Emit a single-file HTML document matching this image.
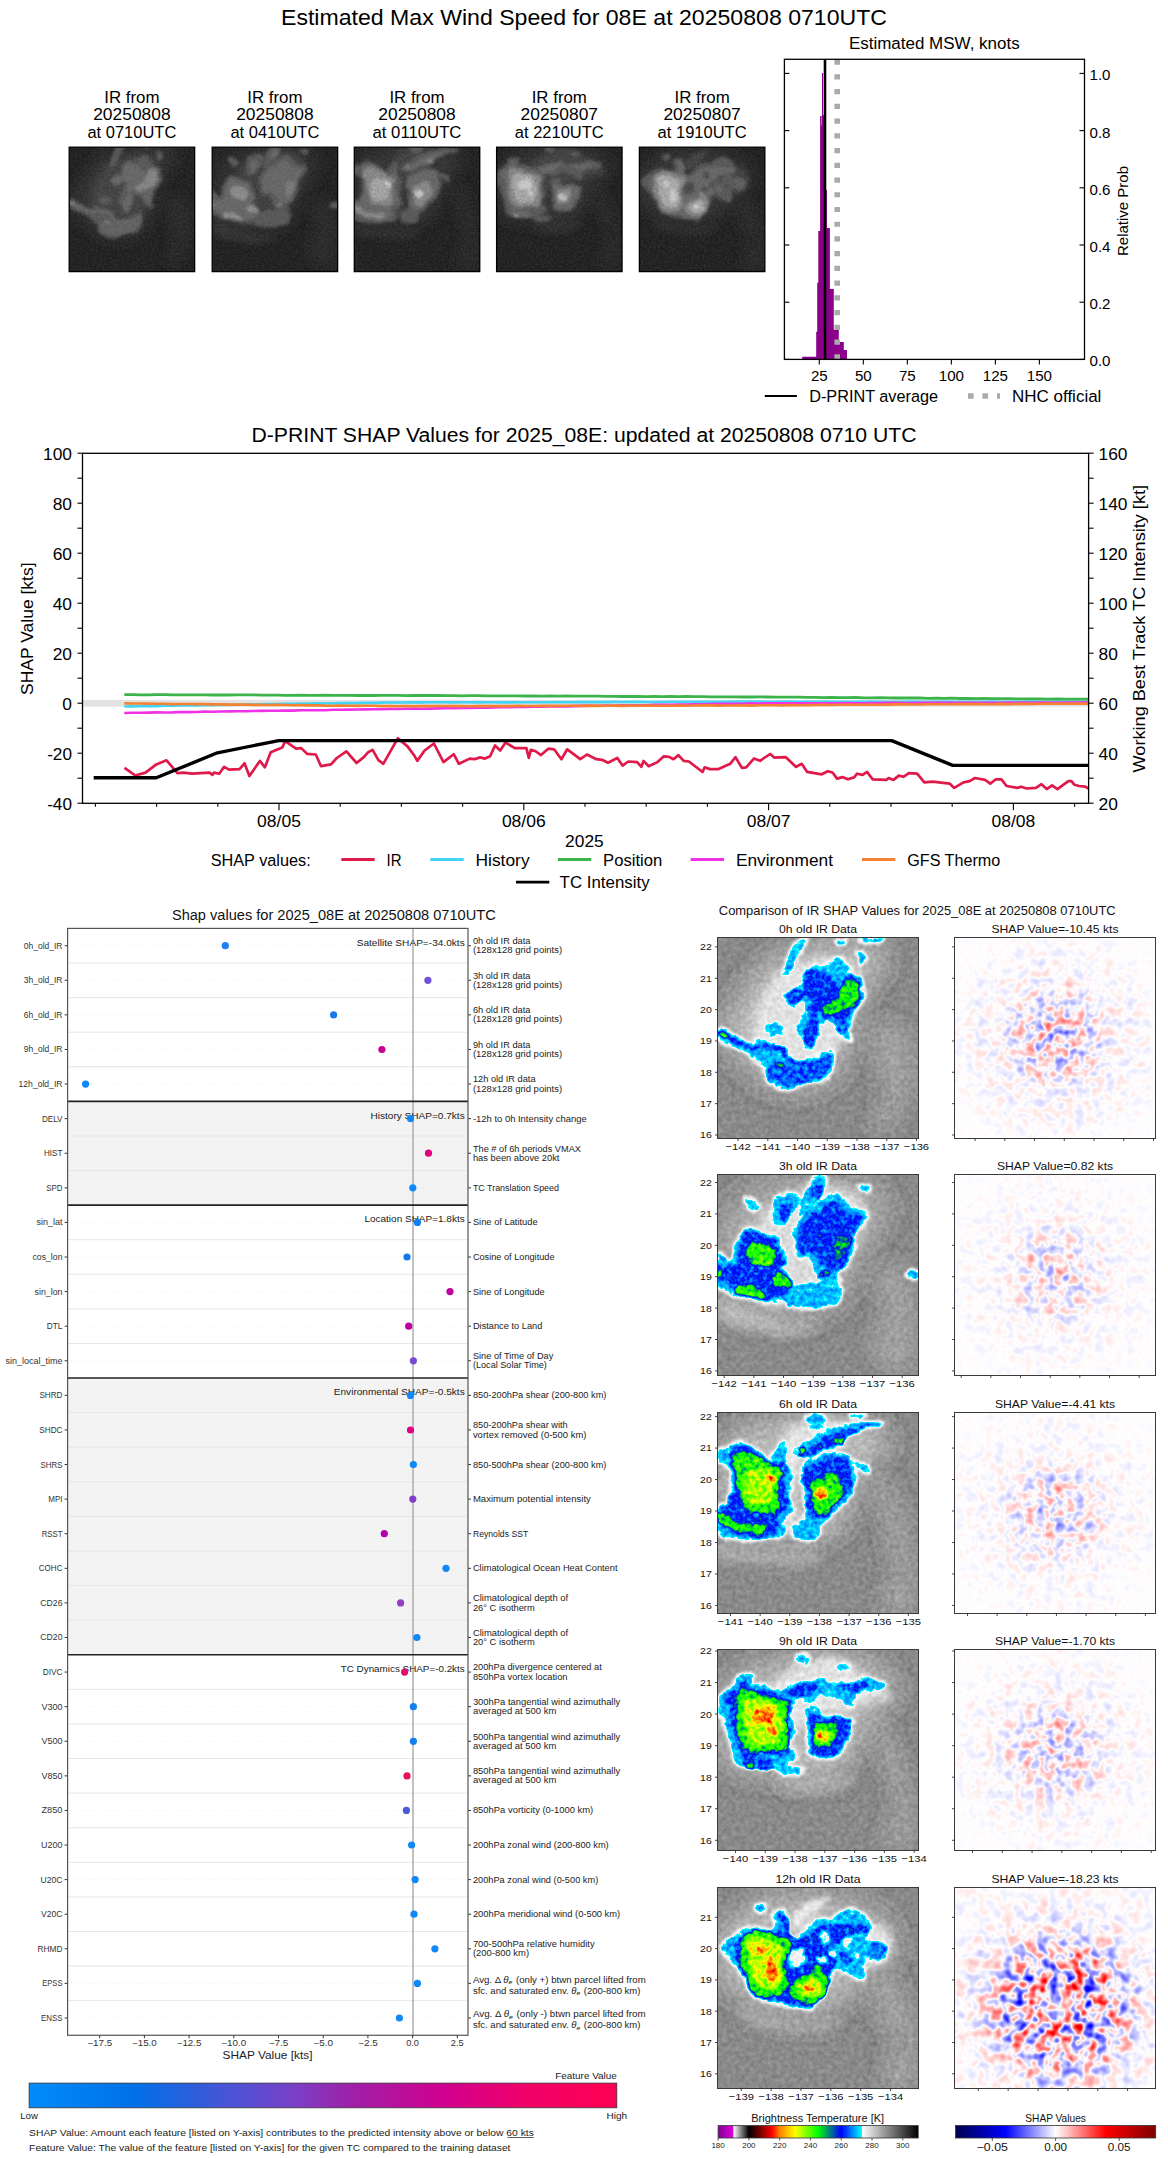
<!DOCTYPE html>
<html><head><meta charset="utf-8"><title>D-PRINT</title>
<style>html,body{margin:0;padding:0;background:#fff;}svg{display:block;}text{font-family:"Liberation Sans",sans-serif;}</style>
</head><body>
<svg width="1168" height="2158" viewBox="0 0 1168 2158">
<rect width="1168" height="2158" fill="#fff"/>
<defs><clipPath id="irclip"><rect width="200" height="200"/></clipPath><filter id="lb3" x="-30%" y="-30%" width="160%" height="160%"><feGaussianBlur stdDeviation="17.5"/></filter><filter id="lb4" x="-30%" y="-30%" width="160%" height="160%"><feGaussianBlur stdDeviation="23.4"/></filter><filter id="lb5" x="-30%" y="-30%" width="160%" height="160%"><feGaussianBlur stdDeviation="29.2"/></filter><filter id="lb6" x="-30%" y="-30%" width="160%" height="160%"><feGaussianBlur stdDeviation="35.0"/></filter><filter id="lb7" x="-30%" y="-30%" width="160%" height="160%"><feGaussianBlur stdDeviation="40.9"/></filter><filter id="lb9" x="-30%" y="-30%" width="160%" height="160%"><feGaussianBlur stdDeviation="52.6"/></filter><filter id="lb12" x="-30%" y="-30%" width="160%" height="160%"><feGaussianBlur stdDeviation="70.1"/></filter><clipPath id="topclip"><rect width="100" height="100"/></clipPath><filter id="tb1" x="-30%" y="-30%" width="160%" height="160%"><feGaussianBlur stdDeviation="0.5"/></filter><filter id="tb2" x="-30%" y="-30%" width="160%" height="160%"><feGaussianBlur stdDeviation="1.0"/></filter><filter id="tb3" x="-30%" y="-30%" width="160%" height="160%"><feGaussianBlur stdDeviation="1.5"/></filter><filter id="tb4" x="-30%" y="-30%" width="160%" height="160%"><feGaussianBlur stdDeviation="2.0"/></filter><filter id="tb5" x="-30%" y="-30%" width="160%" height="160%"><feGaussianBlur stdDeviation="2.5"/></filter><filter id="tb6" x="-30%" y="-30%" width="160%" height="160%"><feGaussianBlur stdDeviation="3.0"/></filter><filter id="tb8" x="-30%" y="-30%" width="160%" height="160%"><feGaussianBlur stdDeviation="4.0"/></filter><filter id="irf0" x="-12" y="-12" width="224" height="224" filterUnits="userSpaceOnUse" color-interpolation-filters="sRGB"><feTurbulence type="fractalNoise" baseFrequency="0.07" numOctaves="3" seed="5" result="dn"/><feDisplacementMap in="SourceGraphic" in2="dn" scale="7" xChannelSelector="R" yChannelSelector="G" result="d"/><feGaussianBlur in="d" stdDeviation="0.9" result="b"/><feTurbulence type="fractalNoise" baseFrequency="0.22" numOctaves="2" seed="8" result="n"/><feColorMatrix in="n" type="matrix" values="1 0 0 0 0 1 0 0 0 0 1 0 0 0 0 0 0 0 0 1" result="ng"/><feComponentTransfer in="b" result="m"><feFuncR type="table" tableValues="0 0 0 0 0 0 0.05 0.11 0.16 0.17 0.17 0.17 0.17 0.17 0.17 0.17 0.17 0.17 0.17 0.17 0.17"/><feFuncG type="table" tableValues="0 0 0 0 0 0 0.05 0.11 0.16 0.17 0.17 0.17 0.17 0.17 0.17 0.17 0.17 0.17 0.17 0.17 0.17"/><feFuncB type="table" tableValues="0 0 0 0 0 0 0.05 0.11 0.16 0.17 0.17 0.17 0.17 0.17 0.17 0.17 0.17 0.17 0.17 0.17 0.17"/></feComponentTransfer><feComposite in="m" in2="ng" operator="arithmetic" k1="1.0" k2="-0.5" k3="0" k4="0.5" result="t"/><feComposite in="b" in2="ng" operator="arithmetic" k1="0" k2="1" k3="0.055" k4="-0.0275" result="b2"/><feComposite in="b2" in2="t" operator="arithmetic" k1="0" k2="1" k3="1" k4="-0.5" result="f"/><feComponentTransfer in="f"><feFuncR type="table" tableValues="0.000 0.014 0.028 0.042 0.056 0.070 0.084 0.098 0.112 0.126 0.140 0.154 0.168 0.182 0.196 0.210 0.224 0.238 0.252 0.266 0.280 0.294 0.308 0.322 0.336 0.350 0.364 0.378 0.392 0.406 0.420 0.434 0.448 0.462 0.476 0.490 0.504 0.518 0.532 0.546 0.560 0.574 0.588 0.602 0.616 0.630 0.644 0.658 0.672 0.686 0.700 0.714 0.728 0.742 0.756 0.770 0.784 0.798 0.812 0.826 0.840 0.854 0.868 0.882 0.896 0.910 0.924 0.938 0.952 0.966 0.980 0.994 0.500 0.000 0.000 0.000 0.000 0.000 0.000 0.000 0.000 0.000 0.000 0.000 0.000 0.000 0.000 0.000 0.000 0.000 0.000 0.000 0.000 0.000 0.000 0.000 0.000 0.000 0.000 0.000 0.000 0.000 0.000 0.000 0.000 0.000 0.000 0.000 0.000 0.000 0.000 0.000 0.000 0.000 0.000 0.000 0.000 0.000 0.000 0.000 0.000 0.000 0.000 0.000 0.000 0.000 0.000 0.000 0.030 0.061 0.091 0.121 0.152 0.182 0.212 0.242 0.273 0.303 0.333 0.364 0.394 0.424 0.455 0.485 0.515 0.545 0.576 0.606 0.636 0.667 0.697 0.727 0.758 0.788 0.818 0.848 0.879 0.909 0.939 0.970 1.000 1.000 1.000 1.000 1.000 1.000 1.000 1.000 1.000 1.000 1.000 1.000 1.000 1.000 1.000 1.000 1.000 1.000 1.000 1.000 1.000 1.000 1.000 1.000 1.000 1.000 1.000 1.000 1.000 1.000 1.000 1.000 1.000 1.000 0.964 0.929 0.893 0.857 0.821 0.786 0.750 0.714 0.679 0.643 0.607 0.571 0.536 0.500 0.464 0.429 0.393 0.357 0.321 0.286 0.250 0.214 0.179 0.143 0.107 0.071 0.036 0.000 0.050 0.100 0.150 0.200 0.250 0.300 0.350 0.400 0.450 0.500 0.550 0.600 0.650 0.700 0.750 0.800 0.850 0.900 0.950 0.922 0.900 0.878 0.857 0.835 0.813 0.792 0.770 0.748 0.727 0.705 0.683 0.662 0.640 0.618 0.596 0.575 0.553 0.531 0.510"/><feFuncG type="table" tableValues="0.000 0.014 0.028 0.042 0.056 0.070 0.084 0.098 0.112 0.126 0.140 0.154 0.168 0.182 0.196 0.210 0.224 0.238 0.252 0.266 0.280 0.294 0.308 0.322 0.336 0.350 0.364 0.378 0.392 0.406 0.420 0.434 0.448 0.462 0.476 0.490 0.504 0.518 0.532 0.546 0.560 0.574 0.588 0.602 0.616 0.630 0.644 0.658 0.672 0.686 0.700 0.714 0.728 0.742 0.756 0.770 0.784 0.798 0.812 0.826 0.840 0.854 0.868 0.882 0.896 0.910 0.924 0.938 0.952 0.966 0.980 0.994 1.000 0.985 0.949 0.912 0.876 0.839 0.803 0.766 0.730 0.693 0.657 0.620 0.584 0.547 0.511 0.474 0.438 0.401 0.365 0.328 0.292 0.255 0.219 0.182 0.146 0.109 0.073 0.036 0.000 0.037 0.074 0.111 0.148 0.185 0.222 0.259 0.296 0.333 0.370 0.407 0.444 0.481 0.519 0.556 0.593 0.630 0.667 0.704 0.741 0.778 0.815 0.852 0.889 0.926 0.963 1.000 1.000 1.000 1.000 1.000 1.000 1.000 1.000 1.000 1.000 1.000 1.000 1.000 1.000 1.000 1.000 1.000 1.000 1.000 1.000 1.000 1.000 1.000 1.000 1.000 1.000 1.000 1.000 1.000 1.000 1.000 1.000 1.000 1.000 0.971 0.941 0.912 0.883 0.854 0.824 0.795 0.766 0.736 0.707 0.678 0.648 0.619 0.590 0.561 0.531 0.502 0.471 0.439 0.408 0.376 0.345 0.314 0.282 0.251 0.220 0.188 0.157 0.125 0.094 0.063 0.031 0.000 0.000 0.000 0.000 0.000 0.000 0.000 0.000 0.000 0.000 0.000 0.000 0.000 0.000 0.000 0.000 0.000 0.000 0.000 0.000 0.000 0.000 0.000 0.000 0.000 0.000 0.000 0.000 0.000 0.050 0.100 0.150 0.200 0.250 0.300 0.350 0.400 0.450 0.500 0.550 0.600 0.650 0.700 0.750 0.800 0.850 0.900 0.950 0.000 0.000 0.000 0.000 0.000 0.000 0.000 0.000 0.000 0.000 0.000 0.000 0.000 0.000 0.000 0.000 0.000 0.000 0.000 0.000"/><feFuncB type="table" tableValues="0.000 0.014 0.028 0.042 0.056 0.070 0.084 0.098 0.112 0.126 0.140 0.154 0.168 0.182 0.196 0.210 0.224 0.238 0.252 0.266 0.280 0.294 0.308 0.322 0.336 0.350 0.364 0.378 0.392 0.406 0.420 0.434 0.448 0.462 0.476 0.490 0.504 0.518 0.532 0.546 0.560 0.574 0.588 0.602 0.616 0.630 0.644 0.658 0.672 0.686 0.700 0.714 0.728 0.742 0.756 0.770 0.784 0.798 0.812 0.826 0.840 0.854 0.868 0.882 0.896 0.910 0.924 0.938 0.952 0.966 0.980 0.994 1.000 1.000 1.000 1.000 1.000 1.000 1.000 1.000 1.000 1.000 1.000 1.000 1.000 1.000 1.000 1.000 1.000 1.000 1.000 1.000 1.000 1.000 1.000 1.000 1.000 1.000 1.000 1.000 1.000 0.963 0.926 0.889 0.852 0.815 0.778 0.741 0.704 0.667 0.630 0.593 0.556 0.519 0.481 0.444 0.407 0.370 0.333 0.296 0.259 0.222 0.185 0.148 0.111 0.074 0.037 0.000 0.000 0.000 0.000 0.000 0.000 0.000 0.000 0.000 0.000 0.000 0.000 0.000 0.000 0.000 0.000 0.000 0.000 0.000 0.000 0.000 0.000 0.000 0.000 0.000 0.000 0.000 0.000 0.000 0.000 0.000 0.000 0.000 0.000 0.000 0.000 0.000 0.000 0.000 0.000 0.000 0.000 0.000 0.000 0.000 0.000 0.000 0.000 0.000 0.000 0.000 0.000 0.000 0.000 0.000 0.000 0.000 0.000 0.000 0.000 0.000 0.000 0.000 0.000 0.000 0.000 0.000 0.000 0.000 0.000 0.000 0.000 0.000 0.000 0.000 0.000 0.000 0.000 0.000 0.000 0.000 0.000 0.000 0.000 0.000 0.000 0.000 0.000 0.000 0.000 0.000 0.000 0.000 0.000 0.000 0.050 0.100 0.150 0.200 0.250 0.300 0.350 0.400 0.450 0.500 0.550 0.600 0.650 0.700 0.750 0.800 0.850 0.900 0.950 0.922 0.906 0.891 0.875 0.860 0.844 0.829 0.813 0.798 0.782 0.767 0.751 0.736 0.720 0.705 0.689 0.674 0.658 0.643 0.627"/></feComponentTransfer></filter><g id="irfield0"><rect x="-12" y="-12" width="224" height="224" fill="rgb(37,37,37)"/><g transform="scale(0.171233)"><path d="M10.0,540.0 C10.0,501.7 38.3,460.0 60.0,420.0 C81.7,380.0 110.0,341.7 140.0,300.0 C170.0,258.3 200.0,208.3 240.0,170.0 C280.0,131.7 333.3,95.0 380.0,70.0 C426.7,45.0 466.7,30.0 520.0,20.0 C573.3,10.0 640.0,10.0 700.0,10.0 C760.0,10.0 831.7,8.3 880.0,20.0 C928.3,31.7 976.7,50.0 990.0,80.0 C1003.3,110.0 978.3,163.3 960.0,200.0 C941.7,236.7 901.7,260.0 880.0,300.0 C858.3,340.0 845.0,390.0 830.0,440.0 C815.0,490.0 806.7,546.7 790.0,600.0 C773.3,653.3 758.3,716.7 730.0,760.0 C701.7,803.3 661.7,836.7 620.0,860.0 C578.3,883.3 526.7,896.7 480.0,900.0 C433.3,903.3 381.7,893.3 340.0,880.0 C298.3,866.7 261.7,843.3 230.0,820.0 C198.3,796.7 178.3,768.3 150.0,740.0 C121.7,711.7 83.3,683.3 60.0,650.0 C36.7,616.7 10.0,578.3 10.0,540.0Z" fill="rgb(50,50,50)" filter="url(#lb12)"/><path d="M200.0,560.0 C201.7,520.0 213.3,450.0 230.0,400.0 C246.7,350.0 268.3,300.0 300.0,260.0 C331.7,220.0 376.7,183.3 420.0,160.0 C463.3,136.7 513.3,126.7 560.0,120.0 C606.7,113.3 660.0,110.0 700.0,120.0 C740.0,130.0 780.0,150.0 800.0,180.0 C820.0,210.0 826.7,250.0 820.0,300.0 C813.3,350.0 780.0,426.7 760.0,480.0 C740.0,533.3 720.0,580.0 700.0,620.0 C680.0,660.0 666.7,696.7 640.0,720.0 C613.3,743.3 580.0,753.3 540.0,760.0 C500.0,766.7 440.0,770.0 400.0,760.0 C360.0,750.0 330.0,720.0 300.0,700.0 C270.0,680.0 236.7,663.3 220.0,640.0 C203.3,616.7 198.3,600.0 200.0,560.0Z" fill="rgb(62,62,62)" filter="url(#lb5)"/><path d="M880.0,520.0 C896.7,483.3 960.0,473.3 1000.0,480.0 C1040.0,486.7 1095.0,506.7 1120.0,560.0 C1145.0,613.3 1153.3,726.7 1150.0,800.0 C1146.7,873.3 1128.3,941.7 1100.0,1000.0 C1071.7,1058.3 1013.3,1133.3 980.0,1150.0 C946.7,1166.7 905.0,1141.7 900.0,1100.0 C895.0,1058.3 950.0,966.7 950.0,900.0 C950.0,833.3 911.7,763.3 900.0,700.0 C888.3,636.7 863.3,556.7 880.0,520.0Z" fill="rgb(42,42,42)" filter="url(#lb9)"/><g fill="rgb(68,68,68)" stroke="rgb(65,65,65)" stroke-width="34" stroke-linejoin="round"><path d="M395.0,330.0 C401.7,316.7 434.2,301.7 450.0,290.0 C465.8,278.3 478.3,276.7 490.0,260.0 C501.7,243.3 508.3,206.7 520.0,190.0 C531.7,173.3 545.0,162.5 560.0,160.0 C575.0,157.5 593.3,176.7 610.0,175.0 C626.7,173.3 645.0,159.2 660.0,150.0 C675.0,140.8 688.3,123.3 700.0,120.0 C711.7,116.7 720.0,120.0 730.0,130.0 C740.0,140.0 748.3,165.0 760.0,180.0 C771.7,195.0 787.5,211.7 800.0,220.0 C812.5,228.3 827.5,216.7 835.0,230.0 C842.5,243.3 844.2,276.7 845.0,300.0 C845.8,323.3 847.5,350.0 840.0,370.0 C832.5,390.0 810.8,403.3 800.0,420.0 C789.2,436.7 780.0,450.0 775.0,470.0 C770.0,490.0 770.0,520.0 770.0,540.0 C770.0,560.0 783.3,585.0 775.0,590.0 C766.7,595.0 734.2,583.3 720.0,570.0 C705.8,556.7 703.3,525.0 690.0,510.0 C676.7,495.0 655.0,478.3 640.0,480.0 C625.0,481.7 610.8,501.7 600.0,520.0 C589.2,538.3 581.7,569.2 575.0,590.0 C568.3,610.8 570.0,635.8 560.0,645.0 C550.0,654.2 525.8,654.2 515.0,645.0 C504.2,635.8 504.2,604.2 495.0,590.0 C485.8,575.8 466.7,571.7 460.0,560.0 C453.3,548.3 450.8,535.0 455.0,520.0 C459.2,505.0 475.8,485.0 485.0,470.0 C494.2,455.0 504.2,441.7 510.0,430.0 C515.8,418.3 523.3,410.0 520.0,400.0 C516.7,390.0 503.3,371.7 490.0,370.0 C476.7,368.3 453.3,390.0 440.0,390.0 C426.7,390.0 417.5,380.0 410.0,370.0 C402.5,360.0 388.3,343.3 395.0,330.0Z"/><path d="M0.0,530.0 C6.7,522.5 25.0,527.5 40.0,535.0 C55.0,542.5 71.7,563.3 90.0,575.0 C108.3,586.7 130.0,599.2 150.0,605.0 C170.0,610.8 195.0,612.5 210.0,610.0 C225.0,607.5 226.7,591.7 240.0,590.0 C253.3,588.3 271.7,593.3 290.0,600.0 C308.3,606.7 331.7,620.0 350.0,630.0 C368.3,640.0 385.0,648.3 400.0,660.0 C415.0,671.7 425.0,690.8 440.0,700.0 C455.0,709.2 470.0,716.7 490.0,715.0 C510.0,713.3 540.0,697.5 560.0,690.0 C580.0,682.5 593.3,675.8 610.0,670.0 C626.7,664.2 649.2,650.0 660.0,655.0 C670.8,660.0 675.0,679.2 675.0,700.0 C675.0,720.8 670.0,758.3 660.0,780.0 C650.0,801.7 635.0,820.8 615.0,830.0 C595.0,839.2 564.2,830.0 540.0,835.0 C515.8,840.0 488.3,853.3 470.0,860.0 C451.7,866.7 453.3,875.8 430.0,875.0 C406.7,874.2 354.2,862.5 330.0,855.0 C305.8,847.5 295.0,845.8 285.0,830.0 C275.0,814.2 282.5,781.7 270.0,760.0 C257.5,738.3 231.7,717.5 210.0,700.0 C188.3,682.5 163.3,669.2 140.0,655.0 C116.7,640.8 93.3,627.5 70.0,615.0 C46.7,602.5 11.7,594.2 0.0,580.0 C-11.7,565.8 -6.7,537.5 0.0,530.0Z"/><path d="M275.0,510.0 C280.0,499.2 311.7,492.5 330.0,495.0 C348.3,497.5 378.3,514.2 385.0,525.0 C391.7,535.8 384.2,554.2 370.0,560.0 C355.8,565.8 315.8,568.3 300.0,560.0 C284.2,551.7 270.0,520.8 275.0,510.0Z"/><path d="M378.0,215.0 C373.0,205.8 388.0,160.0 395.0,140.0 C402.0,120.0 411.7,109.2 420.0,95.0 C428.3,80.8 435.8,68.3 445.0,55.0 C454.2,41.7 463.3,22.8 475.0,15.0 C486.7,7.2 512.5,0.5 515.0,8.0 C517.5,15.5 500.0,39.7 490.0,60.0 C480.0,80.3 465.8,107.5 455.0,130.0 C444.2,152.5 437.8,180.8 425.0,195.0 C412.2,209.2 383.0,224.2 378.0,215.0Z"/><path d="M700.0,10.0 C706.7,6.7 738.3,6.7 745.0,10.0 C751.7,13.3 746.7,26.7 740.0,30.0 C733.3,33.3 711.7,33.3 705.0,30.0 C698.3,26.7 693.3,13.3 700.0,10.0Z"/><path d="M830.0,5.0 C846.7,2.5 933.3,1.7 950.0,5.0 C966.7,8.3 946.7,22.5 930.0,25.0 C913.3,27.5 866.7,23.3 850.0,20.0 C833.3,16.7 813.3,7.5 830.0,5.0Z"/><path d="M815.0,100.0 C819.2,89.2 842.5,78.3 850.0,85.0 C857.5,91.7 864.2,129.2 860.0,140.0 C855.8,150.8 832.5,156.7 825.0,150.0 C817.5,143.3 810.8,110.8 815.0,100.0Z"/></g><g fill="rgb(78,78,78)"><path d="M395.0,330.0 C401.7,316.7 434.2,301.7 450.0,290.0 C465.8,278.3 478.3,276.7 490.0,260.0 C501.7,243.3 508.3,206.7 520.0,190.0 C531.7,173.3 545.0,162.5 560.0,160.0 C575.0,157.5 593.3,176.7 610.0,175.0 C626.7,173.3 645.0,159.2 660.0,150.0 C675.0,140.8 688.3,123.3 700.0,120.0 C711.7,116.7 720.0,120.0 730.0,130.0 C740.0,140.0 748.3,165.0 760.0,180.0 C771.7,195.0 787.5,211.7 800.0,220.0 C812.5,228.3 827.5,216.7 835.0,230.0 C842.5,243.3 844.2,276.7 845.0,300.0 C845.8,323.3 847.5,350.0 840.0,370.0 C832.5,390.0 810.8,403.3 800.0,420.0 C789.2,436.7 780.0,450.0 775.0,470.0 C770.0,490.0 770.0,520.0 770.0,540.0 C770.0,560.0 783.3,585.0 775.0,590.0 C766.7,595.0 734.2,583.3 720.0,570.0 C705.8,556.7 703.3,525.0 690.0,510.0 C676.7,495.0 655.0,478.3 640.0,480.0 C625.0,481.7 610.8,501.7 600.0,520.0 C589.2,538.3 581.7,569.2 575.0,590.0 C568.3,610.8 570.0,635.8 560.0,645.0 C550.0,654.2 525.8,654.2 515.0,645.0 C504.2,635.8 504.2,604.2 495.0,590.0 C485.8,575.8 466.7,571.7 460.0,560.0 C453.3,548.3 450.8,535.0 455.0,520.0 C459.2,505.0 475.8,485.0 485.0,470.0 C494.2,455.0 504.2,441.7 510.0,430.0 C515.8,418.3 523.3,410.0 520.0,400.0 C516.7,390.0 503.3,371.7 490.0,370.0 C476.7,368.3 453.3,390.0 440.0,390.0 C426.7,390.0 417.5,380.0 410.0,370.0 C402.5,360.0 388.3,343.3 395.0,330.0Z"/><path d="M0.0,530.0 C6.7,522.5 25.0,527.5 40.0,535.0 C55.0,542.5 71.7,563.3 90.0,575.0 C108.3,586.7 130.0,599.2 150.0,605.0 C170.0,610.8 195.0,612.5 210.0,610.0 C225.0,607.5 226.7,591.7 240.0,590.0 C253.3,588.3 271.7,593.3 290.0,600.0 C308.3,606.7 331.7,620.0 350.0,630.0 C368.3,640.0 385.0,648.3 400.0,660.0 C415.0,671.7 425.0,690.8 440.0,700.0 C455.0,709.2 470.0,716.7 490.0,715.0 C510.0,713.3 540.0,697.5 560.0,690.0 C580.0,682.5 593.3,675.8 610.0,670.0 C626.7,664.2 649.2,650.0 660.0,655.0 C670.8,660.0 675.0,679.2 675.0,700.0 C675.0,720.8 670.0,758.3 660.0,780.0 C650.0,801.7 635.0,820.8 615.0,830.0 C595.0,839.2 564.2,830.0 540.0,835.0 C515.8,840.0 488.3,853.3 470.0,860.0 C451.7,866.7 453.3,875.8 430.0,875.0 C406.7,874.2 354.2,862.5 330.0,855.0 C305.8,847.5 295.0,845.8 285.0,830.0 C275.0,814.2 282.5,781.7 270.0,760.0 C257.5,738.3 231.7,717.5 210.0,700.0 C188.3,682.5 163.3,669.2 140.0,655.0 C116.7,640.8 93.3,627.5 70.0,615.0 C46.7,602.5 11.7,594.2 0.0,580.0 C-11.7,565.8 -6.7,537.5 0.0,530.0Z"/><path d="M275.0,510.0 C280.0,499.2 311.7,492.5 330.0,495.0 C348.3,497.5 378.3,514.2 385.0,525.0 C391.7,535.8 384.2,554.2 370.0,560.0 C355.8,565.8 315.8,568.3 300.0,560.0 C284.2,551.7 270.0,520.8 275.0,510.0Z"/><path d="M378.0,215.0 C373.0,205.8 388.0,160.0 395.0,140.0 C402.0,120.0 411.7,109.2 420.0,95.0 C428.3,80.8 435.8,68.3 445.0,55.0 C454.2,41.7 463.3,22.8 475.0,15.0 C486.7,7.2 512.5,0.5 515.0,8.0 C517.5,15.5 500.0,39.7 490.0,60.0 C480.0,80.3 465.8,107.5 455.0,130.0 C444.2,152.5 437.8,180.8 425.0,195.0 C412.2,209.2 383.0,224.2 378.0,215.0Z"/><path d="M700.0,10.0 C706.7,6.7 738.3,6.7 745.0,10.0 C751.7,13.3 746.7,26.7 740.0,30.0 C733.3,33.3 711.7,33.3 705.0,30.0 C698.3,26.7 693.3,13.3 700.0,10.0Z"/><path d="M830.0,5.0 C846.7,2.5 933.3,1.7 950.0,5.0 C966.7,8.3 946.7,22.5 930.0,25.0 C913.3,27.5 866.7,23.3 850.0,20.0 C833.3,16.7 813.3,7.5 830.0,5.0Z"/><path d="M815.0,100.0 C819.2,89.2 842.5,78.3 850.0,85.0 C857.5,91.7 864.2,129.2 860.0,140.0 C855.8,150.8 832.5,156.7 825.0,150.0 C817.5,143.3 810.8,110.8 815.0,100.0Z"/></g><g fill="rgb(88,88,88)"><path d="M290.0,760.0 C300.8,744.2 335.0,731.7 360.0,730.0 C385.0,728.3 413.3,748.3 440.0,750.0 C466.7,751.7 493.3,749.2 520.0,740.0 C546.7,730.8 577.5,704.2 600.0,695.0 C622.5,685.8 647.5,670.8 655.0,685.0 C662.5,699.2 654.2,756.7 645.0,780.0 C635.8,803.3 629.2,812.5 600.0,825.0 C570.8,837.5 514.2,851.7 470.0,855.0 C425.8,858.3 364.2,850.0 335.0,845.0 C305.8,840.0 302.5,839.2 295.0,825.0 C287.5,810.8 279.2,775.8 290.0,760.0Z"/><path d="M680.0,460.0 C688.3,450.0 726.7,436.7 740.0,450.0 C753.3,463.3 763.3,521.7 760.0,540.0 C756.7,558.3 731.7,565.0 720.0,560.0 C708.3,555.0 696.7,526.7 690.0,510.0 C683.3,493.3 671.7,470.0 680.0,460.0Z"/></g><g fill="rgb(93,93,93)"><path d="M490.0,290.0 C492.5,268.3 508.3,223.3 520.0,205.0 C531.7,186.7 545.8,179.2 560.0,180.0 C574.2,180.8 590.0,202.5 605.0,210.0 C620.0,217.5 635.8,215.8 650.0,225.0 C664.2,234.2 680.8,247.5 690.0,265.0 C699.2,282.5 709.2,310.8 705.0,330.0 C700.8,349.2 678.3,368.3 665.0,380.0 C651.7,391.7 637.5,390.0 625.0,400.0 C612.5,410.0 600.8,428.3 590.0,440.0 C579.2,451.7 570.0,471.7 560.0,470.0 C550.0,468.3 533.3,445.0 530.0,430.0 C526.7,415.0 544.2,395.8 540.0,380.0 C535.8,364.2 513.3,350.0 505.0,335.0 C496.7,320.0 487.5,311.7 490.0,290.0Z"/><path d="M535.0,490.0 C550.0,476.7 583.3,468.3 590.0,480.0 C596.7,491.7 580.0,535.0 575.0,560.0 C570.0,585.0 569.2,620.0 560.0,630.0 C550.8,640.0 530.0,631.7 520.0,620.0 C510.0,608.3 497.5,581.7 500.0,560.0 C502.5,538.3 520.0,503.3 535.0,490.0Z"/><path d="M0.0,548.0 C3.3,553.8 38.3,577.2 60.0,590.0 C81.7,602.8 106.7,615.0 130.0,625.0 C153.3,635.0 178.3,647.5 200.0,650.0 C221.7,652.5 240.0,640.0 260.0,640.0 C280.0,640.0 300.0,643.3 320.0,650.0 C340.0,656.7 363.3,668.3 380.0,680.0 C396.7,691.7 405.0,709.2 420.0,720.0 C435.0,730.8 453.3,738.3 470.0,745.0 C486.7,751.7 501.7,761.7 520.0,760.0 C538.3,758.3 560.0,746.7 580.0,735.0 C600.0,723.3 643.3,693.3 640.0,690.0 C636.7,686.7 583.3,709.2 560.0,715.0 C536.7,720.8 520.0,727.5 500.0,725.0 C480.0,722.5 458.3,710.8 440.0,700.0 C421.7,689.2 410.0,672.5 390.0,660.0 C370.0,647.5 343.3,632.5 320.0,625.0 C296.7,617.5 270.0,614.2 250.0,615.0 C230.0,615.8 221.7,632.5 200.0,630.0 C178.3,627.5 146.7,612.5 120.0,600.0 C93.3,587.5 60.0,563.7 40.0,555.0 C20.0,546.3 -3.3,542.2 0.0,548.0Z"/><path d="M400.0,330.0 C408.3,318.3 453.3,300.0 470.0,300.0 C486.7,300.0 500.0,318.3 500.0,330.0 C500.0,341.7 483.3,363.3 470.0,370.0 C456.7,376.7 431.7,376.7 420.0,370.0 C408.3,363.3 391.7,341.7 400.0,330.0Z"/><path d="M600.0,400.0 C616.7,376.7 676.7,328.3 700.0,300.0 C723.3,271.7 720.0,242.5 740.0,230.0 C760.0,217.5 803.3,213.3 820.0,225.0 C836.7,236.7 838.3,274.2 840.0,300.0 C841.7,325.8 840.0,360.0 830.0,380.0 C820.0,400.0 791.7,405.0 780.0,420.0 C768.3,435.0 773.3,463.3 760.0,470.0 C746.7,476.7 720.0,460.0 700.0,460.0 C680.0,460.0 656.7,473.3 640.0,470.0 C623.3,466.7 606.7,451.7 600.0,440.0 C593.3,428.3 583.3,423.3 600.0,400.0Z"/></g><g fill="rgb(124,124,124)"><path d="M715.0,300.0 C723.3,283.3 735.8,253.3 750.0,245.0 C764.2,236.7 787.0,240.8 800.0,250.0 C813.0,259.2 824.7,281.7 828.0,300.0 C831.3,318.3 826.3,343.3 820.0,360.0 C813.7,376.7 800.8,391.7 790.0,400.0 C779.2,408.3 767.5,405.8 755.0,410.0 C742.5,414.2 727.5,420.0 715.0,425.0 C702.5,430.0 695.0,439.2 680.0,440.0 C665.0,440.8 635.8,435.8 625.0,430.0 C614.2,424.2 609.2,412.5 615.0,405.0 C620.8,397.5 645.8,395.0 660.0,385.0 C674.2,375.0 690.8,359.2 700.0,345.0 C709.2,330.8 706.7,316.7 715.0,300.0Z"/><path d="M0.0,550.0 C1.7,546.7 20.0,555.0 30.0,560.0 C40.0,565.0 61.7,576.7 60.0,580.0 C58.3,583.3 30.0,585.0 20.0,580.0 C10.0,575.0 -1.7,553.3 0.0,550.0Z"/><path d="M340.0,720.0 C346.7,718.3 380.8,730.0 390.0,735.0 C399.2,740.0 401.7,748.3 395.0,750.0 C388.3,751.7 359.2,750.0 350.0,745.0 C340.8,740.0 333.3,721.7 340.0,720.0Z"/></g></g></g><g id="ir0"><g clip-path="url(#irclip)"><g filter="url(#irf0)"><use href="#irfield0"/></g></g></g><filter id="tgf0" x="-12" y="-12" width="224" height="224" filterUnits="userSpaceOnUse" color-interpolation-filters="sRGB"><feTurbulence type="fractalNoise" baseFrequency="0.07" numOctaves="3" seed="5" result="dn"/><feDisplacementMap in="SourceGraphic" in2="dn" scale="7" xChannelSelector="R" yChannelSelector="G" result="d"/><feGaussianBlur in="d" stdDeviation="1.5" result="b"/><feTurbulence type="fractalNoise" baseFrequency="0.3" numOctaves="2" seed="8" result="n"/><feColorMatrix in="n" type="matrix" values="1 0 0 0 0 1 0 0 0 0 1 0 0 0 0 0 0 0 0 1" result="ng"/><feComposite in="b" in2="ng" operator="arithmetic" k1="0" k2="1" k3="0.07" k4="-0.035" result="f"/><feComponentTransfer in="f" result="c"><feFuncR type="table" tableValues="0.110 0.114 0.117 0.121 0.124 0.128 0.131 0.135 0.138 0.142 0.145 0.149 0.152 0.156 0.159 0.163 0.166 0.170 0.181 0.192 0.203 0.213 0.224 0.235 0.244 0.254 0.263 0.272 0.281 0.291 0.300 0.310 0.320 0.330 0.340 0.350 0.360 0.367 0.375 0.383 0.390 0.397 0.405 0.412 0.420 0.426 0.432 0.439 0.445 0.451 0.457 0.464 0.470 0.477 0.483 0.490 0.497 0.503 0.510 0.517 0.523 0.530 0.537 0.543 0.550 0.561 0.572 0.583 0.593 0.604 0.615 0.626 0.637 0.648 0.658 0.669 0.680 0.688 0.697 0.705 0.714 0.722 0.731 0.739 0.748 0.756 0.765 0.773 0.782 0.790 0.793 0.796 0.799 0.801 0.804 0.807 0.810 0.813 0.816 0.819 0.821 0.824 0.827 0.830 0.833 0.836 0.839 0.841 0.844 0.847 0.850 0.853 0.855 0.857 0.860 0.863 0.865 0.867 0.870 0.873 0.875 0.877 0.880 0.883 0.885 0.887 0.890 0.893 0.895 0.897 0.900"/><feFuncG type="table" tableValues="0.110 0.114 0.117 0.121 0.124 0.128 0.131 0.135 0.138 0.142 0.145 0.149 0.152 0.156 0.159 0.163 0.166 0.170 0.181 0.192 0.203 0.213 0.224 0.235 0.244 0.254 0.263 0.272 0.281 0.291 0.300 0.310 0.320 0.330 0.340 0.350 0.360 0.367 0.375 0.383 0.390 0.397 0.405 0.412 0.420 0.426 0.432 0.439 0.445 0.451 0.457 0.464 0.470 0.477 0.483 0.490 0.497 0.503 0.510 0.517 0.523 0.530 0.537 0.543 0.550 0.561 0.572 0.583 0.593 0.604 0.615 0.626 0.637 0.648 0.658 0.669 0.680 0.688 0.697 0.705 0.714 0.722 0.731 0.739 0.748 0.756 0.765 0.773 0.782 0.790 0.793 0.796 0.799 0.801 0.804 0.807 0.810 0.813 0.816 0.819 0.821 0.824 0.827 0.830 0.833 0.836 0.839 0.841 0.844 0.847 0.850 0.853 0.855 0.857 0.860 0.863 0.865 0.867 0.870 0.873 0.875 0.877 0.880 0.883 0.885 0.887 0.890 0.893 0.895 0.897 0.900"/><feFuncB type="table" tableValues="0.110 0.114 0.117 0.121 0.124 0.128 0.131 0.135 0.138 0.142 0.145 0.149 0.152 0.156 0.159 0.163 0.166 0.170 0.181 0.192 0.203 0.213 0.224 0.235 0.244 0.254 0.263 0.272 0.281 0.291 0.300 0.310 0.320 0.330 0.340 0.350 0.360 0.367 0.375 0.383 0.390 0.397 0.405 0.412 0.420 0.426 0.432 0.439 0.445 0.451 0.457 0.464 0.470 0.477 0.483 0.490 0.497 0.503 0.510 0.517 0.523 0.530 0.537 0.543 0.550 0.561 0.572 0.583 0.593 0.604 0.615 0.626 0.637 0.648 0.658 0.669 0.680 0.688 0.697 0.705 0.714 0.722 0.731 0.739 0.748 0.756 0.765 0.773 0.782 0.790 0.793 0.796 0.799 0.801 0.804 0.807 0.810 0.813 0.816 0.819 0.821 0.824 0.827 0.830 0.833 0.836 0.839 0.841 0.844 0.847 0.850 0.853 0.855 0.857 0.860 0.863 0.865 0.867 0.870 0.873 0.875 0.877 0.880 0.883 0.885 0.887 0.890 0.893 0.895 0.897 0.900"/></feComponentTransfer><feComposite in="c" in2="ng" operator="arithmetic" k1="0.12" k2="1" k3="0" k4="-0.06"/></filter><g id="topir0"><g clip-path="url(#topclip)"><g transform="translate(0,-3) scale(0.5)"><g filter="url(#tgf0)"><use href="#irfield0"/></g></g></g></g><filter id="irf1" x="-12" y="-12" width="224" height="224" filterUnits="userSpaceOnUse" color-interpolation-filters="sRGB"><feTurbulence type="fractalNoise" baseFrequency="0.07" numOctaves="3" seed="18" result="dn"/><feDisplacementMap in="SourceGraphic" in2="dn" scale="7" xChannelSelector="R" yChannelSelector="G" result="d"/><feGaussianBlur in="d" stdDeviation="0.9" result="b"/><feTurbulence type="fractalNoise" baseFrequency="0.22" numOctaves="2" seed="21" result="n"/><feColorMatrix in="n" type="matrix" values="1 0 0 0 0 1 0 0 0 0 1 0 0 0 0 0 0 0 0 1" result="ng"/><feComponentTransfer in="b" result="m"><feFuncR type="table" tableValues="0 0 0 0 0 0 0.05 0.11 0.16 0.17 0.17 0.17 0.17 0.17 0.17 0.17 0.17 0.17 0.17 0.17 0.17"/><feFuncG type="table" tableValues="0 0 0 0 0 0 0.05 0.11 0.16 0.17 0.17 0.17 0.17 0.17 0.17 0.17 0.17 0.17 0.17 0.17 0.17"/><feFuncB type="table" tableValues="0 0 0 0 0 0 0.05 0.11 0.16 0.17 0.17 0.17 0.17 0.17 0.17 0.17 0.17 0.17 0.17 0.17 0.17"/></feComponentTransfer><feComposite in="m" in2="ng" operator="arithmetic" k1="1.0" k2="-0.5" k3="0" k4="0.5" result="t"/><feComposite in="b" in2="ng" operator="arithmetic" k1="0" k2="1" k3="0.055" k4="-0.0275" result="b2"/><feComposite in="b2" in2="t" operator="arithmetic" k1="0" k2="1" k3="1" k4="-0.5" result="f"/><feComponentTransfer in="f"><feFuncR type="table" tableValues="0.000 0.014 0.028 0.042 0.056 0.070 0.084 0.098 0.112 0.126 0.140 0.154 0.168 0.182 0.196 0.210 0.224 0.238 0.252 0.266 0.280 0.294 0.308 0.322 0.336 0.350 0.364 0.378 0.392 0.406 0.420 0.434 0.448 0.462 0.476 0.490 0.504 0.518 0.532 0.546 0.560 0.574 0.588 0.602 0.616 0.630 0.644 0.658 0.672 0.686 0.700 0.714 0.728 0.742 0.756 0.770 0.784 0.798 0.812 0.826 0.840 0.854 0.868 0.882 0.896 0.910 0.924 0.938 0.952 0.966 0.980 0.994 0.500 0.000 0.000 0.000 0.000 0.000 0.000 0.000 0.000 0.000 0.000 0.000 0.000 0.000 0.000 0.000 0.000 0.000 0.000 0.000 0.000 0.000 0.000 0.000 0.000 0.000 0.000 0.000 0.000 0.000 0.000 0.000 0.000 0.000 0.000 0.000 0.000 0.000 0.000 0.000 0.000 0.000 0.000 0.000 0.000 0.000 0.000 0.000 0.000 0.000 0.000 0.000 0.000 0.000 0.000 0.000 0.030 0.061 0.091 0.121 0.152 0.182 0.212 0.242 0.273 0.303 0.333 0.364 0.394 0.424 0.455 0.485 0.515 0.545 0.576 0.606 0.636 0.667 0.697 0.727 0.758 0.788 0.818 0.848 0.879 0.909 0.939 0.970 1.000 1.000 1.000 1.000 1.000 1.000 1.000 1.000 1.000 1.000 1.000 1.000 1.000 1.000 1.000 1.000 1.000 1.000 1.000 1.000 1.000 1.000 1.000 1.000 1.000 1.000 1.000 1.000 1.000 1.000 1.000 1.000 1.000 1.000 0.964 0.929 0.893 0.857 0.821 0.786 0.750 0.714 0.679 0.643 0.607 0.571 0.536 0.500 0.464 0.429 0.393 0.357 0.321 0.286 0.250 0.214 0.179 0.143 0.107 0.071 0.036 0.000 0.050 0.100 0.150 0.200 0.250 0.300 0.350 0.400 0.450 0.500 0.550 0.600 0.650 0.700 0.750 0.800 0.850 0.900 0.950 0.922 0.900 0.878 0.857 0.835 0.813 0.792 0.770 0.748 0.727 0.705 0.683 0.662 0.640 0.618 0.596 0.575 0.553 0.531 0.510"/><feFuncG type="table" tableValues="0.000 0.014 0.028 0.042 0.056 0.070 0.084 0.098 0.112 0.126 0.140 0.154 0.168 0.182 0.196 0.210 0.224 0.238 0.252 0.266 0.280 0.294 0.308 0.322 0.336 0.350 0.364 0.378 0.392 0.406 0.420 0.434 0.448 0.462 0.476 0.490 0.504 0.518 0.532 0.546 0.560 0.574 0.588 0.602 0.616 0.630 0.644 0.658 0.672 0.686 0.700 0.714 0.728 0.742 0.756 0.770 0.784 0.798 0.812 0.826 0.840 0.854 0.868 0.882 0.896 0.910 0.924 0.938 0.952 0.966 0.980 0.994 1.000 0.985 0.949 0.912 0.876 0.839 0.803 0.766 0.730 0.693 0.657 0.620 0.584 0.547 0.511 0.474 0.438 0.401 0.365 0.328 0.292 0.255 0.219 0.182 0.146 0.109 0.073 0.036 0.000 0.037 0.074 0.111 0.148 0.185 0.222 0.259 0.296 0.333 0.370 0.407 0.444 0.481 0.519 0.556 0.593 0.630 0.667 0.704 0.741 0.778 0.815 0.852 0.889 0.926 0.963 1.000 1.000 1.000 1.000 1.000 1.000 1.000 1.000 1.000 1.000 1.000 1.000 1.000 1.000 1.000 1.000 1.000 1.000 1.000 1.000 1.000 1.000 1.000 1.000 1.000 1.000 1.000 1.000 1.000 1.000 1.000 1.000 1.000 1.000 0.971 0.941 0.912 0.883 0.854 0.824 0.795 0.766 0.736 0.707 0.678 0.648 0.619 0.590 0.561 0.531 0.502 0.471 0.439 0.408 0.376 0.345 0.314 0.282 0.251 0.220 0.188 0.157 0.125 0.094 0.063 0.031 0.000 0.000 0.000 0.000 0.000 0.000 0.000 0.000 0.000 0.000 0.000 0.000 0.000 0.000 0.000 0.000 0.000 0.000 0.000 0.000 0.000 0.000 0.000 0.000 0.000 0.000 0.000 0.000 0.000 0.050 0.100 0.150 0.200 0.250 0.300 0.350 0.400 0.450 0.500 0.550 0.600 0.650 0.700 0.750 0.800 0.850 0.900 0.950 0.000 0.000 0.000 0.000 0.000 0.000 0.000 0.000 0.000 0.000 0.000 0.000 0.000 0.000 0.000 0.000 0.000 0.000 0.000 0.000"/><feFuncB type="table" tableValues="0.000 0.014 0.028 0.042 0.056 0.070 0.084 0.098 0.112 0.126 0.140 0.154 0.168 0.182 0.196 0.210 0.224 0.238 0.252 0.266 0.280 0.294 0.308 0.322 0.336 0.350 0.364 0.378 0.392 0.406 0.420 0.434 0.448 0.462 0.476 0.490 0.504 0.518 0.532 0.546 0.560 0.574 0.588 0.602 0.616 0.630 0.644 0.658 0.672 0.686 0.700 0.714 0.728 0.742 0.756 0.770 0.784 0.798 0.812 0.826 0.840 0.854 0.868 0.882 0.896 0.910 0.924 0.938 0.952 0.966 0.980 0.994 1.000 1.000 1.000 1.000 1.000 1.000 1.000 1.000 1.000 1.000 1.000 1.000 1.000 1.000 1.000 1.000 1.000 1.000 1.000 1.000 1.000 1.000 1.000 1.000 1.000 1.000 1.000 1.000 1.000 0.963 0.926 0.889 0.852 0.815 0.778 0.741 0.704 0.667 0.630 0.593 0.556 0.519 0.481 0.444 0.407 0.370 0.333 0.296 0.259 0.222 0.185 0.148 0.111 0.074 0.037 0.000 0.000 0.000 0.000 0.000 0.000 0.000 0.000 0.000 0.000 0.000 0.000 0.000 0.000 0.000 0.000 0.000 0.000 0.000 0.000 0.000 0.000 0.000 0.000 0.000 0.000 0.000 0.000 0.000 0.000 0.000 0.000 0.000 0.000 0.000 0.000 0.000 0.000 0.000 0.000 0.000 0.000 0.000 0.000 0.000 0.000 0.000 0.000 0.000 0.000 0.000 0.000 0.000 0.000 0.000 0.000 0.000 0.000 0.000 0.000 0.000 0.000 0.000 0.000 0.000 0.000 0.000 0.000 0.000 0.000 0.000 0.000 0.000 0.000 0.000 0.000 0.000 0.000 0.000 0.000 0.000 0.000 0.000 0.000 0.000 0.000 0.000 0.000 0.000 0.000 0.000 0.000 0.000 0.000 0.000 0.050 0.100 0.150 0.200 0.250 0.300 0.350 0.400 0.450 0.500 0.550 0.600 0.650 0.700 0.750 0.800 0.850 0.900 0.950 0.922 0.906 0.891 0.875 0.860 0.844 0.829 0.813 0.798 0.782 0.767 0.751 0.736 0.720 0.705 0.689 0.674 0.658 0.643 0.627"/></feComponentTransfer></filter><g id="irfield1"><rect x="-12" y="-12" width="224" height="224" fill="rgb(37,37,37)"/><g transform="scale(0.171233)"><path d="M0.0,380.0 C10.0,296.7 26.7,250.0 60.0,200.0 C93.3,150.0 143.3,110.0 200.0,80.0 C256.7,50.0 330.0,32.5 400.0,20.0 C470.0,7.5 545.0,3.3 620.0,5.0 C695.0,6.7 786.7,5.8 850.0,30.0 C913.3,54.2 981.7,105.0 1000.0,150.0 C1018.3,195.0 980.0,250.0 960.0,300.0 C940.0,350.0 906.7,400.0 880.0,450.0 C853.3,500.0 830.0,548.3 800.0,600.0 C770.0,651.7 740.0,720.0 700.0,760.0 C660.0,800.0 610.0,825.0 560.0,840.0 C510.0,855.0 455.0,853.3 400.0,850.0 C345.0,846.7 283.3,835.0 230.0,820.0 C176.7,805.0 118.3,780.0 80.0,760.0 C41.7,740.0 13.3,763.3 0.0,700.0 C-13.3,636.7 -10.0,463.3 0.0,380.0Z" fill="rgb(47,47,47)" filter="url(#lb12)"/><path d="M120.0,520.0 C123.3,453.3 165.0,360.0 200.0,300.0 C235.0,240.0 283.3,196.7 330.0,160.0 C376.7,123.3 426.7,96.7 480.0,80.0 C533.3,63.3 593.3,53.3 650.0,60.0 C706.7,66.7 785.0,88.3 820.0,120.0 C855.0,151.7 863.3,200.0 860.0,250.0 C856.7,300.0 823.3,368.3 800.0,420.0 C776.7,471.7 746.7,513.3 720.0,560.0 C693.3,606.7 676.7,666.7 640.0,700.0 C603.3,733.3 551.7,750.0 500.0,760.0 C448.3,770.0 383.3,770.0 330.0,760.0 C276.7,750.0 215.0,740.0 180.0,700.0 C145.0,660.0 116.7,586.7 120.0,520.0Z" fill="rgb(59,59,59)" filter="url(#lb5)"/><path d="M900.0,600.0 C916.7,550.0 1008.3,483.3 1050.0,500.0 C1091.7,516.7 1133.3,600.0 1150.0,700.0 C1166.7,800.0 1175.0,1023.3 1150.0,1100.0 C1125.0,1176.7 1045.0,1176.7 1000.0,1160.0 C955.0,1143.3 888.3,1060.0 880.0,1000.0 C871.7,940.0 946.7,866.7 950.0,800.0 C953.3,733.3 883.3,650.0 900.0,600.0Z" fill="rgb(42,42,42)" filter="url(#lb9)"/><path d="M0.0,720.0 C33.3,708.3 133.3,756.7 200.0,780.0 C266.7,803.3 333.3,843.3 400.0,860.0 C466.7,876.7 600.0,866.7 600.0,880.0 C600.0,893.3 475.0,936.7 400.0,940.0 C325.0,943.3 216.7,915.0 150.0,900.0 C83.3,885.0 25.0,880.0 0.0,850.0 C-25.0,820.0 -33.3,731.7 0.0,720.0Z" fill="rgb(48,48,48)" filter="url(#lb6)"/><g fill="rgb(68,68,68)" stroke="rgb(65,65,65)" stroke-width="34" stroke-linejoin="round"><path d="M0.0,470.0 C10.0,446.7 43.3,500.0 60.0,500.0 C76.7,500.0 93.3,485.0 100.0,470.0 C106.7,455.0 93.3,433.3 100.0,410.0 C106.7,386.7 126.7,346.7 140.0,330.0 C153.3,313.3 165.0,311.7 180.0,310.0 C195.0,308.3 213.3,313.3 230.0,320.0 C246.7,326.7 261.7,343.3 280.0,350.0 C298.3,356.7 325.0,348.3 340.0,360.0 C355.0,371.7 360.0,400.0 370.0,420.0 C380.0,440.0 398.3,460.0 400.0,480.0 C401.7,500.0 376.7,520.0 380.0,540.0 C383.3,560.0 410.0,583.3 420.0,600.0 C430.0,616.7 416.7,635.0 440.0,640.0 C463.3,645.0 526.7,633.3 560.0,630.0 C593.3,626.7 616.7,618.3 640.0,620.0 C663.3,621.7 686.7,626.7 700.0,640.0 C713.3,653.3 723.3,681.7 720.0,700.0 C716.7,718.3 700.0,738.3 680.0,750.0 C660.0,761.7 620.0,765.0 600.0,770.0 C580.0,775.0 580.0,781.7 560.0,780.0 C540.0,778.3 503.3,761.7 480.0,760.0 C456.7,758.3 436.7,773.3 420.0,770.0 C403.3,766.7 400.0,745.0 380.0,740.0 C360.0,735.0 330.0,743.3 300.0,740.0 C270.0,736.7 233.3,726.7 200.0,720.0 C166.7,713.3 130.0,710.0 100.0,700.0 C70.0,690.0 36.7,670.0 20.0,660.0 C3.3,650.0 3.3,671.7 0.0,640.0 C-3.3,608.3 -10.0,493.3 0.0,470.0Z"/><path d="M440.0,340.0 C443.3,318.3 460.0,308.3 470.0,290.0 C480.0,271.7 485.0,248.3 500.0,230.0 C515.0,211.7 538.3,195.0 560.0,180.0 C581.7,165.0 606.7,151.7 630.0,140.0 C653.3,128.3 678.3,105.0 700.0,110.0 C721.7,115.0 743.3,155.0 760.0,170.0 C776.7,185.0 783.3,193.3 800.0,200.0 C816.7,206.7 848.3,200.0 860.0,210.0 C871.7,220.0 876.7,245.0 870.0,260.0 C863.3,275.0 833.3,286.7 820.0,300.0 C806.7,313.3 793.3,320.0 790.0,340.0 C786.7,360.0 803.3,396.7 800.0,420.0 C796.7,443.3 780.0,460.0 770.0,480.0 C760.0,500.0 751.7,523.3 740.0,540.0 C728.3,556.7 705.0,566.7 700.0,580.0 C695.0,593.3 718.3,613.3 710.0,620.0 C701.7,626.7 668.3,621.7 650.0,620.0 C631.7,618.3 615.0,620.0 600.0,610.0 C585.0,600.0 570.0,581.7 560.0,560.0 C550.0,538.3 553.3,493.3 540.0,480.0 C526.7,466.7 495.0,490.0 480.0,480.0 C465.0,470.0 456.7,443.3 450.0,420.0 C443.3,396.7 436.7,361.7 440.0,340.0Z"/><path d="M330.0,150.0 C340.0,133.3 361.7,138.3 380.0,130.0 C398.3,121.7 425.0,96.7 440.0,100.0 C455.0,103.3 473.3,128.3 470.0,150.0 C466.7,171.7 431.7,208.3 420.0,230.0 C408.3,251.7 413.3,270.0 400.0,280.0 C386.7,290.0 353.3,298.3 340.0,290.0 C326.7,281.7 321.7,253.3 320.0,230.0 C318.3,206.7 320.0,166.7 330.0,150.0Z"/><path d="M500.0,120.0 C511.7,91.7 530.0,78.3 540.0,60.0 C550.0,41.7 546.7,18.3 560.0,10.0 C573.3,1.7 611.7,-5.0 620.0,10.0 C628.3,25.0 620.0,73.3 610.0,100.0 C600.0,126.7 578.3,150.0 560.0,170.0 C541.7,190.0 515.0,210.0 500.0,220.0 C485.0,230.0 470.0,246.7 470.0,230.0 C470.0,213.3 488.3,148.3 500.0,120.0Z"/><path d="M160.0,140.0 C163.3,131.7 196.7,141.7 210.0,150.0 C223.3,158.3 243.3,181.7 240.0,190.0 C236.7,198.3 203.3,208.3 190.0,200.0 C176.7,191.7 156.7,148.3 160.0,140.0Z"/><path d="M830.0,55.0 C836.7,52.5 872.5,63.3 880.0,70.0 C887.5,76.7 881.7,92.5 875.0,95.0 C868.3,97.5 847.5,91.7 840.0,85.0 C832.5,78.3 823.3,57.5 830.0,55.0Z"/><path d="M1110.0,560.0 C1118.8,555.8 1158.3,563.3 1168.0,570.0 C1177.7,576.7 1176.8,595.8 1168.0,600.0 C1159.2,604.2 1124.7,601.7 1115.0,595.0 C1105.3,588.3 1101.2,564.2 1110.0,560.0Z"/></g><g fill="rgb(78,78,78)"><path d="M0.0,470.0 C10.0,446.7 43.3,500.0 60.0,500.0 C76.7,500.0 93.3,485.0 100.0,470.0 C106.7,455.0 93.3,433.3 100.0,410.0 C106.7,386.7 126.7,346.7 140.0,330.0 C153.3,313.3 165.0,311.7 180.0,310.0 C195.0,308.3 213.3,313.3 230.0,320.0 C246.7,326.7 261.7,343.3 280.0,350.0 C298.3,356.7 325.0,348.3 340.0,360.0 C355.0,371.7 360.0,400.0 370.0,420.0 C380.0,440.0 398.3,460.0 400.0,480.0 C401.7,500.0 376.7,520.0 380.0,540.0 C383.3,560.0 410.0,583.3 420.0,600.0 C430.0,616.7 416.7,635.0 440.0,640.0 C463.3,645.0 526.7,633.3 560.0,630.0 C593.3,626.7 616.7,618.3 640.0,620.0 C663.3,621.7 686.7,626.7 700.0,640.0 C713.3,653.3 723.3,681.7 720.0,700.0 C716.7,718.3 700.0,738.3 680.0,750.0 C660.0,761.7 620.0,765.0 600.0,770.0 C580.0,775.0 580.0,781.7 560.0,780.0 C540.0,778.3 503.3,761.7 480.0,760.0 C456.7,758.3 436.7,773.3 420.0,770.0 C403.3,766.7 400.0,745.0 380.0,740.0 C360.0,735.0 330.0,743.3 300.0,740.0 C270.0,736.7 233.3,726.7 200.0,720.0 C166.7,713.3 130.0,710.0 100.0,700.0 C70.0,690.0 36.7,670.0 20.0,660.0 C3.3,650.0 3.3,671.7 0.0,640.0 C-3.3,608.3 -10.0,493.3 0.0,470.0Z"/><path d="M440.0,340.0 C443.3,318.3 460.0,308.3 470.0,290.0 C480.0,271.7 485.0,248.3 500.0,230.0 C515.0,211.7 538.3,195.0 560.0,180.0 C581.7,165.0 606.7,151.7 630.0,140.0 C653.3,128.3 678.3,105.0 700.0,110.0 C721.7,115.0 743.3,155.0 760.0,170.0 C776.7,185.0 783.3,193.3 800.0,200.0 C816.7,206.7 848.3,200.0 860.0,210.0 C871.7,220.0 876.7,245.0 870.0,260.0 C863.3,275.0 833.3,286.7 820.0,300.0 C806.7,313.3 793.3,320.0 790.0,340.0 C786.7,360.0 803.3,396.7 800.0,420.0 C796.7,443.3 780.0,460.0 770.0,480.0 C760.0,500.0 751.7,523.3 740.0,540.0 C728.3,556.7 705.0,566.7 700.0,580.0 C695.0,593.3 718.3,613.3 710.0,620.0 C701.7,626.7 668.3,621.7 650.0,620.0 C631.7,618.3 615.0,620.0 600.0,610.0 C585.0,600.0 570.0,581.7 560.0,560.0 C550.0,538.3 553.3,493.3 540.0,480.0 C526.7,466.7 495.0,490.0 480.0,480.0 C465.0,470.0 456.7,443.3 450.0,420.0 C443.3,396.7 436.7,361.7 440.0,340.0Z"/><path d="M330.0,150.0 C340.0,133.3 361.7,138.3 380.0,130.0 C398.3,121.7 425.0,96.7 440.0,100.0 C455.0,103.3 473.3,128.3 470.0,150.0 C466.7,171.7 431.7,208.3 420.0,230.0 C408.3,251.7 413.3,270.0 400.0,280.0 C386.7,290.0 353.3,298.3 340.0,290.0 C326.7,281.7 321.7,253.3 320.0,230.0 C318.3,206.7 320.0,166.7 330.0,150.0Z"/><path d="M500.0,120.0 C511.7,91.7 530.0,78.3 540.0,60.0 C550.0,41.7 546.7,18.3 560.0,10.0 C573.3,1.7 611.7,-5.0 620.0,10.0 C628.3,25.0 620.0,73.3 610.0,100.0 C600.0,126.7 578.3,150.0 560.0,170.0 C541.7,190.0 515.0,210.0 500.0,220.0 C485.0,230.0 470.0,246.7 470.0,230.0 C470.0,213.3 488.3,148.3 500.0,120.0Z"/><path d="M160.0,140.0 C163.3,131.7 196.7,141.7 210.0,150.0 C223.3,158.3 243.3,181.7 240.0,190.0 C236.7,198.3 203.3,208.3 190.0,200.0 C176.7,191.7 156.7,148.3 160.0,140.0Z"/><path d="M830.0,55.0 C836.7,52.5 872.5,63.3 880.0,70.0 C887.5,76.7 881.7,92.5 875.0,95.0 C868.3,97.5 847.5,91.7 840.0,85.0 C832.5,78.3 823.3,57.5 830.0,55.0Z"/><path d="M1110.0,560.0 C1118.8,555.8 1158.3,563.3 1168.0,570.0 C1177.7,576.7 1176.8,595.8 1168.0,600.0 C1159.2,604.2 1124.7,601.7 1115.0,595.0 C1105.3,588.3 1101.2,564.2 1110.0,560.0Z"/></g><g fill="rgb(93,93,93)"><path d="M140.0,340.0 C151.7,323.3 180.0,318.3 200.0,320.0 C220.0,321.7 238.3,340.0 260.0,350.0 C281.7,360.0 313.3,365.0 330.0,380.0 C346.7,395.0 350.0,420.0 360.0,440.0 C370.0,460.0 388.3,480.0 390.0,500.0 C391.7,520.0 365.0,540.0 370.0,560.0 C375.0,580.0 415.0,596.7 420.0,620.0 C425.0,643.3 415.0,683.3 400.0,700.0 C385.0,716.7 360.0,716.7 330.0,720.0 C300.0,723.3 255.0,725.0 220.0,720.0 C185.0,715.0 148.3,703.3 120.0,690.0 C91.7,676.7 70.0,655.0 50.0,640.0 C30.0,625.0 8.3,620.0 0.0,600.0 C-8.3,580.0 -10.0,530.0 0.0,520.0 C10.0,510.0 41.7,540.0 60.0,540.0 C78.3,540.0 98.3,540.0 110.0,520.0 C121.7,500.0 125.0,450.0 130.0,420.0 C135.0,390.0 128.3,356.7 140.0,340.0Z"/><path d="M470.0,330.0 C480.0,305.0 498.3,271.7 520.0,250.0 C541.7,228.3 573.3,216.7 600.0,200.0 C626.7,183.3 658.3,150.0 680.0,150.0 C701.7,150.0 711.7,186.7 730.0,200.0 C748.3,213.3 771.7,223.3 790.0,230.0 C808.3,236.7 838.3,223.3 840.0,240.0 C841.7,256.7 810.0,300.0 800.0,330.0 C790.0,360.0 790.0,388.3 780.0,420.0 C770.0,451.7 753.3,496.7 740.0,520.0 C726.7,543.3 716.7,556.7 700.0,560.0 C683.3,563.3 656.7,546.7 640.0,540.0 C623.3,533.3 613.3,533.3 600.0,520.0 C586.7,506.7 576.7,470.0 560.0,460.0 C543.3,450.0 516.7,470.0 500.0,460.0 C483.3,450.0 465.0,421.7 460.0,400.0 C455.0,378.3 460.0,355.0 470.0,330.0Z"/><path d="M540.0,80.0 C546.7,65.0 590.0,51.7 600.0,60.0 C610.0,68.3 606.7,115.0 600.0,130.0 C593.3,145.0 570.0,158.3 560.0,150.0 C550.0,141.7 533.3,95.0 540.0,80.0Z"/><path d="M350.0,190.0 C360.0,175.0 411.7,158.3 420.0,170.0 C428.3,181.7 410.0,245.0 400.0,260.0 C390.0,275.0 368.3,271.7 360.0,260.0 C351.7,248.3 340.0,205.0 350.0,190.0Z"/></g><g fill="rgb(112,112,112)"><path d="M690.0,380.0 C703.3,365.0 745.0,356.7 760.0,360.0 C775.0,363.3 783.3,381.7 780.0,400.0 C776.7,418.3 753.3,453.3 740.0,470.0 C726.7,486.7 710.0,503.3 700.0,500.0 C690.0,496.7 681.7,470.0 680.0,450.0 C678.3,430.0 676.7,395.0 690.0,380.0Z"/><path d="M600.0,560.0 C608.3,552.5 643.3,540.0 650.0,545.0 C656.7,550.0 648.3,582.5 640.0,590.0 C631.7,597.5 606.7,595.0 600.0,590.0 C593.3,585.0 591.7,567.5 600.0,560.0Z"/></g><g fill="rgb(129,129,129)"><path d="M175.0,420.0 C186.7,408.3 219.2,401.7 240.0,400.0 C260.8,398.3 284.2,400.0 300.0,410.0 C315.8,420.0 331.7,441.7 335.0,460.0 C338.3,478.3 330.8,506.7 320.0,520.0 C309.2,533.3 290.0,540.0 270.0,540.0 C250.0,540.0 216.7,531.7 200.0,520.0 C183.3,508.3 174.2,486.7 170.0,470.0 C165.8,453.3 163.3,431.7 175.0,420.0Z"/><path d="M320.0,600.0 C326.7,590.0 345.0,578.3 360.0,580.0 C375.0,581.7 400.0,598.3 410.0,610.0 C420.0,621.7 426.7,641.7 420.0,650.0 C413.3,658.3 386.7,661.7 370.0,660.0 C353.3,658.3 328.3,650.0 320.0,640.0 C311.7,630.0 313.3,610.0 320.0,600.0Z"/><path d="M120.0,650.0 C130.0,643.3 160.0,646.7 180.0,650.0 C200.0,653.3 223.3,661.7 240.0,670.0 C256.7,678.3 278.3,691.7 280.0,700.0 C281.7,708.3 270.0,720.0 250.0,720.0 C230.0,720.0 181.7,705.0 160.0,700.0 C138.3,695.0 126.7,698.3 120.0,690.0 C113.3,681.7 110.0,656.7 120.0,650.0Z"/><path d="M0.0,560.0 C3.3,556.7 16.7,565.0 20.0,570.0 C23.3,575.0 23.3,586.7 20.0,590.0 C16.7,593.3 3.3,595.0 0.0,590.0 C-3.3,585.0 -3.3,563.3 0.0,560.0Z"/></g></g></g><g id="ir1"><g clip-path="url(#irclip)"><g filter="url(#irf1)"><use href="#irfield1"/></g></g></g><filter id="tgf1" x="-12" y="-12" width="224" height="224" filterUnits="userSpaceOnUse" color-interpolation-filters="sRGB"><feTurbulence type="fractalNoise" baseFrequency="0.07" numOctaves="3" seed="18" result="dn"/><feDisplacementMap in="SourceGraphic" in2="dn" scale="7" xChannelSelector="R" yChannelSelector="G" result="d"/><feGaussianBlur in="d" stdDeviation="1.5" result="b"/><feTurbulence type="fractalNoise" baseFrequency="0.3" numOctaves="2" seed="21" result="n"/><feColorMatrix in="n" type="matrix" values="1 0 0 0 0 1 0 0 0 0 1 0 0 0 0 0 0 0 0 1" result="ng"/><feComposite in="b" in2="ng" operator="arithmetic" k1="0" k2="1" k3="0.07" k4="-0.035" result="f"/><feComponentTransfer in="f" result="c"><feFuncR type="table" tableValues="0.110 0.114 0.117 0.121 0.124 0.128 0.131 0.135 0.138 0.142 0.145 0.149 0.152 0.156 0.159 0.163 0.166 0.170 0.181 0.192 0.203 0.213 0.224 0.235 0.244 0.254 0.263 0.272 0.281 0.291 0.300 0.310 0.320 0.330 0.340 0.350 0.360 0.367 0.375 0.383 0.390 0.397 0.405 0.412 0.420 0.426 0.432 0.439 0.445 0.451 0.457 0.464 0.470 0.477 0.483 0.490 0.497 0.503 0.510 0.517 0.523 0.530 0.537 0.543 0.550 0.561 0.572 0.583 0.593 0.604 0.615 0.626 0.637 0.648 0.658 0.669 0.680 0.688 0.697 0.705 0.714 0.722 0.731 0.739 0.748 0.756 0.765 0.773 0.782 0.790 0.793 0.796 0.799 0.801 0.804 0.807 0.810 0.813 0.816 0.819 0.821 0.824 0.827 0.830 0.833 0.836 0.839 0.841 0.844 0.847 0.850 0.853 0.855 0.857 0.860 0.863 0.865 0.867 0.870 0.873 0.875 0.877 0.880 0.883 0.885 0.887 0.890 0.893 0.895 0.897 0.900"/><feFuncG type="table" tableValues="0.110 0.114 0.117 0.121 0.124 0.128 0.131 0.135 0.138 0.142 0.145 0.149 0.152 0.156 0.159 0.163 0.166 0.170 0.181 0.192 0.203 0.213 0.224 0.235 0.244 0.254 0.263 0.272 0.281 0.291 0.300 0.310 0.320 0.330 0.340 0.350 0.360 0.367 0.375 0.383 0.390 0.397 0.405 0.412 0.420 0.426 0.432 0.439 0.445 0.451 0.457 0.464 0.470 0.477 0.483 0.490 0.497 0.503 0.510 0.517 0.523 0.530 0.537 0.543 0.550 0.561 0.572 0.583 0.593 0.604 0.615 0.626 0.637 0.648 0.658 0.669 0.680 0.688 0.697 0.705 0.714 0.722 0.731 0.739 0.748 0.756 0.765 0.773 0.782 0.790 0.793 0.796 0.799 0.801 0.804 0.807 0.810 0.813 0.816 0.819 0.821 0.824 0.827 0.830 0.833 0.836 0.839 0.841 0.844 0.847 0.850 0.853 0.855 0.857 0.860 0.863 0.865 0.867 0.870 0.873 0.875 0.877 0.880 0.883 0.885 0.887 0.890 0.893 0.895 0.897 0.900"/><feFuncB type="table" tableValues="0.110 0.114 0.117 0.121 0.124 0.128 0.131 0.135 0.138 0.142 0.145 0.149 0.152 0.156 0.159 0.163 0.166 0.170 0.181 0.192 0.203 0.213 0.224 0.235 0.244 0.254 0.263 0.272 0.281 0.291 0.300 0.310 0.320 0.330 0.340 0.350 0.360 0.367 0.375 0.383 0.390 0.397 0.405 0.412 0.420 0.426 0.432 0.439 0.445 0.451 0.457 0.464 0.470 0.477 0.483 0.490 0.497 0.503 0.510 0.517 0.523 0.530 0.537 0.543 0.550 0.561 0.572 0.583 0.593 0.604 0.615 0.626 0.637 0.648 0.658 0.669 0.680 0.688 0.697 0.705 0.714 0.722 0.731 0.739 0.748 0.756 0.765 0.773 0.782 0.790 0.793 0.796 0.799 0.801 0.804 0.807 0.810 0.813 0.816 0.819 0.821 0.824 0.827 0.830 0.833 0.836 0.839 0.841 0.844 0.847 0.850 0.853 0.855 0.857 0.860 0.863 0.865 0.867 0.870 0.873 0.875 0.877 0.880 0.883 0.885 0.887 0.890 0.893 0.895 0.897 0.900"/></feComponentTransfer><feComposite in="c" in2="ng" operator="arithmetic" k1="0.12" k2="1" k3="0" k4="-0.06"/></filter><g id="topir1"><g clip-path="url(#topclip)"><g transform="translate(0,-3) scale(0.5)"><g filter="url(#tgf1)"><use href="#irfield1"/></g></g></g></g><filter id="irf2" x="-12" y="-12" width="224" height="224" filterUnits="userSpaceOnUse" color-interpolation-filters="sRGB"><feTurbulence type="fractalNoise" baseFrequency="0.07" numOctaves="3" seed="31" result="dn"/><feDisplacementMap in="SourceGraphic" in2="dn" scale="7" xChannelSelector="R" yChannelSelector="G" result="d"/><feGaussianBlur in="d" stdDeviation="0.9" result="b"/><feTurbulence type="fractalNoise" baseFrequency="0.22" numOctaves="2" seed="34" result="n"/><feColorMatrix in="n" type="matrix" values="1 0 0 0 0 1 0 0 0 0 1 0 0 0 0 0 0 0 0 1" result="ng"/><feComponentTransfer in="b" result="m"><feFuncR type="table" tableValues="0 0 0 0 0 0 0.05 0.11 0.16 0.17 0.17 0.17 0.17 0.17 0.17 0.17 0.17 0.17 0.17 0.17 0.17"/><feFuncG type="table" tableValues="0 0 0 0 0 0 0.05 0.11 0.16 0.17 0.17 0.17 0.17 0.17 0.17 0.17 0.17 0.17 0.17 0.17 0.17"/><feFuncB type="table" tableValues="0 0 0 0 0 0 0.05 0.11 0.16 0.17 0.17 0.17 0.17 0.17 0.17 0.17 0.17 0.17 0.17 0.17 0.17"/></feComponentTransfer><feComposite in="m" in2="ng" operator="arithmetic" k1="1.0" k2="-0.5" k3="0" k4="0.5" result="t"/><feComposite in="b" in2="ng" operator="arithmetic" k1="0" k2="1" k3="0.055" k4="-0.0275" result="b2"/><feComposite in="b2" in2="t" operator="arithmetic" k1="0" k2="1" k3="1" k4="-0.5" result="f"/><feComponentTransfer in="f"><feFuncR type="table" tableValues="0.000 0.014 0.028 0.042 0.056 0.070 0.084 0.098 0.112 0.126 0.140 0.154 0.168 0.182 0.196 0.210 0.224 0.238 0.252 0.266 0.280 0.294 0.308 0.322 0.336 0.350 0.364 0.378 0.392 0.406 0.420 0.434 0.448 0.462 0.476 0.490 0.504 0.518 0.532 0.546 0.560 0.574 0.588 0.602 0.616 0.630 0.644 0.658 0.672 0.686 0.700 0.714 0.728 0.742 0.756 0.770 0.784 0.798 0.812 0.826 0.840 0.854 0.868 0.882 0.896 0.910 0.924 0.938 0.952 0.966 0.980 0.994 0.500 0.000 0.000 0.000 0.000 0.000 0.000 0.000 0.000 0.000 0.000 0.000 0.000 0.000 0.000 0.000 0.000 0.000 0.000 0.000 0.000 0.000 0.000 0.000 0.000 0.000 0.000 0.000 0.000 0.000 0.000 0.000 0.000 0.000 0.000 0.000 0.000 0.000 0.000 0.000 0.000 0.000 0.000 0.000 0.000 0.000 0.000 0.000 0.000 0.000 0.000 0.000 0.000 0.000 0.000 0.000 0.030 0.061 0.091 0.121 0.152 0.182 0.212 0.242 0.273 0.303 0.333 0.364 0.394 0.424 0.455 0.485 0.515 0.545 0.576 0.606 0.636 0.667 0.697 0.727 0.758 0.788 0.818 0.848 0.879 0.909 0.939 0.970 1.000 1.000 1.000 1.000 1.000 1.000 1.000 1.000 1.000 1.000 1.000 1.000 1.000 1.000 1.000 1.000 1.000 1.000 1.000 1.000 1.000 1.000 1.000 1.000 1.000 1.000 1.000 1.000 1.000 1.000 1.000 1.000 1.000 1.000 0.964 0.929 0.893 0.857 0.821 0.786 0.750 0.714 0.679 0.643 0.607 0.571 0.536 0.500 0.464 0.429 0.393 0.357 0.321 0.286 0.250 0.214 0.179 0.143 0.107 0.071 0.036 0.000 0.050 0.100 0.150 0.200 0.250 0.300 0.350 0.400 0.450 0.500 0.550 0.600 0.650 0.700 0.750 0.800 0.850 0.900 0.950 0.922 0.900 0.878 0.857 0.835 0.813 0.792 0.770 0.748 0.727 0.705 0.683 0.662 0.640 0.618 0.596 0.575 0.553 0.531 0.510"/><feFuncG type="table" tableValues="0.000 0.014 0.028 0.042 0.056 0.070 0.084 0.098 0.112 0.126 0.140 0.154 0.168 0.182 0.196 0.210 0.224 0.238 0.252 0.266 0.280 0.294 0.308 0.322 0.336 0.350 0.364 0.378 0.392 0.406 0.420 0.434 0.448 0.462 0.476 0.490 0.504 0.518 0.532 0.546 0.560 0.574 0.588 0.602 0.616 0.630 0.644 0.658 0.672 0.686 0.700 0.714 0.728 0.742 0.756 0.770 0.784 0.798 0.812 0.826 0.840 0.854 0.868 0.882 0.896 0.910 0.924 0.938 0.952 0.966 0.980 0.994 1.000 0.985 0.949 0.912 0.876 0.839 0.803 0.766 0.730 0.693 0.657 0.620 0.584 0.547 0.511 0.474 0.438 0.401 0.365 0.328 0.292 0.255 0.219 0.182 0.146 0.109 0.073 0.036 0.000 0.037 0.074 0.111 0.148 0.185 0.222 0.259 0.296 0.333 0.370 0.407 0.444 0.481 0.519 0.556 0.593 0.630 0.667 0.704 0.741 0.778 0.815 0.852 0.889 0.926 0.963 1.000 1.000 1.000 1.000 1.000 1.000 1.000 1.000 1.000 1.000 1.000 1.000 1.000 1.000 1.000 1.000 1.000 1.000 1.000 1.000 1.000 1.000 1.000 1.000 1.000 1.000 1.000 1.000 1.000 1.000 1.000 1.000 1.000 1.000 0.971 0.941 0.912 0.883 0.854 0.824 0.795 0.766 0.736 0.707 0.678 0.648 0.619 0.590 0.561 0.531 0.502 0.471 0.439 0.408 0.376 0.345 0.314 0.282 0.251 0.220 0.188 0.157 0.125 0.094 0.063 0.031 0.000 0.000 0.000 0.000 0.000 0.000 0.000 0.000 0.000 0.000 0.000 0.000 0.000 0.000 0.000 0.000 0.000 0.000 0.000 0.000 0.000 0.000 0.000 0.000 0.000 0.000 0.000 0.000 0.000 0.050 0.100 0.150 0.200 0.250 0.300 0.350 0.400 0.450 0.500 0.550 0.600 0.650 0.700 0.750 0.800 0.850 0.900 0.950 0.000 0.000 0.000 0.000 0.000 0.000 0.000 0.000 0.000 0.000 0.000 0.000 0.000 0.000 0.000 0.000 0.000 0.000 0.000 0.000"/><feFuncB type="table" tableValues="0.000 0.014 0.028 0.042 0.056 0.070 0.084 0.098 0.112 0.126 0.140 0.154 0.168 0.182 0.196 0.210 0.224 0.238 0.252 0.266 0.280 0.294 0.308 0.322 0.336 0.350 0.364 0.378 0.392 0.406 0.420 0.434 0.448 0.462 0.476 0.490 0.504 0.518 0.532 0.546 0.560 0.574 0.588 0.602 0.616 0.630 0.644 0.658 0.672 0.686 0.700 0.714 0.728 0.742 0.756 0.770 0.784 0.798 0.812 0.826 0.840 0.854 0.868 0.882 0.896 0.910 0.924 0.938 0.952 0.966 0.980 0.994 1.000 1.000 1.000 1.000 1.000 1.000 1.000 1.000 1.000 1.000 1.000 1.000 1.000 1.000 1.000 1.000 1.000 1.000 1.000 1.000 1.000 1.000 1.000 1.000 1.000 1.000 1.000 1.000 1.000 0.963 0.926 0.889 0.852 0.815 0.778 0.741 0.704 0.667 0.630 0.593 0.556 0.519 0.481 0.444 0.407 0.370 0.333 0.296 0.259 0.222 0.185 0.148 0.111 0.074 0.037 0.000 0.000 0.000 0.000 0.000 0.000 0.000 0.000 0.000 0.000 0.000 0.000 0.000 0.000 0.000 0.000 0.000 0.000 0.000 0.000 0.000 0.000 0.000 0.000 0.000 0.000 0.000 0.000 0.000 0.000 0.000 0.000 0.000 0.000 0.000 0.000 0.000 0.000 0.000 0.000 0.000 0.000 0.000 0.000 0.000 0.000 0.000 0.000 0.000 0.000 0.000 0.000 0.000 0.000 0.000 0.000 0.000 0.000 0.000 0.000 0.000 0.000 0.000 0.000 0.000 0.000 0.000 0.000 0.000 0.000 0.000 0.000 0.000 0.000 0.000 0.000 0.000 0.000 0.000 0.000 0.000 0.000 0.000 0.000 0.000 0.000 0.000 0.000 0.000 0.000 0.000 0.000 0.000 0.000 0.000 0.050 0.100 0.150 0.200 0.250 0.300 0.350 0.400 0.450 0.500 0.550 0.600 0.650 0.700 0.750 0.800 0.850 0.900 0.950 0.922 0.906 0.891 0.875 0.860 0.844 0.829 0.813 0.798 0.782 0.767 0.751 0.736 0.720 0.705 0.689 0.674 0.658 0.643 0.627"/></feComponentTransfer></filter><g id="irfield2"><rect x="-12" y="-12" width="224" height="224" fill="rgb(37,37,37)"/><g transform="scale(0.171233)"><path d="M0.0,250.0 C13.3,153.3 38.3,155.0 80.0,120.0 C121.7,85.0 188.3,58.3 250.0,40.0 C311.7,21.7 375.0,15.8 450.0,10.0 C525.0,4.2 616.7,-3.3 700.0,5.0 C783.3,13.3 900.0,27.5 950.0,60.0 C1000.0,92.5 1008.3,156.7 1000.0,200.0 C991.7,243.3 930.0,270.0 900.0,320.0 C870.0,370.0 850.0,440.0 820.0,500.0 C790.0,560.0 760.0,636.7 720.0,680.0 C680.0,723.3 633.3,743.3 580.0,760.0 C526.7,776.7 463.3,780.0 400.0,780.0 C336.7,780.0 256.7,768.3 200.0,760.0 C143.3,751.7 93.3,740.0 60.0,730.0 C26.7,720.0 10.0,780.0 0.0,700.0 C-10.0,620.0 -13.3,346.7 0.0,250.0Z" fill="rgb(48,48,48)" filter="url(#lb12)"/><path d="M380.0,120.0 C400.0,66.7 456.7,73.3 500.0,60.0 C543.3,46.7 596.7,40.0 640.0,40.0 C683.3,40.0 750.0,33.3 760.0,60.0 C770.0,86.7 740.0,166.7 700.0,200.0 C660.0,233.3 560.0,233.3 520.0,260.0 C480.0,286.7 475.0,316.7 460.0,360.0 C445.0,403.3 430.0,473.3 430.0,520.0 C430.0,566.7 465.0,610.0 460.0,640.0 C455.0,670.0 413.3,713.3 400.0,700.0 C386.7,686.7 383.3,613.3 380.0,560.0 C376.7,506.7 380.0,453.3 380.0,380.0 C380.0,306.7 360.0,173.3 380.0,120.0Z" fill="rgb(61,61,61)" filter="url(#lb4)"/><path d="M0.0,760.0 C50.0,750.0 200.0,790.0 300.0,800.0 C400.0,810.0 566.7,803.3 600.0,820.0 C633.3,836.7 566.7,890.0 500.0,900.0 C433.3,910.0 283.3,886.7 200.0,880.0 C116.7,873.3 33.3,880.0 0.0,860.0 C-33.3,840.0 -50.0,770.0 0.0,760.0Z" fill="rgb(46,46,46)" filter="url(#lb6)"/><path d="M900.0,400.0 C908.3,355.0 966.7,346.7 1000.0,380.0 C1033.3,413.3 1075.0,513.3 1100.0,600.0 C1125.0,686.7 1141.7,808.3 1150.0,900.0 C1158.3,991.7 1183.3,1108.3 1150.0,1150.0 C1116.7,1191.7 975.0,1191.7 950.0,1150.0 C925.0,1108.3 1000.0,983.3 1000.0,900.0 C1000.0,816.7 966.7,733.3 950.0,650.0 C933.3,566.7 891.7,445.0 900.0,400.0Z" fill="rgb(42,42,42)" filter="url(#lb9)"/><g fill="rgb(68,68,68)" stroke="rgb(65,65,65)" stroke-width="34" stroke-linejoin="round"><path d="M0.0,240.0 C10.0,225.0 36.7,200.0 60.0,190.0 C83.3,180.0 116.7,178.3 140.0,180.0 C163.3,181.7 180.0,190.0 200.0,200.0 C220.0,210.0 243.3,226.7 260.0,240.0 C276.7,253.3 288.3,281.7 300.0,280.0 C311.7,278.3 316.7,248.3 330.0,230.0 C343.3,211.7 368.3,171.7 380.0,170.0 C391.7,168.3 396.7,198.3 400.0,220.0 C403.3,241.7 395.0,276.7 400.0,300.0 C405.0,323.3 426.7,340.0 430.0,360.0 C433.3,380.0 421.7,396.7 420.0,420.0 C418.3,443.3 418.3,473.3 420.0,500.0 C421.7,526.7 436.7,560.0 430.0,580.0 C423.3,600.0 388.3,600.0 380.0,620.0 C371.7,640.0 393.3,681.7 380.0,700.0 C366.7,718.3 336.7,723.3 300.0,730.0 C263.3,736.7 200.0,741.7 160.0,740.0 C120.0,738.3 86.7,728.3 60.0,720.0 C33.3,711.7 10.0,716.7 0.0,690.0 C-10.0,663.3 -8.3,586.7 0.0,560.0 C8.3,533.3 36.7,550.0 50.0,530.0 C63.3,510.0 76.7,475.0 80.0,440.0 C83.3,405.0 78.3,345.0 70.0,320.0 C61.7,295.0 41.7,296.7 30.0,290.0 C18.3,283.3 5.0,288.3 0.0,280.0 C-5.0,271.7 -10.0,255.0 0.0,240.0Z"/><path d="M490.0,320.0 C498.3,298.3 521.7,281.7 540.0,270.0 C558.3,258.3 576.7,256.7 600.0,250.0 C623.3,243.3 656.7,231.7 680.0,230.0 C703.3,228.3 721.7,231.7 740.0,240.0 C758.3,248.3 780.0,265.0 790.0,280.0 C800.0,295.0 800.0,306.7 800.0,330.0 C800.0,353.3 796.7,391.7 790.0,420.0 C783.3,448.3 775.0,476.7 760.0,500.0 C745.0,523.3 716.7,543.3 700.0,560.0 C683.3,576.7 676.7,583.3 660.0,600.0 C643.3,616.7 613.3,640.0 600.0,660.0 C586.7,680.0 593.3,706.7 580.0,720.0 C566.7,733.3 543.3,740.0 520.0,740.0 C496.7,740.0 453.3,733.3 440.0,720.0 C426.7,706.7 430.0,676.7 440.0,660.0 C450.0,643.3 486.7,636.7 500.0,620.0 C513.3,603.3 520.0,583.3 520.0,560.0 C520.0,536.7 505.0,506.7 500.0,480.0 C495.0,453.3 491.7,426.7 490.0,400.0 C488.3,373.3 481.7,341.7 490.0,320.0Z"/><path d="M440.0,220.0 C446.7,206.7 476.7,196.7 500.0,180.0 C523.3,163.3 550.0,135.0 580.0,120.0 C610.0,105.0 646.7,100.0 680.0,90.0 C713.3,80.0 746.7,66.7 780.0,60.0 C813.3,53.3 851.7,49.2 880.0,50.0 C908.3,50.8 953.3,56.7 950.0,65.0 C946.7,73.3 891.7,87.5 860.0,100.0 C828.3,112.5 786.7,125.0 760.0,140.0 C733.3,155.0 726.7,175.0 700.0,190.0 C673.3,205.0 633.3,220.0 600.0,230.0 C566.7,240.0 523.3,245.0 500.0,250.0 C476.7,255.0 470.0,265.0 460.0,260.0 C450.0,255.0 433.3,233.3 440.0,220.0Z"/><path d="M520.0,20.0 C535.0,11.7 605.0,0.0 620.0,10.0 C635.0,20.0 620.0,66.7 610.0,80.0 C600.0,93.3 573.3,93.3 560.0,90.0 C546.7,86.7 536.7,71.7 530.0,60.0 C523.3,48.3 505.0,28.3 520.0,20.0Z"/><path d="M780.0,10.0 C790.0,7.5 840.0,7.5 850.0,10.0 C860.0,12.5 850.0,22.5 840.0,25.0 C830.0,27.5 800.0,27.5 790.0,25.0 C780.0,22.5 770.0,12.5 780.0,10.0Z"/><path d="M800.0,290.0 C801.7,284.2 837.5,292.5 850.0,300.0 C862.5,307.5 876.7,329.2 875.0,335.0 C873.3,340.8 852.5,342.5 840.0,335.0 C827.5,327.5 798.3,295.8 800.0,290.0Z"/></g><g fill="rgb(78,78,78)"><path d="M0.0,240.0 C10.0,225.0 36.7,200.0 60.0,190.0 C83.3,180.0 116.7,178.3 140.0,180.0 C163.3,181.7 180.0,190.0 200.0,200.0 C220.0,210.0 243.3,226.7 260.0,240.0 C276.7,253.3 288.3,281.7 300.0,280.0 C311.7,278.3 316.7,248.3 330.0,230.0 C343.3,211.7 368.3,171.7 380.0,170.0 C391.7,168.3 396.7,198.3 400.0,220.0 C403.3,241.7 395.0,276.7 400.0,300.0 C405.0,323.3 426.7,340.0 430.0,360.0 C433.3,380.0 421.7,396.7 420.0,420.0 C418.3,443.3 418.3,473.3 420.0,500.0 C421.7,526.7 436.7,560.0 430.0,580.0 C423.3,600.0 388.3,600.0 380.0,620.0 C371.7,640.0 393.3,681.7 380.0,700.0 C366.7,718.3 336.7,723.3 300.0,730.0 C263.3,736.7 200.0,741.7 160.0,740.0 C120.0,738.3 86.7,728.3 60.0,720.0 C33.3,711.7 10.0,716.7 0.0,690.0 C-10.0,663.3 -8.3,586.7 0.0,560.0 C8.3,533.3 36.7,550.0 50.0,530.0 C63.3,510.0 76.7,475.0 80.0,440.0 C83.3,405.0 78.3,345.0 70.0,320.0 C61.7,295.0 41.7,296.7 30.0,290.0 C18.3,283.3 5.0,288.3 0.0,280.0 C-5.0,271.7 -10.0,255.0 0.0,240.0Z"/><path d="M490.0,320.0 C498.3,298.3 521.7,281.7 540.0,270.0 C558.3,258.3 576.7,256.7 600.0,250.0 C623.3,243.3 656.7,231.7 680.0,230.0 C703.3,228.3 721.7,231.7 740.0,240.0 C758.3,248.3 780.0,265.0 790.0,280.0 C800.0,295.0 800.0,306.7 800.0,330.0 C800.0,353.3 796.7,391.7 790.0,420.0 C783.3,448.3 775.0,476.7 760.0,500.0 C745.0,523.3 716.7,543.3 700.0,560.0 C683.3,576.7 676.7,583.3 660.0,600.0 C643.3,616.7 613.3,640.0 600.0,660.0 C586.7,680.0 593.3,706.7 580.0,720.0 C566.7,733.3 543.3,740.0 520.0,740.0 C496.7,740.0 453.3,733.3 440.0,720.0 C426.7,706.7 430.0,676.7 440.0,660.0 C450.0,643.3 486.7,636.7 500.0,620.0 C513.3,603.3 520.0,583.3 520.0,560.0 C520.0,536.7 505.0,506.7 500.0,480.0 C495.0,453.3 491.7,426.7 490.0,400.0 C488.3,373.3 481.7,341.7 490.0,320.0Z"/><path d="M440.0,220.0 C446.7,206.7 476.7,196.7 500.0,180.0 C523.3,163.3 550.0,135.0 580.0,120.0 C610.0,105.0 646.7,100.0 680.0,90.0 C713.3,80.0 746.7,66.7 780.0,60.0 C813.3,53.3 851.7,49.2 880.0,50.0 C908.3,50.8 953.3,56.7 950.0,65.0 C946.7,73.3 891.7,87.5 860.0,100.0 C828.3,112.5 786.7,125.0 760.0,140.0 C733.3,155.0 726.7,175.0 700.0,190.0 C673.3,205.0 633.3,220.0 600.0,230.0 C566.7,240.0 523.3,245.0 500.0,250.0 C476.7,255.0 470.0,265.0 460.0,260.0 C450.0,255.0 433.3,233.3 440.0,220.0Z"/><path d="M520.0,20.0 C535.0,11.7 605.0,0.0 620.0,10.0 C635.0,20.0 620.0,66.7 610.0,80.0 C600.0,93.3 573.3,93.3 560.0,90.0 C546.7,86.7 536.7,71.7 530.0,60.0 C523.3,48.3 505.0,28.3 520.0,20.0Z"/><path d="M780.0,10.0 C790.0,7.5 840.0,7.5 850.0,10.0 C860.0,12.5 850.0,22.5 840.0,25.0 C830.0,27.5 800.0,27.5 790.0,25.0 C780.0,22.5 770.0,12.5 780.0,10.0Z"/><path d="M800.0,290.0 C801.7,284.2 837.5,292.5 850.0,300.0 C862.5,307.5 876.7,329.2 875.0,335.0 C873.3,340.8 852.5,342.5 840.0,335.0 C827.5,327.5 798.3,295.8 800.0,290.0Z"/></g><g fill="rgb(93,93,93)"><path d="M60.0,220.0 C70.0,203.3 115.0,200.0 140.0,200.0 C165.0,200.0 188.3,210.0 210.0,220.0 C231.7,230.0 253.3,246.7 270.0,260.0 C286.7,273.3 291.7,296.7 310.0,300.0 C328.3,303.3 363.3,276.7 380.0,280.0 C396.7,283.3 410.0,303.3 410.0,320.0 C410.0,336.7 381.7,356.7 380.0,380.0 C378.3,403.3 396.7,430.0 400.0,460.0 C403.3,490.0 408.3,536.7 400.0,560.0 C391.7,583.3 361.7,576.7 350.0,600.0 C338.3,623.3 355.0,678.3 330.0,700.0 C305.0,721.7 241.7,730.0 200.0,730.0 C158.3,730.0 110.0,713.3 80.0,700.0 C50.0,686.7 31.7,673.3 20.0,650.0 C8.3,626.7 3.3,581.7 10.0,560.0 C16.7,538.3 46.7,546.7 60.0,520.0 C73.3,493.3 86.7,436.7 90.0,400.0 C93.3,363.3 85.0,330.0 80.0,300.0 C75.0,270.0 50.0,236.7 60.0,220.0Z"/><path d="M510.0,330.0 C520.0,311.7 538.3,301.7 560.0,290.0 C581.7,278.3 613.3,266.7 640.0,260.0 C666.7,253.3 698.3,245.0 720.0,250.0 C741.7,255.0 760.0,273.3 770.0,290.0 C780.0,306.7 780.0,326.7 780.0,350.0 C780.0,373.3 776.7,405.0 770.0,430.0 C763.3,455.0 755.0,478.3 740.0,500.0 C725.0,521.7 700.0,541.7 680.0,560.0 C660.0,578.3 640.0,600.0 620.0,610.0 C600.0,620.0 576.7,628.3 560.0,620.0 C543.3,611.7 526.7,585.0 520.0,560.0 C513.3,535.0 523.3,496.7 520.0,470.0 C516.7,443.3 501.7,423.3 500.0,400.0 C498.3,376.7 500.0,348.3 510.0,330.0Z"/><path d="M460.0,240.0 C466.7,230.0 513.3,215.0 540.0,200.0 C566.7,185.0 590.0,165.0 620.0,150.0 C650.0,135.0 686.7,121.7 720.0,110.0 C753.3,98.3 790.0,88.3 820.0,80.0 C850.0,71.7 896.7,57.5 900.0,60.0 C903.3,62.5 865.0,80.0 840.0,95.0 C815.0,110.0 776.7,132.5 750.0,150.0 C723.3,167.5 708.3,185.0 680.0,200.0 C651.7,215.0 610.0,230.0 580.0,240.0 C550.0,250.0 520.0,260.0 500.0,260.0 C480.0,260.0 453.3,250.0 460.0,240.0Z"/></g><g fill="rgb(126,126,126)"><path d="M90.0,260.0 C98.3,228.3 136.7,231.7 160.0,230.0 C183.3,228.3 206.7,238.3 230.0,250.0 C253.3,261.7 278.3,286.7 300.0,300.0 C321.7,313.3 348.3,316.7 360.0,330.0 C371.7,343.3 370.0,358.3 370.0,380.0 C370.0,401.7 363.3,433.3 360.0,460.0 C356.7,486.7 355.0,520.0 350.0,540.0 C345.0,560.0 346.7,573.3 330.0,580.0 C313.3,586.7 278.3,583.3 250.0,580.0 C221.7,576.7 180.0,573.3 160.0,560.0 C140.0,546.7 138.3,523.3 130.0,500.0 C121.7,476.7 116.7,460.0 110.0,420.0 C103.3,380.0 81.7,291.7 90.0,260.0Z"/><path d="M550.0,400.0 C560.0,386.7 583.3,388.3 600.0,380.0 C616.7,371.7 633.3,351.7 650.0,350.0 C666.7,348.3 686.7,358.3 700.0,370.0 C713.3,381.7 726.7,401.7 730.0,420.0 C733.3,438.3 728.3,461.7 720.0,480.0 C711.7,498.3 695.0,513.3 680.0,530.0 C665.0,546.7 646.7,570.0 630.0,580.0 C613.3,590.0 591.7,598.3 580.0,590.0 C568.3,581.7 566.7,551.7 560.0,530.0 C553.3,508.3 541.7,481.7 540.0,460.0 C538.3,438.3 540.0,413.3 550.0,400.0Z"/><path d="M0.0,580.0 C10.0,575.0 40.0,600.0 60.0,610.0 C80.0,620.0 93.3,633.3 120.0,640.0 C146.7,646.7 190.0,646.7 220.0,650.0 C250.0,653.3 293.3,651.7 300.0,660.0 C306.7,668.3 280.0,693.3 260.0,700.0 C240.0,706.7 206.7,701.7 180.0,700.0 C153.3,698.3 123.3,696.7 100.0,690.0 C76.7,683.3 56.7,668.3 40.0,660.0 C23.3,651.7 6.7,653.3 0.0,640.0 C-6.7,626.7 -10.0,585.0 0.0,580.0Z"/><path d="M480.0,205.0 C485.0,200.0 505.8,191.7 510.0,195.0 C514.2,198.3 510.0,220.0 505.0,225.0 C500.0,230.0 484.2,228.3 480.0,225.0 C475.8,221.7 475.0,210.0 480.0,205.0Z"/><path d="M680.0,150.0 C688.3,145.0 723.3,145.0 730.0,150.0 C736.7,155.0 728.3,175.0 720.0,180.0 C711.7,185.0 686.7,185.0 680.0,180.0 C673.3,175.0 671.7,155.0 680.0,150.0Z"/></g><g fill="rgb(145,145,145)"><path d="M180.0,330.0 C198.3,315.0 236.7,326.7 260.0,330.0 C283.3,333.3 305.0,338.3 320.0,350.0 C335.0,361.7 350.0,381.7 350.0,400.0 C350.0,418.3 328.3,440.0 320.0,460.0 C311.7,480.0 316.7,506.7 300.0,520.0 C283.3,533.3 243.3,543.3 220.0,540.0 C196.7,536.7 171.7,520.0 160.0,500.0 C148.3,480.0 146.7,448.3 150.0,420.0 C153.3,391.7 161.7,345.0 180.0,330.0Z"/><path d="M570.0,440.0 C576.7,426.7 606.7,425.0 620.0,430.0 C633.3,435.0 648.3,456.7 650.0,470.0 C651.7,483.3 641.7,503.3 630.0,510.0 C618.3,516.7 590.0,521.7 580.0,510.0 C570.0,498.3 563.3,453.3 570.0,440.0Z"/></g><g fill="rgb(175,175,175)"><path d="M290.0,350.0 C296.7,343.3 331.7,351.7 340.0,360.0 C348.3,368.3 346.7,393.3 340.0,400.0 C333.3,406.7 308.3,408.3 300.0,400.0 C291.7,391.7 283.3,356.7 290.0,350.0Z"/><path d="M570.0,460.0 C575.0,451.7 608.3,445.0 620.0,450.0 C631.7,455.0 645.0,481.7 640.0,490.0 C635.0,498.3 601.7,505.0 590.0,500.0 C578.3,495.0 565.0,468.3 570.0,460.0Z"/></g></g></g><g id="ir2"><g clip-path="url(#irclip)"><g filter="url(#irf2)"><use href="#irfield2"/></g></g></g><filter id="tgf2" x="-12" y="-12" width="224" height="224" filterUnits="userSpaceOnUse" color-interpolation-filters="sRGB"><feTurbulence type="fractalNoise" baseFrequency="0.07" numOctaves="3" seed="31" result="dn"/><feDisplacementMap in="SourceGraphic" in2="dn" scale="7" xChannelSelector="R" yChannelSelector="G" result="d"/><feGaussianBlur in="d" stdDeviation="1.5" result="b"/><feTurbulence type="fractalNoise" baseFrequency="0.3" numOctaves="2" seed="34" result="n"/><feColorMatrix in="n" type="matrix" values="1 0 0 0 0 1 0 0 0 0 1 0 0 0 0 0 0 0 0 1" result="ng"/><feComposite in="b" in2="ng" operator="arithmetic" k1="0" k2="1" k3="0.07" k4="-0.035" result="f"/><feComponentTransfer in="f" result="c"><feFuncR type="table" tableValues="0.110 0.114 0.117 0.121 0.124 0.128 0.131 0.135 0.138 0.142 0.145 0.149 0.152 0.156 0.159 0.163 0.166 0.170 0.181 0.192 0.203 0.213 0.224 0.235 0.244 0.254 0.263 0.272 0.281 0.291 0.300 0.310 0.320 0.330 0.340 0.350 0.360 0.367 0.375 0.383 0.390 0.397 0.405 0.412 0.420 0.426 0.432 0.439 0.445 0.451 0.457 0.464 0.470 0.477 0.483 0.490 0.497 0.503 0.510 0.517 0.523 0.530 0.537 0.543 0.550 0.561 0.572 0.583 0.593 0.604 0.615 0.626 0.637 0.648 0.658 0.669 0.680 0.688 0.697 0.705 0.714 0.722 0.731 0.739 0.748 0.756 0.765 0.773 0.782 0.790 0.793 0.796 0.799 0.801 0.804 0.807 0.810 0.813 0.816 0.819 0.821 0.824 0.827 0.830 0.833 0.836 0.839 0.841 0.844 0.847 0.850 0.853 0.855 0.857 0.860 0.863 0.865 0.867 0.870 0.873 0.875 0.877 0.880 0.883 0.885 0.887 0.890 0.893 0.895 0.897 0.900"/><feFuncG type="table" tableValues="0.110 0.114 0.117 0.121 0.124 0.128 0.131 0.135 0.138 0.142 0.145 0.149 0.152 0.156 0.159 0.163 0.166 0.170 0.181 0.192 0.203 0.213 0.224 0.235 0.244 0.254 0.263 0.272 0.281 0.291 0.300 0.310 0.320 0.330 0.340 0.350 0.360 0.367 0.375 0.383 0.390 0.397 0.405 0.412 0.420 0.426 0.432 0.439 0.445 0.451 0.457 0.464 0.470 0.477 0.483 0.490 0.497 0.503 0.510 0.517 0.523 0.530 0.537 0.543 0.550 0.561 0.572 0.583 0.593 0.604 0.615 0.626 0.637 0.648 0.658 0.669 0.680 0.688 0.697 0.705 0.714 0.722 0.731 0.739 0.748 0.756 0.765 0.773 0.782 0.790 0.793 0.796 0.799 0.801 0.804 0.807 0.810 0.813 0.816 0.819 0.821 0.824 0.827 0.830 0.833 0.836 0.839 0.841 0.844 0.847 0.850 0.853 0.855 0.857 0.860 0.863 0.865 0.867 0.870 0.873 0.875 0.877 0.880 0.883 0.885 0.887 0.890 0.893 0.895 0.897 0.900"/><feFuncB type="table" tableValues="0.110 0.114 0.117 0.121 0.124 0.128 0.131 0.135 0.138 0.142 0.145 0.149 0.152 0.156 0.159 0.163 0.166 0.170 0.181 0.192 0.203 0.213 0.224 0.235 0.244 0.254 0.263 0.272 0.281 0.291 0.300 0.310 0.320 0.330 0.340 0.350 0.360 0.367 0.375 0.383 0.390 0.397 0.405 0.412 0.420 0.426 0.432 0.439 0.445 0.451 0.457 0.464 0.470 0.477 0.483 0.490 0.497 0.503 0.510 0.517 0.523 0.530 0.537 0.543 0.550 0.561 0.572 0.583 0.593 0.604 0.615 0.626 0.637 0.648 0.658 0.669 0.680 0.688 0.697 0.705 0.714 0.722 0.731 0.739 0.748 0.756 0.765 0.773 0.782 0.790 0.793 0.796 0.799 0.801 0.804 0.807 0.810 0.813 0.816 0.819 0.821 0.824 0.827 0.830 0.833 0.836 0.839 0.841 0.844 0.847 0.850 0.853 0.855 0.857 0.860 0.863 0.865 0.867 0.870 0.873 0.875 0.877 0.880 0.883 0.885 0.887 0.890 0.893 0.895 0.897 0.900"/></feComponentTransfer><feComposite in="c" in2="ng" operator="arithmetic" k1="0.12" k2="1" k3="0" k4="-0.06"/></filter><g id="topir2"><g clip-path="url(#topclip)"><g transform="translate(0,-3) scale(0.5)"><g filter="url(#tgf2)"><use href="#irfield2"/></g></g></g></g><filter id="irf3" x="-12" y="-12" width="224" height="224" filterUnits="userSpaceOnUse" color-interpolation-filters="sRGB"><feTurbulence type="fractalNoise" baseFrequency="0.07" numOctaves="3" seed="44" result="dn"/><feDisplacementMap in="SourceGraphic" in2="dn" scale="7" xChannelSelector="R" yChannelSelector="G" result="d"/><feGaussianBlur in="d" stdDeviation="0.9" result="b"/><feTurbulence type="fractalNoise" baseFrequency="0.22" numOctaves="2" seed="47" result="n"/><feColorMatrix in="n" type="matrix" values="1 0 0 0 0 1 0 0 0 0 1 0 0 0 0 0 0 0 0 1" result="ng"/><feComponentTransfer in="b" result="m"><feFuncR type="table" tableValues="0 0 0 0 0 0 0.05 0.11 0.16 0.17 0.17 0.17 0.17 0.17 0.17 0.17 0.17 0.17 0.17 0.17 0.17"/><feFuncG type="table" tableValues="0 0 0 0 0 0 0.05 0.11 0.16 0.17 0.17 0.17 0.17 0.17 0.17 0.17 0.17 0.17 0.17 0.17 0.17"/><feFuncB type="table" tableValues="0 0 0 0 0 0 0.05 0.11 0.16 0.17 0.17 0.17 0.17 0.17 0.17 0.17 0.17 0.17 0.17 0.17 0.17"/></feComponentTransfer><feComposite in="m" in2="ng" operator="arithmetic" k1="1.0" k2="-0.5" k3="0" k4="0.5" result="t"/><feComposite in="b" in2="ng" operator="arithmetic" k1="0" k2="1" k3="0.055" k4="-0.0275" result="b2"/><feComposite in="b2" in2="t" operator="arithmetic" k1="0" k2="1" k3="1" k4="-0.5" result="f"/><feComponentTransfer in="f"><feFuncR type="table" tableValues="0.000 0.014 0.028 0.042 0.056 0.070 0.084 0.098 0.112 0.126 0.140 0.154 0.168 0.182 0.196 0.210 0.224 0.238 0.252 0.266 0.280 0.294 0.308 0.322 0.336 0.350 0.364 0.378 0.392 0.406 0.420 0.434 0.448 0.462 0.476 0.490 0.504 0.518 0.532 0.546 0.560 0.574 0.588 0.602 0.616 0.630 0.644 0.658 0.672 0.686 0.700 0.714 0.728 0.742 0.756 0.770 0.784 0.798 0.812 0.826 0.840 0.854 0.868 0.882 0.896 0.910 0.924 0.938 0.952 0.966 0.980 0.994 0.500 0.000 0.000 0.000 0.000 0.000 0.000 0.000 0.000 0.000 0.000 0.000 0.000 0.000 0.000 0.000 0.000 0.000 0.000 0.000 0.000 0.000 0.000 0.000 0.000 0.000 0.000 0.000 0.000 0.000 0.000 0.000 0.000 0.000 0.000 0.000 0.000 0.000 0.000 0.000 0.000 0.000 0.000 0.000 0.000 0.000 0.000 0.000 0.000 0.000 0.000 0.000 0.000 0.000 0.000 0.000 0.030 0.061 0.091 0.121 0.152 0.182 0.212 0.242 0.273 0.303 0.333 0.364 0.394 0.424 0.455 0.485 0.515 0.545 0.576 0.606 0.636 0.667 0.697 0.727 0.758 0.788 0.818 0.848 0.879 0.909 0.939 0.970 1.000 1.000 1.000 1.000 1.000 1.000 1.000 1.000 1.000 1.000 1.000 1.000 1.000 1.000 1.000 1.000 1.000 1.000 1.000 1.000 1.000 1.000 1.000 1.000 1.000 1.000 1.000 1.000 1.000 1.000 1.000 1.000 1.000 1.000 0.964 0.929 0.893 0.857 0.821 0.786 0.750 0.714 0.679 0.643 0.607 0.571 0.536 0.500 0.464 0.429 0.393 0.357 0.321 0.286 0.250 0.214 0.179 0.143 0.107 0.071 0.036 0.000 0.050 0.100 0.150 0.200 0.250 0.300 0.350 0.400 0.450 0.500 0.550 0.600 0.650 0.700 0.750 0.800 0.850 0.900 0.950 0.922 0.900 0.878 0.857 0.835 0.813 0.792 0.770 0.748 0.727 0.705 0.683 0.662 0.640 0.618 0.596 0.575 0.553 0.531 0.510"/><feFuncG type="table" tableValues="0.000 0.014 0.028 0.042 0.056 0.070 0.084 0.098 0.112 0.126 0.140 0.154 0.168 0.182 0.196 0.210 0.224 0.238 0.252 0.266 0.280 0.294 0.308 0.322 0.336 0.350 0.364 0.378 0.392 0.406 0.420 0.434 0.448 0.462 0.476 0.490 0.504 0.518 0.532 0.546 0.560 0.574 0.588 0.602 0.616 0.630 0.644 0.658 0.672 0.686 0.700 0.714 0.728 0.742 0.756 0.770 0.784 0.798 0.812 0.826 0.840 0.854 0.868 0.882 0.896 0.910 0.924 0.938 0.952 0.966 0.980 0.994 1.000 0.985 0.949 0.912 0.876 0.839 0.803 0.766 0.730 0.693 0.657 0.620 0.584 0.547 0.511 0.474 0.438 0.401 0.365 0.328 0.292 0.255 0.219 0.182 0.146 0.109 0.073 0.036 0.000 0.037 0.074 0.111 0.148 0.185 0.222 0.259 0.296 0.333 0.370 0.407 0.444 0.481 0.519 0.556 0.593 0.630 0.667 0.704 0.741 0.778 0.815 0.852 0.889 0.926 0.963 1.000 1.000 1.000 1.000 1.000 1.000 1.000 1.000 1.000 1.000 1.000 1.000 1.000 1.000 1.000 1.000 1.000 1.000 1.000 1.000 1.000 1.000 1.000 1.000 1.000 1.000 1.000 1.000 1.000 1.000 1.000 1.000 1.000 1.000 0.971 0.941 0.912 0.883 0.854 0.824 0.795 0.766 0.736 0.707 0.678 0.648 0.619 0.590 0.561 0.531 0.502 0.471 0.439 0.408 0.376 0.345 0.314 0.282 0.251 0.220 0.188 0.157 0.125 0.094 0.063 0.031 0.000 0.000 0.000 0.000 0.000 0.000 0.000 0.000 0.000 0.000 0.000 0.000 0.000 0.000 0.000 0.000 0.000 0.000 0.000 0.000 0.000 0.000 0.000 0.000 0.000 0.000 0.000 0.000 0.000 0.050 0.100 0.150 0.200 0.250 0.300 0.350 0.400 0.450 0.500 0.550 0.600 0.650 0.700 0.750 0.800 0.850 0.900 0.950 0.000 0.000 0.000 0.000 0.000 0.000 0.000 0.000 0.000 0.000 0.000 0.000 0.000 0.000 0.000 0.000 0.000 0.000 0.000 0.000"/><feFuncB type="table" tableValues="0.000 0.014 0.028 0.042 0.056 0.070 0.084 0.098 0.112 0.126 0.140 0.154 0.168 0.182 0.196 0.210 0.224 0.238 0.252 0.266 0.280 0.294 0.308 0.322 0.336 0.350 0.364 0.378 0.392 0.406 0.420 0.434 0.448 0.462 0.476 0.490 0.504 0.518 0.532 0.546 0.560 0.574 0.588 0.602 0.616 0.630 0.644 0.658 0.672 0.686 0.700 0.714 0.728 0.742 0.756 0.770 0.784 0.798 0.812 0.826 0.840 0.854 0.868 0.882 0.896 0.910 0.924 0.938 0.952 0.966 0.980 0.994 1.000 1.000 1.000 1.000 1.000 1.000 1.000 1.000 1.000 1.000 1.000 1.000 1.000 1.000 1.000 1.000 1.000 1.000 1.000 1.000 1.000 1.000 1.000 1.000 1.000 1.000 1.000 1.000 1.000 0.963 0.926 0.889 0.852 0.815 0.778 0.741 0.704 0.667 0.630 0.593 0.556 0.519 0.481 0.444 0.407 0.370 0.333 0.296 0.259 0.222 0.185 0.148 0.111 0.074 0.037 0.000 0.000 0.000 0.000 0.000 0.000 0.000 0.000 0.000 0.000 0.000 0.000 0.000 0.000 0.000 0.000 0.000 0.000 0.000 0.000 0.000 0.000 0.000 0.000 0.000 0.000 0.000 0.000 0.000 0.000 0.000 0.000 0.000 0.000 0.000 0.000 0.000 0.000 0.000 0.000 0.000 0.000 0.000 0.000 0.000 0.000 0.000 0.000 0.000 0.000 0.000 0.000 0.000 0.000 0.000 0.000 0.000 0.000 0.000 0.000 0.000 0.000 0.000 0.000 0.000 0.000 0.000 0.000 0.000 0.000 0.000 0.000 0.000 0.000 0.000 0.000 0.000 0.000 0.000 0.000 0.000 0.000 0.000 0.000 0.000 0.000 0.000 0.000 0.000 0.000 0.000 0.000 0.000 0.000 0.000 0.050 0.100 0.150 0.200 0.250 0.300 0.350 0.400 0.450 0.500 0.550 0.600 0.650 0.700 0.750 0.800 0.850 0.900 0.950 0.922 0.906 0.891 0.875 0.860 0.844 0.829 0.813 0.798 0.782 0.767 0.751 0.736 0.720 0.705 0.689 0.674 0.658 0.643 0.627"/></feComponentTransfer></filter><g id="irfield3"><rect x="-12" y="-12" width="224" height="224" fill="rgb(37,37,37)"/><g transform="scale(0.171233)"><path d="M0.0,300.0 C16.7,225.0 50.0,190.0 100.0,150.0 C150.0,110.0 236.7,81.7 300.0,60.0 C363.3,38.3 413.3,29.2 480.0,20.0 C546.7,10.8 638.3,1.7 700.0,5.0 C761.7,8.3 796.7,15.8 850.0,40.0 C903.3,64.2 988.3,110.0 1020.0,150.0 C1051.7,190.0 1051.7,241.7 1040.0,280.0 C1028.3,318.3 981.7,333.3 950.0,380.0 C918.3,426.7 888.3,503.3 850.0,560.0 C811.7,616.7 768.3,686.7 720.0,720.0 C671.7,753.3 613.3,753.3 560.0,760.0 C506.7,766.7 460.0,766.7 400.0,760.0 C340.0,753.3 260.0,733.3 200.0,720.0 C140.0,706.7 73.3,700.0 40.0,680.0 C6.7,660.0 6.7,663.3 0.0,600.0 C-6.7,536.7 -16.7,375.0 0.0,300.0Z" fill="rgb(50,50,50)" filter="url(#lb12)"/><path d="M320.0,200.0 C335.0,156.7 380.0,143.3 420.0,120.0 C460.0,96.7 513.3,73.3 560.0,60.0 C606.7,46.7 660.0,30.0 700.0,40.0 C740.0,50.0 758.3,93.3 800.0,120.0 C841.7,146.7 916.7,173.3 950.0,200.0 C983.3,226.7 1008.3,263.3 1000.0,280.0 C991.7,296.7 936.7,291.7 900.0,300.0 C863.3,308.3 813.3,316.7 780.0,330.0 C746.7,343.3 726.7,375.0 700.0,380.0 C673.3,385.0 650.0,356.7 620.0,360.0 C590.0,363.3 550.0,373.3 520.0,400.0 C490.0,426.7 450.0,480.0 440.0,520.0 C430.0,560.0 466.7,610.0 460.0,640.0 C453.3,670.0 416.7,713.3 400.0,700.0 C383.3,686.7 371.7,613.3 360.0,560.0 C348.3,506.7 336.7,440.0 330.0,380.0 C323.3,320.0 305.0,243.3 320.0,200.0Z" fill="rgb(62,62,62)" filter="url(#lb4)"/><path d="M350.0,740.0 C383.3,723.3 491.7,703.3 550.0,700.0 C608.3,696.7 658.3,710.0 700.0,720.0 C741.7,730.0 800.0,743.3 800.0,760.0 C800.0,776.7 750.0,806.7 700.0,820.0 C650.0,833.3 558.3,843.3 500.0,840.0 C441.7,836.7 375.0,816.7 350.0,800.0 C325.0,783.3 316.7,756.7 350.0,740.0Z" fill="rgb(46,46,46)" filter="url(#lb6)"/><path d="M880.0,500.0 C888.3,466.7 963.3,416.7 1000.0,450.0 C1036.7,483.3 1075.0,608.3 1100.0,700.0 C1125.0,791.7 1150.0,925.0 1150.0,1000.0 C1150.0,1075.0 1133.3,1125.0 1100.0,1150.0 C1066.7,1175.0 963.3,1191.7 950.0,1150.0 C936.7,1108.3 1020.0,983.3 1020.0,900.0 C1020.0,816.7 973.3,716.7 950.0,650.0 C926.7,583.3 871.7,533.3 880.0,500.0Z" fill="rgb(42,42,42)" filter="url(#lb9)"/><g fill="rgb(68,68,68)" stroke="rgb(65,65,65)" stroke-width="34" stroke-linejoin="round"><path d="M20.0,270.0 C31.7,245.0 70.0,221.7 90.0,200.0 C110.0,178.3 123.3,150.0 140.0,140.0 C156.7,130.0 180.0,130.0 190.0,140.0 C200.0,150.0 188.3,188.3 200.0,200.0 C211.7,211.7 240.0,205.0 260.0,210.0 C280.0,215.0 293.3,221.7 320.0,230.0 C346.7,238.3 400.0,245.0 420.0,260.0 C440.0,275.0 438.3,296.7 440.0,320.0 C441.7,343.3 430.0,373.3 430.0,400.0 C430.0,426.7 441.7,453.3 440.0,480.0 C438.3,506.7 416.7,536.7 420.0,560.0 C423.3,583.3 460.0,605.0 460.0,620.0 C460.0,635.0 433.3,640.0 420.0,650.0 C406.7,660.0 395.0,673.3 380.0,680.0 C365.0,686.7 343.3,693.3 330.0,690.0 C316.7,686.7 318.3,660.0 300.0,660.0 C281.7,660.0 250.0,688.3 220.0,690.0 C190.0,691.7 141.7,685.0 120.0,670.0 C98.3,655.0 100.0,625.0 90.0,600.0 C80.0,575.0 68.3,550.0 60.0,520.0 C51.7,490.0 46.7,448.3 40.0,420.0 C33.3,391.7 23.3,375.0 20.0,350.0 C16.7,325.0 8.3,295.0 20.0,270.0Z"/><path d="M380.0,230.0 C386.7,218.3 433.3,208.3 460.0,200.0 C486.7,191.7 516.7,185.0 540.0,180.0 C563.3,175.0 580.0,168.3 600.0,170.0 C620.0,171.7 633.3,188.3 660.0,190.0 C686.7,191.7 730.0,183.3 760.0,180.0 C790.0,176.7 811.7,170.0 840.0,170.0 C868.3,170.0 908.3,173.3 930.0,180.0 C951.7,186.7 971.7,201.7 970.0,210.0 C968.3,218.3 945.0,223.3 920.0,230.0 C895.0,236.7 840.0,235.0 820.0,250.0 C800.0,265.0 810.0,306.7 800.0,320.0 C790.0,333.3 773.3,333.3 760.0,330.0 C746.7,326.7 738.3,311.7 720.0,300.0 C701.7,288.3 670.0,266.7 650.0,260.0 C630.0,253.3 615.0,255.0 600.0,260.0 C585.0,265.0 573.3,283.3 560.0,290.0 C546.7,296.7 533.3,303.3 520.0,300.0 C506.7,296.7 496.7,275.0 480.0,270.0 C463.3,265.0 436.7,276.7 420.0,270.0 C403.3,263.3 373.3,241.7 380.0,230.0Z"/><path d="M520.0,340.0 C530.0,328.3 566.7,323.3 580.0,330.0 C593.3,336.7 586.7,370.0 600.0,380.0 C613.3,390.0 636.7,386.7 660.0,390.0 C683.3,393.3 720.0,396.7 740.0,400.0 C760.0,403.3 776.7,400.0 780.0,410.0 C783.3,420.0 763.3,441.7 760.0,460.0 C756.7,478.3 770.0,496.7 760.0,520.0 C750.0,543.3 720.0,581.7 700.0,600.0 C680.0,618.3 663.3,625.0 640.0,630.0 C616.7,635.0 578.3,638.3 560.0,630.0 C541.7,621.7 536.7,605.0 530.0,580.0 C523.3,555.0 521.7,510.0 520.0,480.0 C518.3,450.0 520.0,423.3 520.0,400.0 C520.0,376.7 510.0,351.7 520.0,340.0Z"/><path d="M470.0,30.0 C478.3,23.3 512.5,23.3 520.0,30.0 C527.5,36.7 523.3,63.3 515.0,70.0 C506.7,76.7 477.5,76.7 470.0,70.0 C462.5,63.3 461.7,36.7 470.0,30.0Z"/><path d="M700.0,90.0 C707.5,84.2 742.5,80.0 750.0,85.0 C757.5,90.0 752.5,114.2 745.0,120.0 C737.5,125.8 712.5,125.0 705.0,120.0 C697.5,115.0 692.5,95.8 700.0,90.0Z"/><path d="M350.0,680.0 C360.0,677.5 396.7,683.3 420.0,685.0 C443.3,686.7 480.0,684.2 490.0,690.0 C500.0,695.8 495.0,715.0 480.0,720.0 C465.0,725.0 420.0,723.3 400.0,720.0 C380.0,716.7 368.3,706.7 360.0,700.0 C351.7,693.3 340.0,682.5 350.0,680.0Z"/><path d="M0.0,330.0 C5.0,323.3 25.0,331.7 30.0,340.0 C35.0,348.3 35.0,373.3 30.0,380.0 C25.0,386.7 5.0,388.3 0.0,380.0 C-5.0,371.7 -5.0,336.7 0.0,330.0Z"/></g><g fill="rgb(78,78,78)"><path d="M20.0,270.0 C31.7,245.0 70.0,221.7 90.0,200.0 C110.0,178.3 123.3,150.0 140.0,140.0 C156.7,130.0 180.0,130.0 190.0,140.0 C200.0,150.0 188.3,188.3 200.0,200.0 C211.7,211.7 240.0,205.0 260.0,210.0 C280.0,215.0 293.3,221.7 320.0,230.0 C346.7,238.3 400.0,245.0 420.0,260.0 C440.0,275.0 438.3,296.7 440.0,320.0 C441.7,343.3 430.0,373.3 430.0,400.0 C430.0,426.7 441.7,453.3 440.0,480.0 C438.3,506.7 416.7,536.7 420.0,560.0 C423.3,583.3 460.0,605.0 460.0,620.0 C460.0,635.0 433.3,640.0 420.0,650.0 C406.7,660.0 395.0,673.3 380.0,680.0 C365.0,686.7 343.3,693.3 330.0,690.0 C316.7,686.7 318.3,660.0 300.0,660.0 C281.7,660.0 250.0,688.3 220.0,690.0 C190.0,691.7 141.7,685.0 120.0,670.0 C98.3,655.0 100.0,625.0 90.0,600.0 C80.0,575.0 68.3,550.0 60.0,520.0 C51.7,490.0 46.7,448.3 40.0,420.0 C33.3,391.7 23.3,375.0 20.0,350.0 C16.7,325.0 8.3,295.0 20.0,270.0Z"/><path d="M380.0,230.0 C386.7,218.3 433.3,208.3 460.0,200.0 C486.7,191.7 516.7,185.0 540.0,180.0 C563.3,175.0 580.0,168.3 600.0,170.0 C620.0,171.7 633.3,188.3 660.0,190.0 C686.7,191.7 730.0,183.3 760.0,180.0 C790.0,176.7 811.7,170.0 840.0,170.0 C868.3,170.0 908.3,173.3 930.0,180.0 C951.7,186.7 971.7,201.7 970.0,210.0 C968.3,218.3 945.0,223.3 920.0,230.0 C895.0,236.7 840.0,235.0 820.0,250.0 C800.0,265.0 810.0,306.7 800.0,320.0 C790.0,333.3 773.3,333.3 760.0,330.0 C746.7,326.7 738.3,311.7 720.0,300.0 C701.7,288.3 670.0,266.7 650.0,260.0 C630.0,253.3 615.0,255.0 600.0,260.0 C585.0,265.0 573.3,283.3 560.0,290.0 C546.7,296.7 533.3,303.3 520.0,300.0 C506.7,296.7 496.7,275.0 480.0,270.0 C463.3,265.0 436.7,276.7 420.0,270.0 C403.3,263.3 373.3,241.7 380.0,230.0Z"/><path d="M520.0,340.0 C530.0,328.3 566.7,323.3 580.0,330.0 C593.3,336.7 586.7,370.0 600.0,380.0 C613.3,390.0 636.7,386.7 660.0,390.0 C683.3,393.3 720.0,396.7 740.0,400.0 C760.0,403.3 776.7,400.0 780.0,410.0 C783.3,420.0 763.3,441.7 760.0,460.0 C756.7,478.3 770.0,496.7 760.0,520.0 C750.0,543.3 720.0,581.7 700.0,600.0 C680.0,618.3 663.3,625.0 640.0,630.0 C616.7,635.0 578.3,638.3 560.0,630.0 C541.7,621.7 536.7,605.0 530.0,580.0 C523.3,555.0 521.7,510.0 520.0,480.0 C518.3,450.0 520.0,423.3 520.0,400.0 C520.0,376.7 510.0,351.7 520.0,340.0Z"/><path d="M470.0,30.0 C478.3,23.3 512.5,23.3 520.0,30.0 C527.5,36.7 523.3,63.3 515.0,70.0 C506.7,76.7 477.5,76.7 470.0,70.0 C462.5,63.3 461.7,36.7 470.0,30.0Z"/><path d="M700.0,90.0 C707.5,84.2 742.5,80.0 750.0,85.0 C757.5,90.0 752.5,114.2 745.0,120.0 C737.5,125.8 712.5,125.0 705.0,120.0 C697.5,115.0 692.5,95.8 700.0,90.0Z"/><path d="M350.0,680.0 C360.0,677.5 396.7,683.3 420.0,685.0 C443.3,686.7 480.0,684.2 490.0,690.0 C500.0,695.8 495.0,715.0 480.0,720.0 C465.0,725.0 420.0,723.3 400.0,720.0 C380.0,716.7 368.3,706.7 360.0,700.0 C351.7,693.3 340.0,682.5 350.0,680.0Z"/><path d="M0.0,330.0 C5.0,323.3 25.0,331.7 30.0,340.0 C35.0,348.3 35.0,373.3 30.0,380.0 C25.0,386.7 5.0,388.3 0.0,380.0 C-5.0,371.7 -5.0,336.7 0.0,330.0Z"/></g><g fill="rgb(93,93,93)"><path d="M60.0,260.0 C66.7,233.3 93.3,235.0 110.0,220.0 C126.7,205.0 146.7,168.3 160.0,170.0 C173.3,171.7 170.0,218.3 190.0,230.0 C210.0,241.7 248.3,233.3 280.0,240.0 C311.7,246.7 355.0,255.0 380.0,270.0 C405.0,285.0 425.0,305.0 430.0,330.0 C435.0,355.0 411.7,388.3 410.0,420.0 C408.3,451.7 421.7,490.0 420.0,520.0 C418.3,550.0 413.3,583.3 400.0,600.0 C386.7,616.7 363.3,620.0 340.0,620.0 C316.7,620.0 290.0,600.0 260.0,600.0 C230.0,600.0 183.3,626.7 160.0,620.0 C136.7,613.3 131.7,583.3 120.0,560.0 C108.3,536.7 98.3,510.0 90.0,480.0 C81.7,450.0 75.0,416.7 70.0,380.0 C65.0,343.3 53.3,286.7 60.0,260.0Z"/><path d="M390.0,240.0 C395.0,229.2 441.7,223.3 470.0,215.0 C498.3,206.7 538.3,195.8 560.0,190.0 C581.7,184.2 600.0,171.7 600.0,180.0 C600.0,188.3 576.7,225.0 560.0,240.0 C543.3,255.0 520.0,263.3 500.0,270.0 C480.0,276.7 458.3,285.0 440.0,280.0 C421.7,275.0 385.0,250.8 390.0,240.0Z"/><path d="M720.0,200.0 C733.3,191.7 793.3,180.0 820.0,180.0 C846.7,180.0 873.3,191.7 880.0,200.0 C886.7,208.3 876.7,223.3 860.0,230.0 C843.3,236.7 800.0,240.0 780.0,240.0 C760.0,240.0 750.0,236.7 740.0,230.0 C730.0,223.3 706.7,208.3 720.0,200.0Z"/><path d="M540.0,390.0 C550.0,368.3 576.7,388.3 600.0,390.0 C623.3,391.7 653.3,398.3 680.0,400.0 C706.7,401.7 745.0,390.0 760.0,400.0 C775.0,410.0 775.0,436.7 770.0,460.0 C765.0,483.3 743.3,516.7 730.0,540.0 C716.7,563.3 708.3,585.0 690.0,600.0 C671.7,615.0 643.3,626.7 620.0,630.0 C596.7,633.3 563.3,638.3 550.0,620.0 C536.7,601.7 541.7,558.3 540.0,520.0 C538.3,481.7 530.0,411.7 540.0,390.0Z"/><path d="M140.0,620.0 C150.0,610.0 193.3,626.7 220.0,630.0 C246.7,633.3 283.3,630.0 300.0,640.0 C316.7,650.0 328.3,680.0 320.0,690.0 C311.7,700.0 276.7,700.0 250.0,700.0 C223.3,700.0 178.3,703.3 160.0,690.0 C141.7,676.7 130.0,630.0 140.0,620.0Z"/></g><g fill="rgb(126,126,126)"><path d="M110.0,240.0 C118.3,218.3 135.0,226.7 160.0,230.0 C185.0,233.3 226.7,250.0 260.0,260.0 C293.3,270.0 335.0,278.3 360.0,290.0 C385.0,301.7 403.3,308.3 410.0,330.0 C416.7,351.7 400.0,388.3 400.0,420.0 C400.0,451.7 411.7,493.3 410.0,520.0 C408.3,546.7 405.0,568.3 390.0,580.0 C375.0,591.7 351.7,588.3 320.0,590.0 C288.3,591.7 228.3,595.0 200.0,590.0 C171.7,585.0 163.3,578.3 150.0,560.0 C136.7,541.7 126.7,513.3 120.0,480.0 C113.3,446.7 111.7,400.0 110.0,360.0 C108.3,320.0 101.7,261.7 110.0,240.0Z"/><path d="M560.0,440.0 C573.3,426.7 616.7,420.0 640.0,420.0 C663.3,420.0 691.7,423.3 700.0,440.0 C708.3,456.7 700.0,500.0 690.0,520.0 C680.0,540.0 658.3,553.3 640.0,560.0 C621.7,566.7 593.3,570.0 580.0,560.0 C566.7,550.0 563.3,520.0 560.0,500.0 C556.7,480.0 546.7,453.3 560.0,440.0Z"/><path d="M160.0,660.0 C167.5,657.5 203.3,665.0 210.0,670.0 C216.7,675.0 207.5,687.5 200.0,690.0 C192.5,692.5 171.7,690.0 165.0,685.0 C158.3,680.0 152.5,662.5 160.0,660.0Z"/></g><g fill="rgb(147,147,147)"><path d="M160.0,300.0 C176.7,275.0 221.7,288.3 250.0,290.0 C278.3,291.7 310.0,295.0 330.0,310.0 C350.0,325.0 365.0,351.7 370.0,380.0 C375.0,408.3 366.7,453.3 360.0,480.0 C353.3,506.7 348.3,526.7 330.0,540.0 C311.7,553.3 273.3,561.7 250.0,560.0 C226.7,558.3 206.7,550.0 190.0,530.0 C173.3,510.0 155.0,478.3 150.0,440.0 C145.0,401.7 143.3,325.0 160.0,300.0Z"/><path d="M590.0,460.0 C598.3,451.7 628.3,451.7 640.0,460.0 C651.7,468.3 663.3,498.3 660.0,510.0 C656.7,521.7 631.7,530.0 620.0,530.0 C608.3,530.0 595.0,521.7 590.0,510.0 C585.0,498.3 581.7,468.3 590.0,460.0Z"/></g><g fill="rgb(175,175,175)"><path d="M220.0,350.0 C235.0,340.0 281.7,333.3 300.0,340.0 C318.3,346.7 328.3,375.0 330.0,390.0 C331.7,405.0 323.3,423.3 310.0,430.0 C296.7,436.7 266.7,435.0 250.0,430.0 C233.3,425.0 215.0,413.3 210.0,400.0 C205.0,386.7 205.0,360.0 220.0,350.0Z"/><path d="M290.0,450.0 C295.0,443.3 321.7,443.3 330.0,450.0 C338.3,456.7 345.0,483.3 340.0,490.0 C335.0,496.7 308.3,496.7 300.0,490.0 C291.7,483.3 285.0,456.7 290.0,450.0Z"/><path d="M575.0,478.0 C580.0,472.3 600.0,472.3 605.0,478.0 C610.0,483.7 610.0,506.3 605.0,512.0 C600.0,517.7 580.0,517.7 575.0,512.0 C570.0,506.3 570.0,483.7 575.0,478.0Z"/><path d="M620.0,495.0 C624.2,490.5 640.8,490.5 645.0,495.0 C649.2,499.5 649.2,517.5 645.0,522.0 C640.8,526.5 624.2,526.5 620.0,522.0 C615.8,517.5 615.8,499.5 620.0,495.0Z"/></g></g></g><g id="ir3"><g clip-path="url(#irclip)"><g filter="url(#irf3)"><use href="#irfield3"/></g></g></g><filter id="tgf3" x="-12" y="-12" width="224" height="224" filterUnits="userSpaceOnUse" color-interpolation-filters="sRGB"><feTurbulence type="fractalNoise" baseFrequency="0.07" numOctaves="3" seed="44" result="dn"/><feDisplacementMap in="SourceGraphic" in2="dn" scale="7" xChannelSelector="R" yChannelSelector="G" result="d"/><feGaussianBlur in="d" stdDeviation="1.5" result="b"/><feTurbulence type="fractalNoise" baseFrequency="0.3" numOctaves="2" seed="47" result="n"/><feColorMatrix in="n" type="matrix" values="1 0 0 0 0 1 0 0 0 0 1 0 0 0 0 0 0 0 0 1" result="ng"/><feComposite in="b" in2="ng" operator="arithmetic" k1="0" k2="1" k3="0.07" k4="-0.035" result="f"/><feComponentTransfer in="f" result="c"><feFuncR type="table" tableValues="0.110 0.114 0.117 0.121 0.124 0.128 0.131 0.135 0.138 0.142 0.145 0.149 0.152 0.156 0.159 0.163 0.166 0.170 0.181 0.192 0.203 0.213 0.224 0.235 0.244 0.254 0.263 0.272 0.281 0.291 0.300 0.310 0.320 0.330 0.340 0.350 0.360 0.367 0.375 0.383 0.390 0.397 0.405 0.412 0.420 0.426 0.432 0.439 0.445 0.451 0.457 0.464 0.470 0.477 0.483 0.490 0.497 0.503 0.510 0.517 0.523 0.530 0.537 0.543 0.550 0.561 0.572 0.583 0.593 0.604 0.615 0.626 0.637 0.648 0.658 0.669 0.680 0.688 0.697 0.705 0.714 0.722 0.731 0.739 0.748 0.756 0.765 0.773 0.782 0.790 0.793 0.796 0.799 0.801 0.804 0.807 0.810 0.813 0.816 0.819 0.821 0.824 0.827 0.830 0.833 0.836 0.839 0.841 0.844 0.847 0.850 0.853 0.855 0.857 0.860 0.863 0.865 0.867 0.870 0.873 0.875 0.877 0.880 0.883 0.885 0.887 0.890 0.893 0.895 0.897 0.900"/><feFuncG type="table" tableValues="0.110 0.114 0.117 0.121 0.124 0.128 0.131 0.135 0.138 0.142 0.145 0.149 0.152 0.156 0.159 0.163 0.166 0.170 0.181 0.192 0.203 0.213 0.224 0.235 0.244 0.254 0.263 0.272 0.281 0.291 0.300 0.310 0.320 0.330 0.340 0.350 0.360 0.367 0.375 0.383 0.390 0.397 0.405 0.412 0.420 0.426 0.432 0.439 0.445 0.451 0.457 0.464 0.470 0.477 0.483 0.490 0.497 0.503 0.510 0.517 0.523 0.530 0.537 0.543 0.550 0.561 0.572 0.583 0.593 0.604 0.615 0.626 0.637 0.648 0.658 0.669 0.680 0.688 0.697 0.705 0.714 0.722 0.731 0.739 0.748 0.756 0.765 0.773 0.782 0.790 0.793 0.796 0.799 0.801 0.804 0.807 0.810 0.813 0.816 0.819 0.821 0.824 0.827 0.830 0.833 0.836 0.839 0.841 0.844 0.847 0.850 0.853 0.855 0.857 0.860 0.863 0.865 0.867 0.870 0.873 0.875 0.877 0.880 0.883 0.885 0.887 0.890 0.893 0.895 0.897 0.900"/><feFuncB type="table" tableValues="0.110 0.114 0.117 0.121 0.124 0.128 0.131 0.135 0.138 0.142 0.145 0.149 0.152 0.156 0.159 0.163 0.166 0.170 0.181 0.192 0.203 0.213 0.224 0.235 0.244 0.254 0.263 0.272 0.281 0.291 0.300 0.310 0.320 0.330 0.340 0.350 0.360 0.367 0.375 0.383 0.390 0.397 0.405 0.412 0.420 0.426 0.432 0.439 0.445 0.451 0.457 0.464 0.470 0.477 0.483 0.490 0.497 0.503 0.510 0.517 0.523 0.530 0.537 0.543 0.550 0.561 0.572 0.583 0.593 0.604 0.615 0.626 0.637 0.648 0.658 0.669 0.680 0.688 0.697 0.705 0.714 0.722 0.731 0.739 0.748 0.756 0.765 0.773 0.782 0.790 0.793 0.796 0.799 0.801 0.804 0.807 0.810 0.813 0.816 0.819 0.821 0.824 0.827 0.830 0.833 0.836 0.839 0.841 0.844 0.847 0.850 0.853 0.855 0.857 0.860 0.863 0.865 0.867 0.870 0.873 0.875 0.877 0.880 0.883 0.885 0.887 0.890 0.893 0.895 0.897 0.900"/></feComponentTransfer><feComposite in="c" in2="ng" operator="arithmetic" k1="0.12" k2="1" k3="0" k4="-0.06"/></filter><g id="topir3"><g clip-path="url(#topclip)"><g transform="translate(0,-3) scale(0.5)"><g filter="url(#tgf3)"><use href="#irfield3"/></g></g></g></g><filter id="irf4" x="-12" y="-12" width="224" height="224" filterUnits="userSpaceOnUse" color-interpolation-filters="sRGB"><feTurbulence type="fractalNoise" baseFrequency="0.07" numOctaves="3" seed="57" result="dn"/><feDisplacementMap in="SourceGraphic" in2="dn" scale="7" xChannelSelector="R" yChannelSelector="G" result="d"/><feGaussianBlur in="d" stdDeviation="0.9" result="b"/><feTurbulence type="fractalNoise" baseFrequency="0.22" numOctaves="2" seed="60" result="n"/><feColorMatrix in="n" type="matrix" values="1 0 0 0 0 1 0 0 0 0 1 0 0 0 0 0 0 0 0 1" result="ng"/><feComponentTransfer in="b" result="m"><feFuncR type="table" tableValues="0 0 0 0 0 0 0.05 0.11 0.16 0.17 0.17 0.17 0.17 0.17 0.17 0.17 0.17 0.17 0.17 0.17 0.17"/><feFuncG type="table" tableValues="0 0 0 0 0 0 0.05 0.11 0.16 0.17 0.17 0.17 0.17 0.17 0.17 0.17 0.17 0.17 0.17 0.17 0.17"/><feFuncB type="table" tableValues="0 0 0 0 0 0 0.05 0.11 0.16 0.17 0.17 0.17 0.17 0.17 0.17 0.17 0.17 0.17 0.17 0.17 0.17"/></feComponentTransfer><feComposite in="m" in2="ng" operator="arithmetic" k1="1.0" k2="-0.5" k3="0" k4="0.5" result="t"/><feComposite in="b" in2="ng" operator="arithmetic" k1="0" k2="1" k3="0.055" k4="-0.0275" result="b2"/><feComposite in="b2" in2="t" operator="arithmetic" k1="0" k2="1" k3="1" k4="-0.5" result="f"/><feComponentTransfer in="f"><feFuncR type="table" tableValues="0.000 0.014 0.028 0.042 0.056 0.070 0.084 0.098 0.112 0.126 0.140 0.154 0.168 0.182 0.196 0.210 0.224 0.238 0.252 0.266 0.280 0.294 0.308 0.322 0.336 0.350 0.364 0.378 0.392 0.406 0.420 0.434 0.448 0.462 0.476 0.490 0.504 0.518 0.532 0.546 0.560 0.574 0.588 0.602 0.616 0.630 0.644 0.658 0.672 0.686 0.700 0.714 0.728 0.742 0.756 0.770 0.784 0.798 0.812 0.826 0.840 0.854 0.868 0.882 0.896 0.910 0.924 0.938 0.952 0.966 0.980 0.994 0.500 0.000 0.000 0.000 0.000 0.000 0.000 0.000 0.000 0.000 0.000 0.000 0.000 0.000 0.000 0.000 0.000 0.000 0.000 0.000 0.000 0.000 0.000 0.000 0.000 0.000 0.000 0.000 0.000 0.000 0.000 0.000 0.000 0.000 0.000 0.000 0.000 0.000 0.000 0.000 0.000 0.000 0.000 0.000 0.000 0.000 0.000 0.000 0.000 0.000 0.000 0.000 0.000 0.000 0.000 0.000 0.030 0.061 0.091 0.121 0.152 0.182 0.212 0.242 0.273 0.303 0.333 0.364 0.394 0.424 0.455 0.485 0.515 0.545 0.576 0.606 0.636 0.667 0.697 0.727 0.758 0.788 0.818 0.848 0.879 0.909 0.939 0.970 1.000 1.000 1.000 1.000 1.000 1.000 1.000 1.000 1.000 1.000 1.000 1.000 1.000 1.000 1.000 1.000 1.000 1.000 1.000 1.000 1.000 1.000 1.000 1.000 1.000 1.000 1.000 1.000 1.000 1.000 1.000 1.000 1.000 1.000 0.964 0.929 0.893 0.857 0.821 0.786 0.750 0.714 0.679 0.643 0.607 0.571 0.536 0.500 0.464 0.429 0.393 0.357 0.321 0.286 0.250 0.214 0.179 0.143 0.107 0.071 0.036 0.000 0.050 0.100 0.150 0.200 0.250 0.300 0.350 0.400 0.450 0.500 0.550 0.600 0.650 0.700 0.750 0.800 0.850 0.900 0.950 0.922 0.900 0.878 0.857 0.835 0.813 0.792 0.770 0.748 0.727 0.705 0.683 0.662 0.640 0.618 0.596 0.575 0.553 0.531 0.510"/><feFuncG type="table" tableValues="0.000 0.014 0.028 0.042 0.056 0.070 0.084 0.098 0.112 0.126 0.140 0.154 0.168 0.182 0.196 0.210 0.224 0.238 0.252 0.266 0.280 0.294 0.308 0.322 0.336 0.350 0.364 0.378 0.392 0.406 0.420 0.434 0.448 0.462 0.476 0.490 0.504 0.518 0.532 0.546 0.560 0.574 0.588 0.602 0.616 0.630 0.644 0.658 0.672 0.686 0.700 0.714 0.728 0.742 0.756 0.770 0.784 0.798 0.812 0.826 0.840 0.854 0.868 0.882 0.896 0.910 0.924 0.938 0.952 0.966 0.980 0.994 1.000 0.985 0.949 0.912 0.876 0.839 0.803 0.766 0.730 0.693 0.657 0.620 0.584 0.547 0.511 0.474 0.438 0.401 0.365 0.328 0.292 0.255 0.219 0.182 0.146 0.109 0.073 0.036 0.000 0.037 0.074 0.111 0.148 0.185 0.222 0.259 0.296 0.333 0.370 0.407 0.444 0.481 0.519 0.556 0.593 0.630 0.667 0.704 0.741 0.778 0.815 0.852 0.889 0.926 0.963 1.000 1.000 1.000 1.000 1.000 1.000 1.000 1.000 1.000 1.000 1.000 1.000 1.000 1.000 1.000 1.000 1.000 1.000 1.000 1.000 1.000 1.000 1.000 1.000 1.000 1.000 1.000 1.000 1.000 1.000 1.000 1.000 1.000 1.000 0.971 0.941 0.912 0.883 0.854 0.824 0.795 0.766 0.736 0.707 0.678 0.648 0.619 0.590 0.561 0.531 0.502 0.471 0.439 0.408 0.376 0.345 0.314 0.282 0.251 0.220 0.188 0.157 0.125 0.094 0.063 0.031 0.000 0.000 0.000 0.000 0.000 0.000 0.000 0.000 0.000 0.000 0.000 0.000 0.000 0.000 0.000 0.000 0.000 0.000 0.000 0.000 0.000 0.000 0.000 0.000 0.000 0.000 0.000 0.000 0.000 0.050 0.100 0.150 0.200 0.250 0.300 0.350 0.400 0.450 0.500 0.550 0.600 0.650 0.700 0.750 0.800 0.850 0.900 0.950 0.000 0.000 0.000 0.000 0.000 0.000 0.000 0.000 0.000 0.000 0.000 0.000 0.000 0.000 0.000 0.000 0.000 0.000 0.000 0.000"/><feFuncB type="table" tableValues="0.000 0.014 0.028 0.042 0.056 0.070 0.084 0.098 0.112 0.126 0.140 0.154 0.168 0.182 0.196 0.210 0.224 0.238 0.252 0.266 0.280 0.294 0.308 0.322 0.336 0.350 0.364 0.378 0.392 0.406 0.420 0.434 0.448 0.462 0.476 0.490 0.504 0.518 0.532 0.546 0.560 0.574 0.588 0.602 0.616 0.630 0.644 0.658 0.672 0.686 0.700 0.714 0.728 0.742 0.756 0.770 0.784 0.798 0.812 0.826 0.840 0.854 0.868 0.882 0.896 0.910 0.924 0.938 0.952 0.966 0.980 0.994 1.000 1.000 1.000 1.000 1.000 1.000 1.000 1.000 1.000 1.000 1.000 1.000 1.000 1.000 1.000 1.000 1.000 1.000 1.000 1.000 1.000 1.000 1.000 1.000 1.000 1.000 1.000 1.000 1.000 0.963 0.926 0.889 0.852 0.815 0.778 0.741 0.704 0.667 0.630 0.593 0.556 0.519 0.481 0.444 0.407 0.370 0.333 0.296 0.259 0.222 0.185 0.148 0.111 0.074 0.037 0.000 0.000 0.000 0.000 0.000 0.000 0.000 0.000 0.000 0.000 0.000 0.000 0.000 0.000 0.000 0.000 0.000 0.000 0.000 0.000 0.000 0.000 0.000 0.000 0.000 0.000 0.000 0.000 0.000 0.000 0.000 0.000 0.000 0.000 0.000 0.000 0.000 0.000 0.000 0.000 0.000 0.000 0.000 0.000 0.000 0.000 0.000 0.000 0.000 0.000 0.000 0.000 0.000 0.000 0.000 0.000 0.000 0.000 0.000 0.000 0.000 0.000 0.000 0.000 0.000 0.000 0.000 0.000 0.000 0.000 0.000 0.000 0.000 0.000 0.000 0.000 0.000 0.000 0.000 0.000 0.000 0.000 0.000 0.000 0.000 0.000 0.000 0.000 0.000 0.000 0.000 0.000 0.000 0.000 0.000 0.050 0.100 0.150 0.200 0.250 0.300 0.350 0.400 0.450 0.500 0.550 0.600 0.650 0.700 0.750 0.800 0.850 0.900 0.950 0.922 0.906 0.891 0.875 0.860 0.844 0.829 0.813 0.798 0.782 0.767 0.751 0.736 0.720 0.705 0.689 0.674 0.658 0.643 0.627"/></feComponentTransfer></filter><g id="irfield4"><rect x="-12" y="-12" width="224" height="224" fill="rgb(37,37,37)"/><g transform="scale(0.171233)"><path d="M0.0,250.0 C20.0,191.7 86.7,178.3 120.0,150.0 C153.3,121.7 153.3,98.3 200.0,80.0 C246.7,61.7 325.0,46.7 400.0,40.0 C475.0,33.3 575.0,30.0 650.0,40.0 C725.0,50.0 791.7,73.3 850.0,100.0 C908.3,126.7 966.7,158.3 1000.0,200.0 C1033.3,241.7 1058.3,300.0 1050.0,350.0 C1041.7,400.0 991.7,458.3 950.0,500.0 C908.3,541.7 841.7,566.7 800.0,600.0 C758.3,633.3 740.0,676.7 700.0,700.0 C660.0,723.3 610.0,736.7 560.0,740.0 C510.0,743.3 460.0,730.0 400.0,720.0 C340.0,710.0 256.7,700.0 200.0,680.0 C143.3,660.0 93.3,630.0 60.0,600.0 C26.7,570.0 10.0,558.3 0.0,500.0 C-10.0,441.7 -20.0,308.3 0.0,250.0Z" fill="rgb(48,48,48)" filter="url(#lb12)"/><path d="M420.0,220.0 C418.3,200.0 436.7,155.0 460.0,130.0 C483.3,105.0 528.3,81.7 560.0,70.0 C591.7,58.3 643.3,51.7 650.0,60.0 C656.7,68.3 621.7,100.0 600.0,120.0 C578.3,140.0 541.7,158.3 520.0,180.0 C498.3,201.7 486.7,243.3 470.0,250.0 C453.3,256.7 421.7,240.0 420.0,220.0Z" fill="rgb(64,64,64)" filter="url(#lb3)"/><path d="M850.0,250.0 C870.0,223.3 931.7,206.7 960.0,220.0 C988.3,233.3 1016.7,296.7 1020.0,330.0 C1023.3,363.3 1003.3,398.3 980.0,420.0 C956.7,441.7 903.3,466.7 880.0,460.0 C856.7,453.3 845.0,415.0 840.0,380.0 C835.0,345.0 830.0,276.7 850.0,250.0Z" fill="rgb(62,62,62)" filter="url(#lb4)"/><path d="M150.0,700.0 C191.7,696.7 316.7,746.7 400.0,760.0 C483.3,773.3 591.7,780.0 650.0,780.0 C708.3,780.0 758.3,748.3 750.0,760.0 C741.7,771.7 675.0,838.3 600.0,850.0 C525.0,861.7 375.0,841.7 300.0,830.0 C225.0,818.3 175.0,801.7 150.0,780.0 C125.0,758.3 108.3,703.3 150.0,700.0Z" fill="rgb(46,46,46)" filter="url(#lb6)"/><path d="M900.0,500.0 C925.0,470.0 1008.3,470.0 1050.0,520.0 C1091.7,570.0 1133.3,695.0 1150.0,800.0 C1166.7,905.0 1183.3,1091.7 1150.0,1150.0 C1116.7,1208.3 975.0,1191.7 950.0,1150.0 C925.0,1108.3 1008.3,975.0 1000.0,900.0 C991.7,825.0 916.7,766.7 900.0,700.0 C883.3,633.3 875.0,530.0 900.0,500.0Z" fill="rgb(42,42,42)" filter="url(#lb9)"/><g fill="rgb(68,68,68)" stroke="rgb(65,65,65)" stroke-width="34" stroke-linejoin="round"><path d="M20.0,330.0 C28.3,313.3 71.7,291.7 90.0,280.0 C108.3,268.3 115.0,266.7 130.0,260.0 C145.0,253.3 160.0,243.3 180.0,240.0 C200.0,236.7 226.7,238.3 250.0,240.0 C273.3,241.7 306.7,256.7 320.0,250.0 C333.3,243.3 330.0,216.7 330.0,200.0 C330.0,183.3 311.7,161.7 320.0,150.0 C328.3,138.3 366.7,123.3 380.0,130.0 C393.3,136.7 398.3,170.0 400.0,190.0 C401.7,210.0 383.3,231.7 390.0,250.0 C396.7,268.3 421.7,298.3 440.0,300.0 C458.3,301.7 481.7,276.7 500.0,260.0 C518.3,243.3 530.0,213.3 550.0,200.0 C570.0,186.7 598.3,183.3 620.0,180.0 C641.7,176.7 660.0,186.7 680.0,180.0 C700.0,173.3 720.0,148.3 740.0,140.0 C760.0,131.7 780.0,125.0 800.0,130.0 C820.0,135.0 843.3,155.0 860.0,170.0 C876.7,185.0 896.7,201.7 900.0,220.0 C903.3,238.3 888.3,265.0 880.0,280.0 C871.7,295.0 843.3,305.0 850.0,310.0 C856.7,315.0 896.7,305.0 920.0,310.0 C943.3,315.0 981.7,323.3 990.0,340.0 C998.3,356.7 978.3,396.7 970.0,410.0 C961.7,423.3 958.3,418.3 940.0,420.0 C921.7,421.7 875.0,406.7 860.0,420.0 C845.0,433.3 853.3,481.7 850.0,500.0 C846.7,518.3 855.0,530.0 840.0,530.0 C825.0,530.0 786.7,508.3 760.0,500.0 C733.3,491.7 700.0,473.3 680.0,480.0 C660.0,486.7 653.3,513.3 640.0,540.0 C626.7,566.7 620.0,613.3 600.0,640.0 C580.0,666.7 550.0,691.7 520.0,700.0 C490.0,708.3 456.7,696.7 420.0,690.0 C383.3,683.3 330.0,668.3 300.0,660.0 C270.0,651.7 258.3,650.0 240.0,640.0 C221.7,630.0 205.0,620.0 190.0,600.0 C175.0,580.0 166.7,546.7 150.0,520.0 C133.3,493.3 108.3,463.3 90.0,440.0 C71.7,416.7 51.7,398.3 40.0,380.0 C28.3,361.7 11.7,346.7 20.0,330.0Z"/><path d="M220.0,110.0 C225.8,103.3 252.5,95.8 260.0,100.0 C267.5,104.2 270.8,128.3 265.0,135.0 C259.2,141.7 232.5,144.2 225.0,140.0 C217.5,135.8 214.2,116.7 220.0,110.0Z"/></g><g fill="rgb(78,78,78)"><path d="M20.0,330.0 C28.3,313.3 71.7,291.7 90.0,280.0 C108.3,268.3 115.0,266.7 130.0,260.0 C145.0,253.3 160.0,243.3 180.0,240.0 C200.0,236.7 226.7,238.3 250.0,240.0 C273.3,241.7 306.7,256.7 320.0,250.0 C333.3,243.3 330.0,216.7 330.0,200.0 C330.0,183.3 311.7,161.7 320.0,150.0 C328.3,138.3 366.7,123.3 380.0,130.0 C393.3,136.7 398.3,170.0 400.0,190.0 C401.7,210.0 383.3,231.7 390.0,250.0 C396.7,268.3 421.7,298.3 440.0,300.0 C458.3,301.7 481.7,276.7 500.0,260.0 C518.3,243.3 530.0,213.3 550.0,200.0 C570.0,186.7 598.3,183.3 620.0,180.0 C641.7,176.7 660.0,186.7 680.0,180.0 C700.0,173.3 720.0,148.3 740.0,140.0 C760.0,131.7 780.0,125.0 800.0,130.0 C820.0,135.0 843.3,155.0 860.0,170.0 C876.7,185.0 896.7,201.7 900.0,220.0 C903.3,238.3 888.3,265.0 880.0,280.0 C871.7,295.0 843.3,305.0 850.0,310.0 C856.7,315.0 896.7,305.0 920.0,310.0 C943.3,315.0 981.7,323.3 990.0,340.0 C998.3,356.7 978.3,396.7 970.0,410.0 C961.7,423.3 958.3,418.3 940.0,420.0 C921.7,421.7 875.0,406.7 860.0,420.0 C845.0,433.3 853.3,481.7 850.0,500.0 C846.7,518.3 855.0,530.0 840.0,530.0 C825.0,530.0 786.7,508.3 760.0,500.0 C733.3,491.7 700.0,473.3 680.0,480.0 C660.0,486.7 653.3,513.3 640.0,540.0 C626.7,566.7 620.0,613.3 600.0,640.0 C580.0,666.7 550.0,691.7 520.0,700.0 C490.0,708.3 456.7,696.7 420.0,690.0 C383.3,683.3 330.0,668.3 300.0,660.0 C270.0,651.7 258.3,650.0 240.0,640.0 C221.7,630.0 205.0,620.0 190.0,600.0 C175.0,580.0 166.7,546.7 150.0,520.0 C133.3,493.3 108.3,463.3 90.0,440.0 C71.7,416.7 51.7,398.3 40.0,380.0 C28.3,361.7 11.7,346.7 20.0,330.0Z"/><path d="M220.0,110.0 C225.8,103.3 252.5,95.8 260.0,100.0 C267.5,104.2 270.8,128.3 265.0,135.0 C259.2,141.7 232.5,144.2 225.0,140.0 C217.5,135.8 214.2,116.7 220.0,110.0Z"/></g><g fill="rgb(93,93,93)"><path d="M100.0,330.0 C108.3,308.3 125.0,283.3 150.0,270.0 C175.0,256.7 220.0,251.7 250.0,250.0 C280.0,248.3 308.3,263.3 330.0,260.0 C351.7,256.7 376.7,246.7 380.0,230.0 C383.3,213.3 346.7,170.0 350.0,160.0 C353.3,150.0 388.3,153.3 400.0,170.0 C411.7,186.7 410.0,238.3 420.0,260.0 C430.0,281.7 443.3,298.3 460.0,300.0 C476.7,301.7 498.3,281.7 520.0,270.0 C541.7,258.3 563.3,240.0 590.0,230.0 C616.7,220.0 651.7,211.7 680.0,210.0 C708.3,208.3 731.7,218.3 760.0,220.0 C788.3,221.7 830.0,213.3 850.0,220.0 C870.0,226.7 888.3,251.7 880.0,260.0 C871.7,268.3 820.0,263.3 800.0,270.0 C780.0,276.7 776.7,291.7 760.0,300.0 C743.3,308.3 716.7,311.7 700.0,320.0 C683.3,328.3 660.0,333.3 660.0,350.0 C660.0,366.7 696.7,398.3 700.0,420.0 C703.3,441.7 693.3,463.3 680.0,480.0 C666.7,496.7 633.3,493.3 620.0,520.0 C606.7,546.7 616.7,611.7 600.0,640.0 C583.3,668.3 550.0,683.3 520.0,690.0 C490.0,696.7 456.7,686.7 420.0,680.0 C383.3,673.3 330.0,658.3 300.0,650.0 C270.0,641.7 260.0,645.0 240.0,630.0 C220.0,615.0 196.7,585.0 180.0,560.0 C163.3,535.0 153.3,506.7 140.0,480.0 C126.7,453.3 106.7,425.0 100.0,400.0 C93.3,375.0 91.7,351.7 100.0,330.0Z"/><path d="M700.0,380.0 C700.0,370.0 726.7,373.3 740.0,380.0 C753.3,386.7 780.0,410.0 780.0,420.0 C780.0,430.0 753.3,446.7 740.0,440.0 C726.7,433.3 700.0,390.0 700.0,380.0Z"/><path d="M750.0,210.0 C766.7,205.0 840.0,213.3 860.0,220.0 C880.0,226.7 886.7,245.0 870.0,250.0 C853.3,255.0 780.0,256.7 760.0,250.0 C740.0,243.3 733.3,215.0 750.0,210.0Z"/></g><g fill="rgb(67,67,67)"><path d="M425.0,370.0 C439.2,359.2 480.8,351.7 495.0,360.0 C509.2,368.3 513.3,402.5 510.0,420.0 C506.7,437.5 489.2,457.5 475.0,465.0 C460.8,472.5 435.8,471.7 425.0,465.0 C414.2,458.3 410.0,440.8 410.0,425.0 C410.0,409.2 410.8,380.8 425.0,370.0Z"/><path d="M600.0,260.0 C606.7,250.7 636.7,252.8 645.0,262.0 C653.3,271.2 656.7,305.7 650.0,315.0 C643.3,324.3 613.3,327.2 605.0,318.0 C596.7,308.8 593.3,269.3 600.0,260.0Z"/><path d="M720.0,300.0 C725.0,290.8 758.3,285.0 770.0,290.0 C781.7,295.0 795.0,320.8 790.0,330.0 C785.0,339.2 751.7,350.0 740.0,345.0 C728.3,340.0 715.0,309.2 720.0,300.0Z"/><path d="M790.0,385.0 C796.3,379.7 823.0,375.8 830.0,380.0 C837.0,384.2 838.3,404.7 832.0,410.0 C825.7,415.3 799.0,416.2 792.0,412.0 C785.0,407.8 783.7,390.3 790.0,385.0Z"/><path d="M650.0,372.0 C656.0,366.7 681.3,365.3 688.0,370.0 C694.7,374.7 696.0,394.7 690.0,400.0 C684.0,405.3 658.7,406.7 652.0,402.0 C645.3,397.3 644.0,377.3 650.0,372.0Z"/><path d="M580.0,400.0 C586.7,393.7 620.8,394.2 630.0,400.0 C639.2,405.8 641.7,428.7 635.0,435.0 C628.3,441.3 599.2,443.8 590.0,438.0 C580.8,432.2 573.3,406.3 580.0,400.0Z"/></g><g fill="rgb(86,86,86)"><path d="M900.0,320.0 C913.3,309.2 970.0,330.8 980.0,345.0 C990.0,359.2 973.3,394.2 960.0,405.0 C946.7,415.8 910.0,424.2 900.0,410.0 C890.0,395.8 886.7,330.8 900.0,320.0Z"/></g><g fill="rgb(126,126,126)"><path d="M130.0,300.0 C136.7,276.7 150.0,268.3 170.0,260.0 C190.0,251.7 223.3,248.3 250.0,250.0 C276.7,251.7 303.3,261.7 330.0,270.0 C356.7,278.3 393.3,285.0 410.0,300.0 C426.7,315.0 431.7,340.0 430.0,360.0 C428.3,380.0 406.7,396.7 400.0,420.0 C393.3,443.3 388.3,476.7 390.0,500.0 C391.7,523.3 411.7,540.0 410.0,560.0 C408.3,580.0 398.3,606.7 380.0,620.0 C361.7,633.3 323.3,640.0 300.0,640.0 C276.7,640.0 260.0,633.3 240.0,620.0 C220.0,606.7 195.0,583.3 180.0,560.0 C165.0,536.7 158.3,506.7 150.0,480.0 C141.7,453.3 133.3,430.0 130.0,400.0 C126.7,370.0 123.3,323.3 130.0,300.0Z"/><path d="M430.0,560.0 C440.0,545.0 461.7,530.0 480.0,520.0 C498.3,510.0 523.3,513.3 540.0,500.0 C556.7,486.7 570.0,443.3 580.0,440.0 C590.0,436.7 590.0,463.3 600.0,480.0 C610.0,496.7 636.7,515.0 640.0,540.0 C643.3,565.0 636.7,608.3 620.0,630.0 C603.3,651.7 566.7,666.7 540.0,670.0 C513.3,673.3 480.0,660.0 460.0,650.0 C440.0,640.0 425.0,625.0 420.0,610.0 C415.0,595.0 420.0,575.0 430.0,560.0Z"/></g><g fill="rgb(149,149,149)"><path d="M160.0,300.0 C170.0,278.3 211.7,288.3 240.0,290.0 C268.3,291.7 306.7,298.3 330.0,310.0 C353.3,321.7 373.3,335.0 380.0,360.0 C386.7,385.0 373.3,426.7 370.0,460.0 C366.7,493.3 368.3,536.7 360.0,560.0 C351.7,583.3 338.3,596.7 320.0,600.0 C301.7,603.3 270.0,596.7 250.0,580.0 C230.0,563.3 211.7,526.7 200.0,500.0 C188.3,473.3 186.7,453.3 180.0,420.0 C173.3,386.7 150.0,321.7 160.0,300.0Z"/><path d="M470.0,560.0 C476.7,545.0 505.0,536.7 520.0,530.0 C535.0,523.3 546.7,515.0 560.0,520.0 C573.3,525.0 595.0,543.3 600.0,560.0 C605.0,576.7 601.7,606.7 590.0,620.0 C578.3,633.3 548.3,640.0 530.0,640.0 C511.7,640.0 490.0,633.3 480.0,620.0 C470.0,606.7 463.3,575.0 470.0,560.0Z"/></g><g fill="rgb(175,175,175)"><path d="M280.0,420.0 C288.3,403.3 318.3,406.7 330.0,420.0 C341.7,433.3 351.7,480.0 350.0,500.0 C348.3,520.0 331.7,536.7 320.0,540.0 C308.3,543.3 286.7,540.0 280.0,520.0 C273.3,500.0 271.7,436.7 280.0,420.0Z"/><path d="M230.0,340.0 C236.7,333.3 263.3,333.3 270.0,340.0 C276.7,346.7 276.7,373.3 270.0,380.0 C263.3,386.7 236.7,386.7 230.0,380.0 C223.3,373.3 223.3,346.7 230.0,340.0Z"/><path d="M500.0,570.0 C503.3,561.7 530.0,555.0 540.0,560.0 C550.0,565.0 563.3,591.7 560.0,600.0 C556.7,608.3 530.0,615.0 520.0,610.0 C510.0,605.0 496.7,578.3 500.0,570.0Z"/></g></g></g><g id="ir4"><g clip-path="url(#irclip)"><g filter="url(#irf4)"><use href="#irfield4"/></g></g></g><filter id="tgf4" x="-12" y="-12" width="224" height="224" filterUnits="userSpaceOnUse" color-interpolation-filters="sRGB"><feTurbulence type="fractalNoise" baseFrequency="0.07" numOctaves="3" seed="57" result="dn"/><feDisplacementMap in="SourceGraphic" in2="dn" scale="7" xChannelSelector="R" yChannelSelector="G" result="d"/><feGaussianBlur in="d" stdDeviation="1.5" result="b"/><feTurbulence type="fractalNoise" baseFrequency="0.3" numOctaves="2" seed="60" result="n"/><feColorMatrix in="n" type="matrix" values="1 0 0 0 0 1 0 0 0 0 1 0 0 0 0 0 0 0 0 1" result="ng"/><feComposite in="b" in2="ng" operator="arithmetic" k1="0" k2="1" k3="0.07" k4="-0.035" result="f"/><feComponentTransfer in="f" result="c"><feFuncR type="table" tableValues="0.110 0.114 0.117 0.121 0.124 0.128 0.131 0.135 0.138 0.142 0.145 0.149 0.152 0.156 0.159 0.163 0.166 0.170 0.181 0.192 0.203 0.213 0.224 0.235 0.244 0.254 0.263 0.272 0.281 0.291 0.300 0.310 0.320 0.330 0.340 0.350 0.360 0.367 0.375 0.383 0.390 0.397 0.405 0.412 0.420 0.426 0.432 0.439 0.445 0.451 0.457 0.464 0.470 0.477 0.483 0.490 0.497 0.503 0.510 0.517 0.523 0.530 0.537 0.543 0.550 0.561 0.572 0.583 0.593 0.604 0.615 0.626 0.637 0.648 0.658 0.669 0.680 0.688 0.697 0.705 0.714 0.722 0.731 0.739 0.748 0.756 0.765 0.773 0.782 0.790 0.793 0.796 0.799 0.801 0.804 0.807 0.810 0.813 0.816 0.819 0.821 0.824 0.827 0.830 0.833 0.836 0.839 0.841 0.844 0.847 0.850 0.853 0.855 0.857 0.860 0.863 0.865 0.867 0.870 0.873 0.875 0.877 0.880 0.883 0.885 0.887 0.890 0.893 0.895 0.897 0.900"/><feFuncG type="table" tableValues="0.110 0.114 0.117 0.121 0.124 0.128 0.131 0.135 0.138 0.142 0.145 0.149 0.152 0.156 0.159 0.163 0.166 0.170 0.181 0.192 0.203 0.213 0.224 0.235 0.244 0.254 0.263 0.272 0.281 0.291 0.300 0.310 0.320 0.330 0.340 0.350 0.360 0.367 0.375 0.383 0.390 0.397 0.405 0.412 0.420 0.426 0.432 0.439 0.445 0.451 0.457 0.464 0.470 0.477 0.483 0.490 0.497 0.503 0.510 0.517 0.523 0.530 0.537 0.543 0.550 0.561 0.572 0.583 0.593 0.604 0.615 0.626 0.637 0.648 0.658 0.669 0.680 0.688 0.697 0.705 0.714 0.722 0.731 0.739 0.748 0.756 0.765 0.773 0.782 0.790 0.793 0.796 0.799 0.801 0.804 0.807 0.810 0.813 0.816 0.819 0.821 0.824 0.827 0.830 0.833 0.836 0.839 0.841 0.844 0.847 0.850 0.853 0.855 0.857 0.860 0.863 0.865 0.867 0.870 0.873 0.875 0.877 0.880 0.883 0.885 0.887 0.890 0.893 0.895 0.897 0.900"/><feFuncB type="table" tableValues="0.110 0.114 0.117 0.121 0.124 0.128 0.131 0.135 0.138 0.142 0.145 0.149 0.152 0.156 0.159 0.163 0.166 0.170 0.181 0.192 0.203 0.213 0.224 0.235 0.244 0.254 0.263 0.272 0.281 0.291 0.300 0.310 0.320 0.330 0.340 0.350 0.360 0.367 0.375 0.383 0.390 0.397 0.405 0.412 0.420 0.426 0.432 0.439 0.445 0.451 0.457 0.464 0.470 0.477 0.483 0.490 0.497 0.503 0.510 0.517 0.523 0.530 0.537 0.543 0.550 0.561 0.572 0.583 0.593 0.604 0.615 0.626 0.637 0.648 0.658 0.669 0.680 0.688 0.697 0.705 0.714 0.722 0.731 0.739 0.748 0.756 0.765 0.773 0.782 0.790 0.793 0.796 0.799 0.801 0.804 0.807 0.810 0.813 0.816 0.819 0.821 0.824 0.827 0.830 0.833 0.836 0.839 0.841 0.844 0.847 0.850 0.853 0.855 0.857 0.860 0.863 0.865 0.867 0.870 0.873 0.875 0.877 0.880 0.883 0.885 0.887 0.890 0.893 0.895 0.897 0.900"/></feComponentTransfer><feComposite in="c" in2="ng" operator="arithmetic" k1="0.12" k2="1" k3="0" k4="-0.06"/></filter><g id="topir4"><g clip-path="url(#topclip)"><g transform="translate(0,-2) scale(0.5)"><g filter="url(#tgf4)"><use href="#irfield4"/></g></g></g></g><radialGradient id="shm0" cx="0.5" cy="0.5" r="0.6"><stop offset="0" stop-color="rgb(153,153,153)"/><stop offset="0.22" stop-color="rgb(107,107,107)"/><stop offset="0.5" stop-color="rgb(34,34,34)"/><stop offset="1" stop-color="rgb(5,5,5)"/></radialGradient><filter id="shf0" x="0" y="0" width="200" height="200" filterUnits="userSpaceOnUse" color-interpolation-filters="sRGB"><feTurbulence type="fractalNoise" baseFrequency="0.1" numOctaves="2" seed="11" result="n"/><feColorMatrix in="n" type="matrix" values="1 0 0 0 0 1 0 0 0 0 1 0 0 0 0 0 0 0 0 1" result="ng"/><feComposite in="SourceGraphic" in2="ng" operator="arithmetic" k1="1.0" k2="-0.5" k3="0" k4="0.5" result="f"/><feColorMatrix in="f" type="matrix" values="1 0 0 0 0 0 1 0 0 0 0 0 1 0 0 0 0 0 0 1" result="fa"/><feComponentTransfer in="fa"><feFuncR type="table" tableValues="0 0 1 1 0.5"/><feFuncG type="table" tableValues="0 0 1 0 0"/><feFuncB type="table" tableValues="0.3 1 1 0 0"/></feComponentTransfer></filter><g id="sh0"><rect width="200" height="200" fill="url(#shm0)" filter="url(#shf0)"/></g><radialGradient id="shm1" cx="0.5" cy="0.5" r="0.6"><stop offset="0" stop-color="rgb(102,102,102)"/><stop offset="0.22" stop-color="rgb(71,71,71)"/><stop offset="0.5" stop-color="rgb(22,22,22)"/><stop offset="1" stop-color="rgb(5,5,5)"/></radialGradient><filter id="shf1" x="0" y="0" width="200" height="200" filterUnits="userSpaceOnUse" color-interpolation-filters="sRGB"><feTurbulence type="fractalNoise" baseFrequency="0.1" numOctaves="2" seed="23" result="n"/><feColorMatrix in="n" type="matrix" values="1 0 0 0 0 1 0 0 0 0 1 0 0 0 0 0 0 0 0 1" result="ng"/><feComposite in="SourceGraphic" in2="ng" operator="arithmetic" k1="1.0" k2="-0.5" k3="0" k4="0.5" result="f"/><feColorMatrix in="f" type="matrix" values="1 0 0 0 0 0 1 0 0 0 0 0 1 0 0 0 0 0 0 1" result="fa"/><feComponentTransfer in="fa"><feFuncR type="table" tableValues="0 0 1 1 0.5"/><feFuncG type="table" tableValues="0 0 1 0 0"/><feFuncB type="table" tableValues="0.3 1 1 0 0"/></feComponentTransfer></filter><g id="sh1"><rect width="200" height="200" fill="url(#shm1)" filter="url(#shf1)"/></g><radialGradient id="shm2" cx="0.5" cy="0.5" r="0.6"><stop offset="0" stop-color="rgb(115,115,115)"/><stop offset="0.22" stop-color="rgb(80,80,80)"/><stop offset="0.5" stop-color="rgb(25,25,25)"/><stop offset="1" stop-color="rgb(5,5,5)"/></radialGradient><filter id="shf2" x="0" y="0" width="200" height="200" filterUnits="userSpaceOnUse" color-interpolation-filters="sRGB"><feTurbulence type="fractalNoise" baseFrequency="0.1" numOctaves="2" seed="37" result="n"/><feColorMatrix in="n" type="matrix" values="1 0 0 0 0 1 0 0 0 0 1 0 0 0 0 0 0 0 0 1" result="ng"/><feComposite in="SourceGraphic" in2="ng" operator="arithmetic" k1="1.0" k2="-0.5" k3="0" k4="0.5" result="f"/><feColorMatrix in="f" type="matrix" values="1 0 0 0 0 0 1 0 0 0 0 0 1 0 0 0 0 0 0 1" result="fa"/><feComponentTransfer in="fa"><feFuncR type="table" tableValues="0 0 1 1 0.5"/><feFuncG type="table" tableValues="0 0 1 0 0"/><feFuncB type="table" tableValues="0.3 1 1 0 0"/></feComponentTransfer></filter><g id="sh2"><rect width="200" height="200" fill="url(#shm2)" filter="url(#shf2)"/></g><radialGradient id="shm3" cx="0.5" cy="0.5" r="0.6"><stop offset="0" stop-color="rgb(128,128,128)"/><stop offset="0.22" stop-color="rgb(89,89,89)"/><stop offset="0.5" stop-color="rgb(28,28,28)"/><stop offset="1" stop-color="rgb(5,5,5)"/></radialGradient><filter id="shf3" x="0" y="0" width="200" height="200" filterUnits="userSpaceOnUse" color-interpolation-filters="sRGB"><feTurbulence type="fractalNoise" baseFrequency="0.1" numOctaves="2" seed="41" result="n"/><feColorMatrix in="n" type="matrix" values="1 0 0 0 0 1 0 0 0 0 1 0 0 0 0 0 0 0 0 1" result="ng"/><feComposite in="SourceGraphic" in2="ng" operator="arithmetic" k1="1.0" k2="-0.5" k3="0" k4="0.5" result="f"/><feColorMatrix in="f" type="matrix" values="1 0 0 0 0 0 1 0 0 0 0 0 1 0 0 0 0 0 0 1" result="fa"/><feComponentTransfer in="fa"><feFuncR type="table" tableValues="0 0 1 1 0.5"/><feFuncG type="table" tableValues="0 0 1 0 0"/><feFuncB type="table" tableValues="0.3 1 1 0 0"/></feComponentTransfer></filter><g id="sh3"><rect width="200" height="200" fill="url(#shm3)" filter="url(#shf3)"/></g><radialGradient id="shm4" cx="0.53" cy="0.6" r="0.6"><stop offset="0" stop-color="rgb(76,76,76)"/><stop offset="0.22" stop-color="rgb(178,178,178)"/><stop offset="0.45" stop-color="rgb(128,128,128)"/><stop offset="0.7" stop-color="rgb(36,36,36)"/><stop offset="1" stop-color="rgb(13,13,13)"/></radialGradient><filter id="shf4" x="0" y="0" width="200" height="200" filterUnits="userSpaceOnUse" color-interpolation-filters="sRGB"><feTurbulence type="fractalNoise" baseFrequency="0.085" numOctaves="2" seed="53" result="n"/><feColorMatrix in="n" type="matrix" values="1 0 0 0 0 1 0 0 0 0 1 0 0 0 0 0 0 0 0 1" result="ng"/><feComposite in="SourceGraphic" in2="ng" operator="arithmetic" k1="1.5" k2="-0.75" k3="0" k4="0.5" result="f"/><feColorMatrix in="f" type="matrix" values="1 0 0 0 0 0 1 0 0 0 0 0 1 0 0 0 0 0 0 1" result="fa"/><feComponentTransfer in="fa"><feFuncR type="table" tableValues="0 0 1 1 0.5"/><feFuncG type="table" tableValues="0 0 1 0 0"/><feFuncB type="table" tableValues="0.3 1 1 0 0"/></feComponentTransfer></filter><g id="sh4"><rect width="200" height="200" fill="url(#shm4)" filter="url(#shf4)"/></g></defs>
<text x="584.00" y="24.80" font-size="22.00" text-anchor="middle" fill="#000" textLength="606.00" lengthAdjust="spacingAndGlyphs">Estimated Max Wind Speed for 08E at 20250808 0710UTC</text>
<text x="131.90" y="103.00" font-size="16.11" text-anchor="middle" fill="#000" textLength="55.25" lengthAdjust="spacingAndGlyphs">IR from</text>
<text x="131.90" y="120.30" font-size="16.11" text-anchor="middle" fill="#000" textLength="77.37" lengthAdjust="spacingAndGlyphs">20250808</text>
<text x="131.90" y="137.60" font-size="16.11" text-anchor="middle" fill="#000" textLength="88.92" lengthAdjust="spacingAndGlyphs">at 0710UTC</text>
<g transform="translate(69.20,147.2) scale(1.2545,1.244)"><use href="#topir0"/></g>
<rect x="69.20" y="147.20" width="125.45" height="124.40" fill="none" stroke="#000" stroke-width="1.3"/>
<text x="274.90" y="103.00" font-size="16.11" text-anchor="middle" fill="#000" textLength="55.25" lengthAdjust="spacingAndGlyphs">IR from</text>
<text x="274.90" y="120.30" font-size="16.11" text-anchor="middle" fill="#000" textLength="77.37" lengthAdjust="spacingAndGlyphs">20250808</text>
<text x="274.90" y="137.60" font-size="16.11" text-anchor="middle" fill="#000" textLength="88.92" lengthAdjust="spacingAndGlyphs">at 0410UTC</text>
<g transform="translate(212.20,147.2) scale(1.2545,1.244)"><use href="#topir1"/></g>
<rect x="212.20" y="147.20" width="125.45" height="124.40" fill="none" stroke="#000" stroke-width="1.3"/>
<text x="417.00" y="103.00" font-size="16.11" text-anchor="middle" fill="#000" textLength="55.25" lengthAdjust="spacingAndGlyphs">IR from</text>
<text x="417.00" y="120.30" font-size="16.11" text-anchor="middle" fill="#000" textLength="77.37" lengthAdjust="spacingAndGlyphs">20250808</text>
<text x="417.00" y="137.60" font-size="16.11" text-anchor="middle" fill="#000" textLength="88.92" lengthAdjust="spacingAndGlyphs">at 0110UTC</text>
<g transform="translate(354.30,147.2) scale(1.2545,1.244)"><use href="#topir2"/></g>
<rect x="354.30" y="147.20" width="125.45" height="124.40" fill="none" stroke="#000" stroke-width="1.3"/>
<text x="559.30" y="103.00" font-size="16.11" text-anchor="middle" fill="#000" textLength="55.25" lengthAdjust="spacingAndGlyphs">IR from</text>
<text x="559.30" y="120.30" font-size="16.11" text-anchor="middle" fill="#000" textLength="77.37" lengthAdjust="spacingAndGlyphs">20250807</text>
<text x="559.30" y="137.60" font-size="16.11" text-anchor="middle" fill="#000" textLength="88.92" lengthAdjust="spacingAndGlyphs">at 2210UTC</text>
<g transform="translate(496.60,147.2) scale(1.2545,1.244)"><use href="#topir3"/></g>
<rect x="496.60" y="147.20" width="125.45" height="124.40" fill="none" stroke="#000" stroke-width="1.3"/>
<text x="702.10" y="103.00" font-size="16.11" text-anchor="middle" fill="#000" textLength="55.25" lengthAdjust="spacingAndGlyphs">IR from</text>
<text x="702.10" y="120.30" font-size="16.11" text-anchor="middle" fill="#000" textLength="77.37" lengthAdjust="spacingAndGlyphs">20250807</text>
<text x="702.10" y="137.60" font-size="16.11" text-anchor="middle" fill="#000" textLength="88.92" lengthAdjust="spacingAndGlyphs">at 1910UTC</text>
<g transform="translate(639.40,147.2) scale(1.2545,1.244)"><use href="#topir4"/></g>
<rect x="639.40" y="147.20" width="125.45" height="124.40" fill="none" stroke="#000" stroke-width="1.3"/>
<text x="934.30" y="49.40" font-size="16.11" text-anchor="middle" fill="#000" textLength="170.80" lengthAdjust="spacingAndGlyphs">Estimated MSW, knots</text>
<path d="M802.2,359.4 L802.2,356.7 L816.2,356.7 L816.2,331.8 L817.2,331.8 L817.2,282.7 L818.3,282.7 L818.3,231.0 L820.1,231.0 L820.1,116.0 L821.6,116.0 L821.6,125.4 L822.0,125.4 L822.0,73.0 L823.1,73.0 L823.1,115.3 L824.1,115.3 L824.1,150.0 L825.9,150.0 L825.9,190.0 L826.9,190.0 L826.9,228.0 L829.9,228.0 L829.9,289.0 L833.8,289.0 L833.8,330.1 L838.8,330.1 L838.8,342.0 L843.8,342.0 L843.8,350.1 L847.0,350.1 L847.0,359.4 Z" fill="#8b008b"/>
<line x1="825.00" y1="59.30" x2="825.00" y2="359.40" stroke="#000" stroke-width="2.6"/>
<line x1="837.2" y1="359.4" x2="837.2" y2="59.3" stroke="#aaaaaa" stroke-width="5.6" stroke-dasharray="5.2 9.53"/>
<rect x="784.40" y="59.30" width="300.10" height="300.10" fill="none" stroke="#000" stroke-width="1.3"/>
<line x1="819.31" y1="359.40" x2="819.31" y2="364.40" stroke="#000" stroke-width="1.1"/>
<text x="819.31" y="381.00" font-size="13.99" text-anchor="middle" fill="#000" textLength="16.80" lengthAdjust="spacingAndGlyphs">25</text>
<line x1="863.32" y1="359.40" x2="863.32" y2="364.40" stroke="#000" stroke-width="1.1"/>
<text x="863.32" y="381.00" font-size="13.99" text-anchor="middle" fill="#000" textLength="16.80" lengthAdjust="spacingAndGlyphs">50</text>
<line x1="907.34" y1="359.40" x2="907.34" y2="364.40" stroke="#000" stroke-width="1.1"/>
<text x="907.34" y="381.00" font-size="13.99" text-anchor="middle" fill="#000" textLength="16.80" lengthAdjust="spacingAndGlyphs">75</text>
<line x1="951.35" y1="359.40" x2="951.35" y2="364.40" stroke="#000" stroke-width="1.1"/>
<text x="951.35" y="381.00" font-size="13.99" text-anchor="middle" fill="#000" textLength="25.20" lengthAdjust="spacingAndGlyphs">100</text>
<line x1="995.36" y1="359.40" x2="995.36" y2="364.40" stroke="#000" stroke-width="1.1"/>
<text x="995.36" y="381.00" font-size="13.99" text-anchor="middle" fill="#000" textLength="25.20" lengthAdjust="spacingAndGlyphs">125</text>
<line x1="1039.38" y1="359.40" x2="1039.38" y2="364.40" stroke="#000" stroke-width="1.1"/>
<text x="1039.38" y="381.00" font-size="13.99" text-anchor="middle" fill="#000" textLength="25.20" lengthAdjust="spacingAndGlyphs">150</text>
<line x1="784.40" y1="359.40" x2="789.40" y2="359.40" stroke="#000" stroke-width="1.1"/>
<line x1="1079.50" y1="359.40" x2="1084.50" y2="359.40" stroke="#000" stroke-width="1.1"/>
<text x="1089.50" y="366.40" font-size="13.99" text-anchor="start" fill="#000" textLength="20.99" lengthAdjust="spacingAndGlyphs">0.0</text>
<line x1="784.40" y1="302.20" x2="789.40" y2="302.20" stroke="#000" stroke-width="1.1"/>
<line x1="1079.50" y1="302.20" x2="1084.50" y2="302.20" stroke="#000" stroke-width="1.1"/>
<text x="1089.50" y="309.20" font-size="13.99" text-anchor="start" fill="#000" textLength="20.99" lengthAdjust="spacingAndGlyphs">0.2</text>
<line x1="784.40" y1="245.00" x2="789.40" y2="245.00" stroke="#000" stroke-width="1.1"/>
<line x1="1079.50" y1="245.00" x2="1084.50" y2="245.00" stroke="#000" stroke-width="1.1"/>
<text x="1089.50" y="252.00" font-size="13.99" text-anchor="start" fill="#000" textLength="20.99" lengthAdjust="spacingAndGlyphs">0.4</text>
<line x1="784.40" y1="187.80" x2="789.40" y2="187.80" stroke="#000" stroke-width="1.1"/>
<line x1="1079.50" y1="187.80" x2="1084.50" y2="187.80" stroke="#000" stroke-width="1.1"/>
<text x="1089.50" y="194.80" font-size="13.99" text-anchor="start" fill="#000" textLength="20.99" lengthAdjust="spacingAndGlyphs">0.6</text>
<line x1="784.40" y1="130.60" x2="789.40" y2="130.60" stroke="#000" stroke-width="1.1"/>
<line x1="1079.50" y1="130.60" x2="1084.50" y2="130.60" stroke="#000" stroke-width="1.1"/>
<text x="1089.50" y="137.60" font-size="13.99" text-anchor="start" fill="#000" textLength="20.99" lengthAdjust="spacingAndGlyphs">0.8</text>
<line x1="784.40" y1="73.40" x2="789.40" y2="73.40" stroke="#000" stroke-width="1.1"/>
<line x1="1079.50" y1="73.40" x2="1084.50" y2="73.40" stroke="#000" stroke-width="1.1"/>
<text x="1089.50" y="80.40" font-size="13.99" text-anchor="start" fill="#000" textLength="20.99" lengthAdjust="spacingAndGlyphs">1.0</text>
<text x="1128.30" y="211.00" font-size="14.52" text-anchor="middle" fill="#000" textLength="90.00" lengthAdjust="spacingAndGlyphs" transform="rotate(-90 1128.30 211.00)">Relative Prob</text>
<line x1="764.80" y1="396.00" x2="796.90" y2="396.00" stroke="#000" stroke-width="2.2"/>
<text x="809.20" y="401.50" font-size="16.11" text-anchor="start" fill="#000" textLength="128.80" lengthAdjust="spacingAndGlyphs">D-PRINT average</text>
<line x1="968" y1="396" x2="1000" y2="396" stroke="#aaaaaa" stroke-width="5.6" stroke-dasharray="5.6 8.9"/>
<text x="1012.00" y="401.50" font-size="16.11" text-anchor="start" fill="#000" textLength="89.40" lengthAdjust="spacingAndGlyphs">NHC official</text>
<text x="584.00" y="441.80" font-size="20.53" text-anchor="middle" fill="#000" textLength="665.00" lengthAdjust="spacingAndGlyphs">D-PRINT SHAP Values for 2025_08E: updated at 20250808 0710 UTC</text>
<rect x="82.50" y="699.90" width="1006.10" height="6.80" fill="#e3e3e3" stroke="none" stroke-width="1"/>
<clipPath id="c2"><rect x="82.5" y="453.3" width="1006.0999999999999" height="349.99999999999994"/></clipPath>
<g clip-path="url(#c2)">
<polyline points="124.3,706.5 132.3,706.4 140.4,706.2 148.4,706.2 156.4,706.1 164.5,705.8 172.5,705.6 180.6,705.5 188.6,705.3 196.6,705.4 204.7,705.1 212.7,705.1 220.7,705.0 228.8,704.9 236.8,704.7 244.8,704.4 252.9,704.3 260.9,704.2 268.9,704.0 277.0,704.1 285.0,703.9 293.1,703.7 301.1,703.6 309.1,703.5 317.2,703.4 325.2,703.5 333.2,703.3 341.3,703.1 349.3,703.1 357.3,703.1 365.4,702.9 373.4,702.9 381.4,702.6 389.5,702.5 397.5,702.5 405.6,702.5 413.6,702.3 421.6,702.4 429.7,702.3 437.7,702.3 445.7,702.3 453.8,702.4 461.8,702.3 469.8,702.3 477.9,702.4 485.9,702.3 493.9,702.2 502.0,702.4 510.0,702.4 518.1,702.2 526.1,702.2 534.1,702.2 542.2,702.2 550.2,702.2 558.2,702.0 566.3,702.2 574.3,702.1 582.3,702.1 590.4,702.0 598.4,702.1 606.4,702.1 614.5,701.9 622.5,702.0 630.6,701.9 638.6,701.8 646.6,702.0 654.7,702.0 662.7,702.0 670.7,701.8 678.8,701.8 686.8,701.9 694.8,701.9 702.9,701.9 710.9,701.8 719.0,701.9 727.0,701.7 735.0,701.6 743.1,701.6 751.1,701.6 759.1,701.6 767.2,701.8 775.2,701.8 783.2,701.6 791.3,701.6 799.3,701.7 807.3,701.6 815.4,701.7 823.4,701.6 831.5,701.8 839.5,701.8 847.5,701.7 855.6,701.8 863.6,701.7 871.6,701.6 879.7,701.8 887.7,701.8 895.7,701.8 903.8,701.8 911.8,701.6 919.8,701.7 927.9,701.8 935.9,701.8 944.0,701.6 952.0,701.7 960.0,701.8 968.1,701.8 976.1,701.8 984.1,701.8 992.2,701.6 1000.2,701.8 1008.2,701.8 1016.3,701.7 1024.3,701.8 1032.3,701.6 1040.4,701.8 1048.4,701.7 1056.5,701.6 1064.5,701.7 1072.5,701.6 1080.6,701.7 1088.6,701.8" fill="none" stroke="#42d4f4" stroke-width="2.6" stroke-linejoin="round" stroke-linecap="butt"/>
<polyline points="124.3,713.0 132.3,712.8 140.4,712.8 148.4,712.6 156.4,712.4 164.5,712.5 172.5,712.4 180.6,712.0 188.6,712.1 196.6,712.0 204.7,711.6 212.7,711.7 220.7,711.5 228.8,711.4 236.8,711.3 244.8,711.3 252.9,711.0 260.9,710.9 268.9,710.8 277.0,710.7 285.0,710.6 293.1,710.6 301.1,710.3 309.1,710.2 317.2,710.2 325.2,710.2 333.2,709.8 341.3,709.8 349.3,709.6 357.3,709.5 365.4,709.4 373.4,709.2 381.4,709.3 389.5,709.0 397.5,709.0 405.6,708.7 413.6,708.6 421.6,708.7 429.7,708.6 437.7,708.4 445.7,708.1 453.8,708.1 461.8,707.9 469.8,707.9 477.9,707.7 485.9,707.6 493.9,707.5 502.0,707.3 510.0,707.2 518.1,707.0 526.1,706.9 534.1,706.7 542.2,706.6 550.2,706.4 558.2,706.4 566.3,706.4 574.3,706.1 582.3,705.9 590.4,705.8 598.4,705.8 606.4,705.6 614.5,705.7 622.5,705.4 630.6,705.3 638.6,705.3 646.6,705.2 654.7,704.8 662.7,704.7 670.7,704.8 678.8,704.5 686.8,704.5 694.8,704.4 702.9,704.3 710.9,704.0 719.0,703.8 727.0,703.9 735.0,703.7 743.1,703.7 751.1,703.4 759.1,703.5 767.2,703.3 775.2,703.2 783.2,703.4 791.3,703.2 799.3,703.4 807.3,703.4 815.4,703.2 823.4,703.4 831.5,703.3 839.5,703.2 847.5,703.1 855.6,703.2 863.6,703.3 871.6,703.0 879.7,703.1 887.7,702.9 895.7,702.9 903.8,703.0 911.8,703.0 919.8,702.9 927.9,702.9 935.9,702.9 944.0,702.9 952.0,702.8 960.0,702.7 968.1,702.8 976.1,702.8 984.1,702.7 992.2,702.8 1000.2,702.8 1008.2,702.5 1016.3,702.7 1024.3,702.6 1032.3,702.8 1040.4,702.6 1048.4,702.5 1056.5,702.7 1064.5,702.5 1072.5,702.5 1080.6,702.6 1088.6,702.4" fill="none" stroke="#f032e6" stroke-width="2.6" stroke-linejoin="round" stroke-linecap="butt"/>
<polyline points="124.3,703.4 132.3,703.5 140.4,703.5 148.4,703.6 156.4,703.7 164.5,703.7 172.5,704.1 180.6,704.0 188.6,704.0 196.6,704.1 204.7,704.1 212.7,704.4 220.7,704.4 228.8,704.6 236.8,704.6 244.8,704.6 252.9,704.9 260.9,704.9 268.9,705.0 277.0,704.8 285.0,705.0 293.1,705.2 301.1,705.1 309.1,705.4 317.2,705.3 325.2,705.6 333.2,705.7 341.3,705.5 349.3,705.8 357.3,705.9 365.4,705.7 373.4,705.8 381.4,706.1 389.5,706.0 397.5,706.2 405.6,706.1 413.6,706.3 421.6,706.0 429.7,706.1 437.7,706.0 445.7,706.0 453.8,706.1 461.8,706.1 469.8,706.2 477.9,706.1 485.9,706.1 493.9,706.1 502.0,706.0 510.0,706.1 518.1,705.9 526.1,706.0 534.1,706.0 542.2,705.8 550.2,705.9 558.2,705.9 566.3,705.8 574.3,705.8 582.3,705.9 590.4,705.6 598.4,705.9 606.4,705.7 614.5,705.6 622.5,705.9 630.6,705.6 638.6,705.7 646.6,705.6 654.7,705.8 662.7,705.8 670.7,705.7 678.8,705.5 686.8,705.7 694.8,705.5 702.9,705.4 710.9,705.4 719.0,705.6 727.0,705.5 735.0,705.5 743.1,705.4 751.1,705.6 759.1,705.3 767.2,705.2 775.2,705.2 783.2,705.4 791.3,705.0 799.3,705.2 807.3,705.1 815.4,705.0 823.4,704.8 831.5,705.0 839.5,704.7 847.5,704.8 855.6,704.8 863.6,704.7 871.6,704.7 879.7,704.7 887.7,704.6 895.7,704.4 903.8,704.3 911.8,704.5 919.8,704.5 927.9,704.2 935.9,704.3 944.0,704.3 952.0,704.3 960.0,704.1 968.1,704.0 976.1,704.1 984.1,704.1 992.2,704.2 1000.2,703.9 1008.2,704.1 1016.3,703.9 1024.3,703.8 1032.3,703.9 1040.4,703.7 1048.4,703.6 1056.5,703.7 1064.5,703.6 1072.5,703.8 1080.6,703.6 1088.6,703.7" fill="none" stroke="#f58231" stroke-width="2.6" stroke-linejoin="round" stroke-linecap="butt"/>
<polyline points="124.3,694.6 132.3,694.6 140.4,694.9 148.4,694.9 156.4,694.7 164.5,694.7 172.5,694.8 180.6,694.9 188.6,694.8 196.6,694.9 204.7,694.9 212.7,695.0 220.7,695.0 228.8,695.0 236.8,694.9 244.8,694.9 252.9,694.9 260.9,695.1 268.9,695.1 277.0,695.2 285.0,695.3 293.1,695.3 301.1,695.2 309.1,695.3 317.2,695.3 325.2,695.1 333.2,695.3 341.3,695.3 349.3,695.4 357.3,695.5 365.4,695.4 373.4,695.5 381.4,695.4 389.5,695.3 397.5,695.4 405.6,695.6 413.6,695.4 421.6,695.5 429.7,695.5 437.7,695.5 445.7,695.6 453.8,695.6 461.8,695.8 469.8,695.6 477.9,695.6 485.9,695.9 493.9,695.8 502.0,695.8 510.0,695.9 518.1,695.9 526.1,696.0 534.1,695.9 542.2,696.1 550.2,696.0 558.2,696.2 566.3,696.0 574.3,696.1 582.3,696.2 590.4,696.2 598.4,696.2 606.4,696.3 614.5,696.4 622.5,696.5 630.6,696.5 638.6,696.4 646.6,696.6 654.7,696.4 662.7,696.6 670.7,696.5 678.8,696.7 686.8,696.5 694.8,696.7 702.9,696.7 710.9,696.8 719.0,696.8 727.0,696.8 735.0,696.9 743.1,697.0 751.1,697.0 759.1,696.9 767.2,697.0 775.2,697.2 783.2,697.1 791.3,697.2 799.3,697.2 807.3,697.4 815.4,697.3 823.4,697.6 831.5,697.4 839.5,697.6 847.5,697.7 855.6,697.5 863.6,697.8 871.6,697.8 879.7,697.7 887.7,697.9 895.7,698.0 903.8,697.9 911.8,698.0 919.8,698.0 927.9,698.3 935.9,698.2 944.0,698.3 952.0,698.2 960.0,698.5 968.1,698.3 976.1,698.6 984.1,698.4 992.2,698.7 1000.2,698.7 1008.2,698.6 1016.3,698.8 1024.3,698.9 1032.3,698.8 1040.4,698.9 1048.4,699.1 1056.5,698.8 1064.5,699.1 1072.5,699.2 1080.6,699.2 1088.6,699.2" fill="none" stroke="#3cb44b" stroke-width="2.8" stroke-linejoin="round" stroke-linecap="butt"/>
<polyline points="124.5,767.9 135.3,775.5 145.5,772.6 156.3,764.4 166.5,760.3 177.5,773.2 183.4,772.6 192.0,773.7 209.5,772.6 212.5,774.9 213.9,772.6 219.2,773.7 224.1,766.8 229.1,769.7 239.5,769.1 244.5,763.3 249.4,776.1 259.9,760.9 264.9,767.3 270.7,752.2 282.3,747.5 285.2,741.1 296.0,748.7 301.3,748.1 307.1,753.9 315.8,754.5 321.0,766.2 331.0,764.4 336.8,758.0 346.4,751.3 356.6,763.0 363.8,757.1 368.2,752.2 372.6,749.9 378.4,760.1 383.3,763.8 397.9,738.2 407.5,746.4 414.8,756.3 417.3,760.9 424.6,750.5 433.9,743.5 443.5,762.1 453.7,754.2 458.9,763.8 469.7,758.6 474.6,759.2 479.9,757.4 485.1,758.6 490.1,756.3 495.0,745.5 500.2,750.5 505.5,742.6 514.8,748.1 526.4,748.1 528.8,758.0 530.8,749.9 535.2,751.0 541.0,755.1 548.3,748.7 554.1,749.3 561.4,759.2 567.2,749.3 580.3,759.2 587.0,754.5 596.3,759.2 602.1,759.8 608.0,762.7 617.3,758.0 622.5,765.6 628.3,761.5 637.1,762.1 641.4,766.8 643.5,760.9 648.7,766.2 657.5,762.1 663.9,756.3 669.1,756.9 673.5,759.2 678.4,755.1 683.7,760.9 688.9,761.5 702.6,772.0 704.6,767.3 709.9,769.1 718.6,769.1 730.2,763.8 735.5,757.1 741.9,767.9 746.2,767.3 753.9,758.6 760.0,760.8 770.2,754.0 774.5,757.7 785.6,757.1 796.1,766.9 801.7,763.8 807.2,771.9 821.7,774.3 827.9,771.2 832.5,772.5 837.1,778.6 842.3,777.1 847.9,779.3 854.1,777.4 857.1,773.7 862.7,774.9 867.0,771.9 872.6,779.3 886.4,779.9 888.6,778.0 893.5,779.9 898.8,775.6 903.4,776.8 908.9,773.1 917.2,773.7 924.3,782.3 932.7,781.7 949.6,783.6 954.2,787.9 963.5,782.3 969.7,781.1 974.9,778.0 985.1,779.9 990.3,783.6 995.9,779.3 1001.4,779.3 1006.6,786.0 1017.4,787.9 1021.1,786.7 1026.7,788.5 1035.9,787.9 1041.5,784.2 1046.7,789.1 1052.0,785.4 1057.5,789.1 1068.3,781.1 1071.4,781.1 1074.5,784.8 1079.1,786.0 1085.3,786.7 1088.3,788.5" fill="none" stroke="#e0194b" stroke-width="2.7" stroke-linejoin="round" stroke-linecap="butt"/>
<polyline points="93.7,777.8 156.3,777.8 217.4,752.8 278.8,740.6 891.7,740.6 952.7,765.4 1088.6,765.4" fill="none" stroke="#000" stroke-width="3.4" stroke-linejoin="round" stroke-linecap="butt"/>
</g>
<rect x="82.50" y="453.30" width="1006.10" height="350.00" fill="none" stroke="#000" stroke-width="1.3"/>
<line x1="77.50" y1="803.20" x2="82.50" y2="803.20" stroke="#000" stroke-width="1.1"/>
<text x="72.00" y="810.30" font-size="16.11" text-anchor="end" fill="#000" textLength="24.83" lengthAdjust="spacingAndGlyphs">-40</text>
<line x1="77.50" y1="778.20" x2="82.50" y2="778.20" stroke="#000" stroke-width="1.1"/>
<line x1="77.50" y1="753.20" x2="82.50" y2="753.20" stroke="#000" stroke-width="1.1"/>
<text x="72.00" y="760.30" font-size="16.11" text-anchor="end" fill="#000" textLength="24.83" lengthAdjust="spacingAndGlyphs">-20</text>
<line x1="77.50" y1="728.20" x2="82.50" y2="728.20" stroke="#000" stroke-width="1.1"/>
<line x1="77.50" y1="703.20" x2="82.50" y2="703.20" stroke="#000" stroke-width="1.1"/>
<text x="72.00" y="710.30" font-size="16.11" text-anchor="end" fill="#000" textLength="9.67" lengthAdjust="spacingAndGlyphs">0</text>
<line x1="77.50" y1="678.20" x2="82.50" y2="678.20" stroke="#000" stroke-width="1.1"/>
<line x1="77.50" y1="653.20" x2="82.50" y2="653.20" stroke="#000" stroke-width="1.1"/>
<text x="72.00" y="660.30" font-size="16.11" text-anchor="end" fill="#000" textLength="19.34" lengthAdjust="spacingAndGlyphs">20</text>
<line x1="77.50" y1="628.20" x2="82.50" y2="628.20" stroke="#000" stroke-width="1.1"/>
<line x1="77.50" y1="603.20" x2="82.50" y2="603.20" stroke="#000" stroke-width="1.1"/>
<text x="72.00" y="610.30" font-size="16.11" text-anchor="end" fill="#000" textLength="19.34" lengthAdjust="spacingAndGlyphs">40</text>
<line x1="77.50" y1="578.20" x2="82.50" y2="578.20" stroke="#000" stroke-width="1.1"/>
<line x1="77.50" y1="553.20" x2="82.50" y2="553.20" stroke="#000" stroke-width="1.1"/>
<text x="72.00" y="560.30" font-size="16.11" text-anchor="end" fill="#000" textLength="19.34" lengthAdjust="spacingAndGlyphs">60</text>
<line x1="77.50" y1="528.20" x2="82.50" y2="528.20" stroke="#000" stroke-width="1.1"/>
<line x1="77.50" y1="503.20" x2="82.50" y2="503.20" stroke="#000" stroke-width="1.1"/>
<text x="72.00" y="510.30" font-size="16.11" text-anchor="end" fill="#000" textLength="19.34" lengthAdjust="spacingAndGlyphs">80</text>
<line x1="77.50" y1="478.20" x2="82.50" y2="478.20" stroke="#000" stroke-width="1.1"/>
<line x1="77.50" y1="453.20" x2="82.50" y2="453.20" stroke="#000" stroke-width="1.1"/>
<text x="72.00" y="460.30" font-size="16.11" text-anchor="end" fill="#000" textLength="29.01" lengthAdjust="spacingAndGlyphs">100</text>
<line x1="1088.60" y1="803.20" x2="1093.60" y2="803.20" stroke="#000" stroke-width="1.1"/>
<text x="1098.50" y="810.30" font-size="16.11" text-anchor="start" fill="#000" textLength="19.34" lengthAdjust="spacingAndGlyphs">20</text>
<line x1="1088.60" y1="778.20" x2="1093.60" y2="778.20" stroke="#000" stroke-width="1.1"/>
<line x1="1088.60" y1="753.20" x2="1093.60" y2="753.20" stroke="#000" stroke-width="1.1"/>
<text x="1098.50" y="760.30" font-size="16.11" text-anchor="start" fill="#000" textLength="19.34" lengthAdjust="spacingAndGlyphs">40</text>
<line x1="1088.60" y1="728.20" x2="1093.60" y2="728.20" stroke="#000" stroke-width="1.1"/>
<line x1="1088.60" y1="703.20" x2="1093.60" y2="703.20" stroke="#000" stroke-width="1.1"/>
<text x="1098.50" y="710.30" font-size="16.11" text-anchor="start" fill="#000" textLength="19.34" lengthAdjust="spacingAndGlyphs">60</text>
<line x1="1088.60" y1="678.20" x2="1093.60" y2="678.20" stroke="#000" stroke-width="1.1"/>
<line x1="1088.60" y1="653.20" x2="1093.60" y2="653.20" stroke="#000" stroke-width="1.1"/>
<text x="1098.50" y="660.30" font-size="16.11" text-anchor="start" fill="#000" textLength="19.34" lengthAdjust="spacingAndGlyphs">80</text>
<line x1="1088.60" y1="628.20" x2="1093.60" y2="628.20" stroke="#000" stroke-width="1.1"/>
<line x1="1088.60" y1="603.20" x2="1093.60" y2="603.20" stroke="#000" stroke-width="1.1"/>
<text x="1098.50" y="610.30" font-size="16.11" text-anchor="start" fill="#000" textLength="29.01" lengthAdjust="spacingAndGlyphs">100</text>
<line x1="1088.60" y1="578.20" x2="1093.60" y2="578.20" stroke="#000" stroke-width="1.1"/>
<line x1="1088.60" y1="553.20" x2="1093.60" y2="553.20" stroke="#000" stroke-width="1.1"/>
<text x="1098.50" y="560.30" font-size="16.11" text-anchor="start" fill="#000" textLength="29.01" lengthAdjust="spacingAndGlyphs">120</text>
<line x1="1088.60" y1="528.20" x2="1093.60" y2="528.20" stroke="#000" stroke-width="1.1"/>
<line x1="1088.60" y1="503.20" x2="1093.60" y2="503.20" stroke="#000" stroke-width="1.1"/>
<text x="1098.50" y="510.30" font-size="16.11" text-anchor="start" fill="#000" textLength="29.01" lengthAdjust="spacingAndGlyphs">140</text>
<line x1="1088.60" y1="478.20" x2="1093.60" y2="478.20" stroke="#000" stroke-width="1.1"/>
<line x1="1088.60" y1="453.20" x2="1093.60" y2="453.20" stroke="#000" stroke-width="1.1"/>
<text x="1098.50" y="460.30" font-size="16.11" text-anchor="start" fill="#000" textLength="29.01" lengthAdjust="spacingAndGlyphs">160</text>
<line x1="95.40" y1="803.30" x2="95.40" y2="806.80" stroke="#000" stroke-width="1.1"/>
<line x1="156.60" y1="803.30" x2="156.60" y2="806.80" stroke="#000" stroke-width="1.1"/>
<line x1="217.80" y1="803.30" x2="217.80" y2="806.80" stroke="#000" stroke-width="1.1"/>
<line x1="279.00" y1="803.30" x2="279.00" y2="810.30" stroke="#000" stroke-width="1.1"/>
<line x1="340.20" y1="803.30" x2="340.20" y2="806.80" stroke="#000" stroke-width="1.1"/>
<line x1="401.40" y1="803.30" x2="401.40" y2="806.80" stroke="#000" stroke-width="1.1"/>
<line x1="462.60" y1="803.30" x2="462.60" y2="806.80" stroke="#000" stroke-width="1.1"/>
<line x1="523.80" y1="803.30" x2="523.80" y2="810.30" stroke="#000" stroke-width="1.1"/>
<line x1="585.00" y1="803.30" x2="585.00" y2="806.80" stroke="#000" stroke-width="1.1"/>
<line x1="646.20" y1="803.30" x2="646.20" y2="806.80" stroke="#000" stroke-width="1.1"/>
<line x1="707.40" y1="803.30" x2="707.40" y2="806.80" stroke="#000" stroke-width="1.1"/>
<line x1="768.60" y1="803.30" x2="768.60" y2="810.30" stroke="#000" stroke-width="1.1"/>
<line x1="829.80" y1="803.30" x2="829.80" y2="806.80" stroke="#000" stroke-width="1.1"/>
<line x1="891.00" y1="803.30" x2="891.00" y2="806.80" stroke="#000" stroke-width="1.1"/>
<line x1="952.20" y1="803.30" x2="952.20" y2="806.80" stroke="#000" stroke-width="1.1"/>
<line x1="1013.40" y1="803.30" x2="1013.40" y2="810.30" stroke="#000" stroke-width="1.1"/>
<line x1="1074.60" y1="803.30" x2="1074.60" y2="806.80" stroke="#000" stroke-width="1.1"/>
<text x="279.00" y="826.50" font-size="16.11" text-anchor="middle" fill="#000" textLength="43.81" lengthAdjust="spacingAndGlyphs">08/05</text>
<text x="523.80" y="826.50" font-size="16.11" text-anchor="middle" fill="#000" textLength="43.81" lengthAdjust="spacingAndGlyphs">08/06</text>
<text x="768.60" y="826.50" font-size="16.11" text-anchor="middle" fill="#000" textLength="43.81" lengthAdjust="spacingAndGlyphs">08/07</text>
<text x="1013.40" y="826.50" font-size="16.11" text-anchor="middle" fill="#000" textLength="43.81" lengthAdjust="spacingAndGlyphs">08/08</text>
<text x="584.40" y="846.50" font-size="16.11" text-anchor="middle" fill="#000" textLength="38.68" lengthAdjust="spacingAndGlyphs">2025</text>
<text x="33.00" y="628.70" font-size="16.96" text-anchor="middle" fill="#000" textLength="132.50" lengthAdjust="spacingAndGlyphs" transform="rotate(-90 33.00 628.70)">SHAP Value [kts]</text>
<text x="1145.30" y="628.70" font-size="16.96" text-anchor="middle" fill="#000" textLength="287.50" lengthAdjust="spacingAndGlyphs" transform="rotate(-90 1145.30 628.70)">Working Best Track TC Intensity [kt]</text>
<text x="210.70" y="865.50" font-size="16.11" text-anchor="start" fill="#000" textLength="100.03" lengthAdjust="spacingAndGlyphs">SHAP values:</text>
<line x1="341.30" y1="859.50" x2="374.70" y2="859.50" stroke="#e0194b" stroke-width="2.8"/>
<text x="386.50" y="865.50" font-size="16.11" text-anchor="start" fill="#000" textLength="15.04" lengthAdjust="spacingAndGlyphs">IR</text>
<line x1="430.30" y1="859.50" x2="463.70" y2="859.50" stroke="#42d4f4" stroke-width="2.8"/>
<text x="475.50" y="865.50" font-size="16.11" text-anchor="start" fill="#000" textLength="54.08" lengthAdjust="spacingAndGlyphs">History</text>
<line x1="557.90" y1="859.50" x2="591.30" y2="859.50" stroke="#3cb44b" stroke-width="2.8"/>
<text x="603.10" y="865.50" font-size="16.11" text-anchor="start" fill="#000" textLength="59.18" lengthAdjust="spacingAndGlyphs">Position</text>
<line x1="690.70" y1="859.50" x2="724.10" y2="859.50" stroke="#f032e6" stroke-width="2.8"/>
<text x="735.90" y="865.50" font-size="16.11" text-anchor="start" fill="#000" textLength="97.06" lengthAdjust="spacingAndGlyphs">Environment</text>
<line x1="862.00" y1="859.50" x2="895.40" y2="859.50" stroke="#f58231" stroke-width="2.8"/>
<text x="907.20" y="865.50" font-size="16.11" text-anchor="start" fill="#000" textLength="93.10" lengthAdjust="spacingAndGlyphs">GFS Thermo</text>
<line x1="516.00" y1="882.20" x2="549.30" y2="882.20" stroke="#000" stroke-width="2.8"/>
<text x="559.60" y="888.20" font-size="16.11" text-anchor="start" fill="#000" textLength="90.00" lengthAdjust="spacingAndGlyphs">TC Intensity</text>
<text x="333.80" y="919.50" font-size="13.94" text-anchor="middle" fill="#111" textLength="323.79" lengthAdjust="spacingAndGlyphs">Shap values for 2025_08E at 20250808 0710UTC</text>
<rect x="67.60" y="1101.35" width="400.40" height="103.77" fill="#f3f3f3" stroke="none" stroke-width="1"/>
<rect x="67.60" y="1378.07" width="400.40" height="276.72" fill="#f3f3f3" stroke="none" stroke-width="1"/>
<line x1="67.60" y1="962.99" x2="468.00" y2="962.99" stroke="#e6e6e6" stroke-width="1"/>
<line x1="67.60" y1="997.58" x2="468.00" y2="997.58" stroke="#e6e6e6" stroke-width="1"/>
<line x1="67.60" y1="1032.17" x2="468.00" y2="1032.17" stroke="#e6e6e6" stroke-width="1"/>
<line x1="67.60" y1="1066.76" x2="468.00" y2="1066.76" stroke="#e6e6e6" stroke-width="1"/>
<line x1="67.60" y1="1135.94" x2="468.00" y2="1135.94" stroke="#e6e6e6" stroke-width="1"/>
<line x1="67.60" y1="1170.53" x2="468.00" y2="1170.53" stroke="#e6e6e6" stroke-width="1"/>
<line x1="67.60" y1="1239.71" x2="468.00" y2="1239.71" stroke="#e6e6e6" stroke-width="1"/>
<line x1="67.60" y1="1274.30" x2="468.00" y2="1274.30" stroke="#e6e6e6" stroke-width="1"/>
<line x1="67.60" y1="1308.89" x2="468.00" y2="1308.89" stroke="#e6e6e6" stroke-width="1"/>
<line x1="67.60" y1="1343.48" x2="468.00" y2="1343.48" stroke="#e6e6e6" stroke-width="1"/>
<line x1="67.60" y1="1412.66" x2="468.00" y2="1412.66" stroke="#e6e6e6" stroke-width="1"/>
<line x1="67.60" y1="1447.25" x2="468.00" y2="1447.25" stroke="#e6e6e6" stroke-width="1"/>
<line x1="67.60" y1="1481.84" x2="468.00" y2="1481.84" stroke="#e6e6e6" stroke-width="1"/>
<line x1="67.60" y1="1516.43" x2="468.00" y2="1516.43" stroke="#e6e6e6" stroke-width="1"/>
<line x1="67.60" y1="1551.02" x2="468.00" y2="1551.02" stroke="#e6e6e6" stroke-width="1"/>
<line x1="67.60" y1="1585.61" x2="468.00" y2="1585.61" stroke="#e6e6e6" stroke-width="1"/>
<line x1="67.60" y1="1620.20" x2="468.00" y2="1620.20" stroke="#e6e6e6" stroke-width="1"/>
<line x1="67.60" y1="1689.38" x2="468.00" y2="1689.38" stroke="#e6e6e6" stroke-width="1"/>
<line x1="67.60" y1="1723.97" x2="468.00" y2="1723.97" stroke="#e6e6e6" stroke-width="1"/>
<line x1="67.60" y1="1758.56" x2="468.00" y2="1758.56" stroke="#e6e6e6" stroke-width="1"/>
<line x1="67.60" y1="1793.15" x2="468.00" y2="1793.15" stroke="#e6e6e6" stroke-width="1"/>
<line x1="67.60" y1="1827.74" x2="468.00" y2="1827.74" stroke="#e6e6e6" stroke-width="1"/>
<line x1="67.60" y1="1862.33" x2="468.00" y2="1862.33" stroke="#e6e6e6" stroke-width="1"/>
<line x1="67.60" y1="1896.92" x2="468.00" y2="1896.92" stroke="#e6e6e6" stroke-width="1"/>
<line x1="67.60" y1="1931.51" x2="468.00" y2="1931.51" stroke="#e6e6e6" stroke-width="1"/>
<line x1="67.60" y1="1966.10" x2="468.00" y2="1966.10" stroke="#e6e6e6" stroke-width="1"/>
<line x1="67.60" y1="2000.69" x2="468.00" y2="2000.69" stroke="#e6e6e6" stroke-width="1"/>
<line x1="67.60" y1="945.69" x2="468.00" y2="945.69" stroke="#eeeeee" stroke-width="0.8" stroke-dasharray="1 2"/>
<line x1="67.60" y1="980.28" x2="468.00" y2="980.28" stroke="#eeeeee" stroke-width="0.8" stroke-dasharray="1 2"/>
<line x1="67.60" y1="1014.88" x2="468.00" y2="1014.88" stroke="#eeeeee" stroke-width="0.8" stroke-dasharray="1 2"/>
<line x1="67.60" y1="1049.46" x2="468.00" y2="1049.46" stroke="#eeeeee" stroke-width="0.8" stroke-dasharray="1 2"/>
<line x1="67.60" y1="1084.06" x2="468.00" y2="1084.06" stroke="#eeeeee" stroke-width="0.8" stroke-dasharray="1 2"/>
<line x1="67.60" y1="1118.64" x2="468.00" y2="1118.64" stroke="#eeeeee" stroke-width="0.8" stroke-dasharray="1 2"/>
<line x1="67.60" y1="1153.24" x2="468.00" y2="1153.24" stroke="#eeeeee" stroke-width="0.8" stroke-dasharray="1 2"/>
<line x1="67.60" y1="1187.83" x2="468.00" y2="1187.83" stroke="#eeeeee" stroke-width="0.8" stroke-dasharray="1 2"/>
<line x1="67.60" y1="1222.41" x2="468.00" y2="1222.41" stroke="#eeeeee" stroke-width="0.8" stroke-dasharray="1 2"/>
<line x1="67.60" y1="1257.01" x2="468.00" y2="1257.01" stroke="#eeeeee" stroke-width="0.8" stroke-dasharray="1 2"/>
<line x1="67.60" y1="1291.60" x2="468.00" y2="1291.60" stroke="#eeeeee" stroke-width="0.8" stroke-dasharray="1 2"/>
<line x1="67.60" y1="1326.18" x2="468.00" y2="1326.18" stroke="#eeeeee" stroke-width="0.8" stroke-dasharray="1 2"/>
<line x1="67.60" y1="1360.78" x2="468.00" y2="1360.78" stroke="#eeeeee" stroke-width="0.8" stroke-dasharray="1 2"/>
<line x1="67.60" y1="1395.37" x2="468.00" y2="1395.37" stroke="#eeeeee" stroke-width="0.8" stroke-dasharray="1 2"/>
<line x1="67.60" y1="1429.95" x2="468.00" y2="1429.95" stroke="#eeeeee" stroke-width="0.8" stroke-dasharray="1 2"/>
<line x1="67.60" y1="1464.55" x2="468.00" y2="1464.55" stroke="#eeeeee" stroke-width="0.8" stroke-dasharray="1 2"/>
<line x1="67.60" y1="1499.13" x2="468.00" y2="1499.13" stroke="#eeeeee" stroke-width="0.8" stroke-dasharray="1 2"/>
<line x1="67.60" y1="1533.72" x2="468.00" y2="1533.72" stroke="#eeeeee" stroke-width="0.8" stroke-dasharray="1 2"/>
<line x1="67.60" y1="1568.32" x2="468.00" y2="1568.32" stroke="#eeeeee" stroke-width="0.8" stroke-dasharray="1 2"/>
<line x1="67.60" y1="1602.91" x2="468.00" y2="1602.91" stroke="#eeeeee" stroke-width="0.8" stroke-dasharray="1 2"/>
<line x1="67.60" y1="1637.49" x2="468.00" y2="1637.49" stroke="#eeeeee" stroke-width="0.8" stroke-dasharray="1 2"/>
<line x1="67.60" y1="1672.09" x2="468.00" y2="1672.09" stroke="#eeeeee" stroke-width="0.8" stroke-dasharray="1 2"/>
<line x1="67.60" y1="1706.68" x2="468.00" y2="1706.68" stroke="#eeeeee" stroke-width="0.8" stroke-dasharray="1 2"/>
<line x1="67.60" y1="1741.27" x2="468.00" y2="1741.27" stroke="#eeeeee" stroke-width="0.8" stroke-dasharray="1 2"/>
<line x1="67.60" y1="1775.86" x2="468.00" y2="1775.86" stroke="#eeeeee" stroke-width="0.8" stroke-dasharray="1 2"/>
<line x1="67.60" y1="1810.45" x2="468.00" y2="1810.45" stroke="#eeeeee" stroke-width="0.8" stroke-dasharray="1 2"/>
<line x1="67.60" y1="1845.04" x2="468.00" y2="1845.04" stroke="#eeeeee" stroke-width="0.8" stroke-dasharray="1 2"/>
<line x1="67.60" y1="1879.62" x2="468.00" y2="1879.62" stroke="#eeeeee" stroke-width="0.8" stroke-dasharray="1 2"/>
<line x1="67.60" y1="1914.22" x2="468.00" y2="1914.22" stroke="#eeeeee" stroke-width="0.8" stroke-dasharray="1 2"/>
<line x1="67.60" y1="1948.81" x2="468.00" y2="1948.81" stroke="#eeeeee" stroke-width="0.8" stroke-dasharray="1 2"/>
<line x1="67.60" y1="1983.39" x2="468.00" y2="1983.39" stroke="#eeeeee" stroke-width="0.8" stroke-dasharray="1 2"/>
<line x1="67.60" y1="2017.99" x2="468.00" y2="2017.99" stroke="#eeeeee" stroke-width="0.8" stroke-dasharray="1 2"/>
<line x1="413.00" y1="928.40" x2="413.00" y2="2035.28" stroke="#a0a0a0" stroke-width="1.3"/>
<line x1="67.60" y1="1101.35" x2="468.00" y2="1101.35" stroke="#222" stroke-width="1.6"/>
<line x1="67.60" y1="1205.12" x2="468.00" y2="1205.12" stroke="#222" stroke-width="1.6"/>
<line x1="67.60" y1="1378.07" x2="468.00" y2="1378.07" stroke="#222" stroke-width="1.6"/>
<line x1="67.60" y1="1654.79" x2="468.00" y2="1654.79" stroke="#222" stroke-width="1.6"/>
<text x="464.70" y="945.70" font-size="9.54" text-anchor="end" fill="#222" textLength="108.05" lengthAdjust="spacingAndGlyphs">Satellite SHAP=-34.0kts</text>
<text x="464.70" y="1118.65" font-size="9.54" text-anchor="end" fill="#222" textLength="94.23" lengthAdjust="spacingAndGlyphs">History SHAP=0.7kts</text>
<text x="464.70" y="1222.42" font-size="9.54" text-anchor="end" fill="#222" textLength="100.28" lengthAdjust="spacingAndGlyphs">Location SHAP=1.8kts</text>
<text x="464.70" y="1395.37" font-size="9.54" text-anchor="end" fill="#222" textLength="130.94" lengthAdjust="spacingAndGlyphs">Environmental SHAP=-0.5kts</text>
<text x="464.70" y="1672.09" font-size="9.54" text-anchor="end" fill="#222" textLength="123.96" lengthAdjust="spacingAndGlyphs">TC Dynamics SHAP=-0.2kts</text>
<circle cx="225.3" cy="945.7" r="3.6" fill="#1e7ff0"/>
<line x1="64.60" y1="945.69" x2="67.60" y2="945.69" stroke="#333" stroke-width="1"/>
<line x1="468.00" y1="945.69" x2="471.00" y2="945.69" stroke="#333" stroke-width="1"/>
<text x="62.50" y="948.69" font-size="8.59" text-anchor="end" fill="#333" textLength="38.75" lengthAdjust="spacingAndGlyphs">0h_old_IR</text>
<text x="472.90" y="944.09" font-size="8.71" text-anchor="start" fill="#222" textLength="57.46" lengthAdjust="spacingAndGlyphs">0h old IR data</text>
<text x="472.90" y="953.29" font-size="8.71" text-anchor="start" fill="#222" textLength="89.23" lengthAdjust="spacingAndGlyphs">(128x128 grid points)</text>
<circle cx="427.9" cy="980.3" r="3.6" fill="#6f52d6"/>
<line x1="64.60" y1="980.28" x2="67.60" y2="980.28" stroke="#333" stroke-width="1"/>
<line x1="468.00" y1="980.28" x2="471.00" y2="980.28" stroke="#333" stroke-width="1"/>
<text x="62.50" y="983.28" font-size="8.59" text-anchor="end" fill="#333" textLength="38.75" lengthAdjust="spacingAndGlyphs">3h_old_IR</text>
<text x="472.90" y="978.68" font-size="8.71" text-anchor="start" fill="#222" textLength="57.46" lengthAdjust="spacingAndGlyphs">3h old IR data</text>
<text x="472.90" y="987.88" font-size="8.71" text-anchor="start" fill="#222" textLength="89.23" lengthAdjust="spacingAndGlyphs">(128x128 grid points)</text>
<circle cx="333.6" cy="1014.9" r="3.6" fill="#1a78ea"/>
<line x1="64.60" y1="1014.88" x2="67.60" y2="1014.88" stroke="#333" stroke-width="1"/>
<line x1="468.00" y1="1014.88" x2="471.00" y2="1014.88" stroke="#333" stroke-width="1"/>
<text x="62.50" y="1017.88" font-size="8.59" text-anchor="end" fill="#333" textLength="38.75" lengthAdjust="spacingAndGlyphs">6h_old_IR</text>
<text x="472.90" y="1013.27" font-size="8.71" text-anchor="start" fill="#222" textLength="57.46" lengthAdjust="spacingAndGlyphs">6h old IR data</text>
<text x="472.90" y="1022.48" font-size="8.71" text-anchor="start" fill="#222" textLength="89.23" lengthAdjust="spacingAndGlyphs">(128x128 grid points)</text>
<circle cx="381.9" cy="1049.5" r="3.6" fill="#c8008e"/>
<line x1="64.60" y1="1049.46" x2="67.60" y2="1049.46" stroke="#333" stroke-width="1"/>
<line x1="468.00" y1="1049.46" x2="471.00" y2="1049.46" stroke="#333" stroke-width="1"/>
<text x="62.50" y="1052.46" font-size="8.59" text-anchor="end" fill="#333" textLength="38.75" lengthAdjust="spacingAndGlyphs">9h_old_IR</text>
<text x="472.90" y="1047.87" font-size="8.71" text-anchor="start" fill="#222" textLength="57.46" lengthAdjust="spacingAndGlyphs">9h old IR data</text>
<text x="472.90" y="1057.06" font-size="8.71" text-anchor="start" fill="#222" textLength="89.23" lengthAdjust="spacingAndGlyphs">(128x128 grid points)</text>
<circle cx="85.6" cy="1084.1" r="3.6" fill="#1088f8"/>
<line x1="64.60" y1="1084.06" x2="67.60" y2="1084.06" stroke="#333" stroke-width="1"/>
<line x1="468.00" y1="1084.06" x2="471.00" y2="1084.06" stroke="#333" stroke-width="1"/>
<text x="62.50" y="1087.06" font-size="8.59" text-anchor="end" fill="#333" textLength="43.91" lengthAdjust="spacingAndGlyphs">12h_old_IR</text>
<text x="472.90" y="1082.46" font-size="8.71" text-anchor="start" fill="#222" textLength="62.69" lengthAdjust="spacingAndGlyphs">12h old IR data</text>
<text x="472.90" y="1091.65" font-size="8.71" text-anchor="start" fill="#222" textLength="89.23" lengthAdjust="spacingAndGlyphs">(128x128 grid points)</text>
<circle cx="410.5" cy="1118.6" r="3.6" fill="#1088f8"/>
<line x1="64.60" y1="1118.64" x2="67.60" y2="1118.64" stroke="#333" stroke-width="1"/>
<line x1="468.00" y1="1118.64" x2="471.00" y2="1118.64" stroke="#333" stroke-width="1"/>
<text x="62.50" y="1121.64" font-size="8.59" text-anchor="end" fill="#333" textLength="20.52" lengthAdjust="spacingAndGlyphs">DELV</text>
<text x="472.90" y="1121.64" font-size="8.71" text-anchor="start" fill="#222" textLength="113.81" lengthAdjust="spacingAndGlyphs">-12h to 0h Intensity change</text>
<circle cx="428.5" cy="1153.2" r="3.6" fill="#e0007e"/>
<line x1="64.60" y1="1153.24" x2="67.60" y2="1153.24" stroke="#333" stroke-width="1"/>
<line x1="468.00" y1="1153.24" x2="471.00" y2="1153.24" stroke="#333" stroke-width="1"/>
<text x="62.50" y="1156.24" font-size="8.59" text-anchor="end" fill="#333" textLength="18.57" lengthAdjust="spacingAndGlyphs">HIST</text>
<text x="472.90" y="1151.64" font-size="8.71" text-anchor="start" fill="#222" textLength="108.04" lengthAdjust="spacingAndGlyphs">The # of 6h periods VMAX</text>
<text x="472.90" y="1160.84" font-size="8.71" text-anchor="start" fill="#222" textLength="86.56" lengthAdjust="spacingAndGlyphs">has been above 20kt</text>
<circle cx="412.8" cy="1187.8" r="3.6" fill="#1088f8"/>
<line x1="64.60" y1="1187.83" x2="67.60" y2="1187.83" stroke="#333" stroke-width="1"/>
<line x1="468.00" y1="1187.83" x2="471.00" y2="1187.83" stroke="#333" stroke-width="1"/>
<text x="62.50" y="1190.83" font-size="8.59" text-anchor="end" fill="#333" textLength="16.26" lengthAdjust="spacingAndGlyphs">SPD</text>
<text x="472.90" y="1190.83" font-size="8.71" text-anchor="start" fill="#222" textLength="86.06" lengthAdjust="spacingAndGlyphs">TC Translation Speed</text>
<circle cx="417.4" cy="1222.4" r="3.6" fill="#1080f0"/>
<line x1="64.60" y1="1222.41" x2="67.60" y2="1222.41" stroke="#333" stroke-width="1"/>
<line x1="468.00" y1="1222.41" x2="471.00" y2="1222.41" stroke="#333" stroke-width="1"/>
<text x="62.50" y="1225.41" font-size="8.59" text-anchor="end" fill="#333" textLength="26.04" lengthAdjust="spacingAndGlyphs">sin_lat</text>
<text x="472.90" y="1225.41" font-size="8.71" text-anchor="start" fill="#222" textLength="64.75" lengthAdjust="spacingAndGlyphs">Sine of Latitude</text>
<circle cx="407.0" cy="1257.0" r="3.6" fill="#1078ea"/>
<line x1="64.60" y1="1257.01" x2="67.60" y2="1257.01" stroke="#333" stroke-width="1"/>
<line x1="468.00" y1="1257.01" x2="471.00" y2="1257.01" stroke="#333" stroke-width="1"/>
<text x="62.50" y="1260.01" font-size="8.59" text-anchor="end" fill="#333" textLength="30.02" lengthAdjust="spacingAndGlyphs">cos_lon</text>
<text x="472.90" y="1260.01" font-size="8.71" text-anchor="start" fill="#222" textLength="81.63" lengthAdjust="spacingAndGlyphs">Cosine of Longitude</text>
<circle cx="450.0" cy="1291.6" r="3.6" fill="#c0009a"/>
<line x1="64.60" y1="1291.60" x2="67.60" y2="1291.60" stroke="#333" stroke-width="1"/>
<line x1="468.00" y1="1291.60" x2="471.00" y2="1291.60" stroke="#333" stroke-width="1"/>
<text x="62.50" y="1294.60" font-size="8.59" text-anchor="end" fill="#333" textLength="27.99" lengthAdjust="spacingAndGlyphs">sin_lon</text>
<text x="472.90" y="1294.60" font-size="8.71" text-anchor="start" fill="#222" textLength="71.80" lengthAdjust="spacingAndGlyphs">Sine of Longitude</text>
<circle cx="408.7" cy="1326.2" r="3.6" fill="#c0009c"/>
<line x1="64.60" y1="1326.18" x2="67.60" y2="1326.18" stroke="#333" stroke-width="1"/>
<line x1="468.00" y1="1326.18" x2="471.00" y2="1326.18" stroke="#333" stroke-width="1"/>
<text x="62.50" y="1329.18" font-size="8.59" text-anchor="end" fill="#333" textLength="15.70" lengthAdjust="spacingAndGlyphs">DTL</text>
<text x="472.90" y="1329.18" font-size="8.71" text-anchor="start" fill="#222" textLength="69.47" lengthAdjust="spacingAndGlyphs">Distance to Land</text>
<circle cx="413.4" cy="1360.8" r="3.6" fill="#7a4ad0"/>
<line x1="64.60" y1="1360.78" x2="67.60" y2="1360.78" stroke="#333" stroke-width="1"/>
<line x1="468.00" y1="1360.78" x2="471.00" y2="1360.78" stroke="#333" stroke-width="1"/>
<text x="62.50" y="1363.78" font-size="8.59" text-anchor="end" fill="#333" textLength="56.88" lengthAdjust="spacingAndGlyphs">sin_local_time</text>
<text x="472.90" y="1359.18" font-size="8.71" text-anchor="start" fill="#222" textLength="80.41" lengthAdjust="spacingAndGlyphs">Sine of Time of Day</text>
<text x="472.90" y="1368.38" font-size="8.71" text-anchor="start" fill="#222" textLength="74.01" lengthAdjust="spacingAndGlyphs">(Local Solar Time)</text>
<circle cx="410.5" cy="1395.4" r="3.6" fill="#1088f8"/>
<line x1="64.60" y1="1395.37" x2="67.60" y2="1395.37" stroke="#333" stroke-width="1"/>
<line x1="468.00" y1="1395.37" x2="471.00" y2="1395.37" stroke="#333" stroke-width="1"/>
<text x="62.50" y="1398.37" font-size="8.59" text-anchor="end" fill="#333" textLength="23.10" lengthAdjust="spacingAndGlyphs">SHRD</text>
<text x="472.90" y="1398.37" font-size="8.71" text-anchor="start" fill="#222" textLength="133.52" lengthAdjust="spacingAndGlyphs">850-200hPa shear (200-800 km)</text>
<circle cx="410.5" cy="1430.0" r="3.6" fill="#e00080"/>
<line x1="64.60" y1="1429.95" x2="67.60" y2="1429.95" stroke="#333" stroke-width="1"/>
<line x1="468.00" y1="1429.95" x2="471.00" y2="1429.95" stroke="#333" stroke-width="1"/>
<text x="62.50" y="1432.95" font-size="8.59" text-anchor="end" fill="#333" textLength="23.13" lengthAdjust="spacingAndGlyphs">SHDC</text>
<text x="472.90" y="1428.36" font-size="8.71" text-anchor="start" fill="#222" textLength="94.81" lengthAdjust="spacingAndGlyphs">850-200hPa shear with</text>
<text x="472.90" y="1437.55" font-size="8.71" text-anchor="start" fill="#222" textLength="113.61" lengthAdjust="spacingAndGlyphs">vortex removed (0-500 km)</text>
<circle cx="413.4" cy="1464.5" r="3.6" fill="#1088f8"/>
<line x1="64.60" y1="1464.55" x2="67.60" y2="1464.55" stroke="#333" stroke-width="1"/>
<line x1="468.00" y1="1464.55" x2="471.00" y2="1464.55" stroke="#333" stroke-width="1"/>
<text x="62.50" y="1467.55" font-size="8.59" text-anchor="end" fill="#333" textLength="22.00" lengthAdjust="spacingAndGlyphs">SHRS</text>
<text x="472.90" y="1467.55" font-size="8.71" text-anchor="start" fill="#222" textLength="133.52" lengthAdjust="spacingAndGlyphs">850-500hPa shear (200-800 km)</text>
<circle cx="412.8" cy="1499.1" r="3.6" fill="#8040c8"/>
<line x1="64.60" y1="1499.13" x2="67.60" y2="1499.13" stroke="#333" stroke-width="1"/>
<line x1="468.00" y1="1499.13" x2="471.00" y2="1499.13" stroke="#333" stroke-width="1"/>
<text x="62.50" y="1502.13" font-size="8.59" text-anchor="end" fill="#333" textLength="14.26" lengthAdjust="spacingAndGlyphs">MPI</text>
<text x="472.90" y="1502.13" font-size="8.71" text-anchor="start" fill="#222" textLength="117.93" lengthAdjust="spacingAndGlyphs">Maximum potential intensity</text>
<circle cx="384.3" cy="1533.7" r="3.6" fill="#b000a8"/>
<line x1="64.60" y1="1533.72" x2="67.60" y2="1533.72" stroke="#333" stroke-width="1"/>
<line x1="468.00" y1="1533.72" x2="471.00" y2="1533.72" stroke="#333" stroke-width="1"/>
<text x="62.50" y="1536.72" font-size="8.59" text-anchor="end" fill="#333" textLength="20.86" lengthAdjust="spacingAndGlyphs">RSST</text>
<text x="472.90" y="1536.72" font-size="8.71" text-anchor="start" fill="#222" textLength="55.36" lengthAdjust="spacingAndGlyphs">Reynolds SST</text>
<circle cx="446.0" cy="1568.3" r="3.6" fill="#1088f8"/>
<line x1="64.60" y1="1568.32" x2="67.60" y2="1568.32" stroke="#333" stroke-width="1"/>
<line x1="468.00" y1="1568.32" x2="471.00" y2="1568.32" stroke="#333" stroke-width="1"/>
<text x="62.50" y="1571.32" font-size="8.59" text-anchor="end" fill="#333" textLength="23.78" lengthAdjust="spacingAndGlyphs">COHC</text>
<text x="472.90" y="1571.32" font-size="8.71" text-anchor="start" fill="#222" textLength="144.58" lengthAdjust="spacingAndGlyphs">Climatological Ocean Heat Content</text>
<circle cx="400.6" cy="1602.9" r="3.6" fill="#9040c0"/>
<line x1="64.60" y1="1602.91" x2="67.60" y2="1602.91" stroke="#333" stroke-width="1"/>
<line x1="468.00" y1="1602.91" x2="471.00" y2="1602.91" stroke="#333" stroke-width="1"/>
<text x="62.50" y="1605.91" font-size="8.59" text-anchor="end" fill="#333" textLength="22.20" lengthAdjust="spacingAndGlyphs">CD26</text>
<text x="472.90" y="1601.31" font-size="8.71" text-anchor="start" fill="#222" textLength="95.33" lengthAdjust="spacingAndGlyphs">Climatological depth of</text>
<text x="472.90" y="1610.51" font-size="8.71" text-anchor="start" fill="#222" textLength="61.86" lengthAdjust="spacingAndGlyphs">26° C isotherm</text>
<circle cx="416.9" cy="1637.5" r="3.6" fill="#1088f8"/>
<line x1="64.60" y1="1637.49" x2="67.60" y2="1637.49" stroke="#333" stroke-width="1"/>
<line x1="468.00" y1="1637.49" x2="471.00" y2="1637.49" stroke="#333" stroke-width="1"/>
<text x="62.50" y="1640.49" font-size="8.59" text-anchor="end" fill="#333" textLength="22.20" lengthAdjust="spacingAndGlyphs">CD20</text>
<text x="472.90" y="1635.89" font-size="8.71" text-anchor="start" fill="#222" textLength="95.33" lengthAdjust="spacingAndGlyphs">Climatological depth of</text>
<text x="472.90" y="1645.09" font-size="8.71" text-anchor="start" fill="#222" textLength="61.86" lengthAdjust="spacingAndGlyphs">20° C isotherm</text>
<circle cx="404.6" cy="1672.1" r="3.6" fill="#e0106a"/>
<line x1="64.60" y1="1672.09" x2="67.60" y2="1672.09" stroke="#333" stroke-width="1"/>
<line x1="468.00" y1="1672.09" x2="471.00" y2="1672.09" stroke="#333" stroke-width="1"/>
<text x="62.50" y="1675.09" font-size="8.59" text-anchor="end" fill="#333" textLength="19.82" lengthAdjust="spacingAndGlyphs">DIVC</text>
<text x="472.90" y="1670.49" font-size="8.71" text-anchor="start" fill="#222" textLength="128.89" lengthAdjust="spacingAndGlyphs">200hPa divergence centered at</text>
<text x="472.90" y="1679.68" font-size="8.71" text-anchor="start" fill="#222" textLength="94.64" lengthAdjust="spacingAndGlyphs">850hPa vortex location</text>
<circle cx="413.4" cy="1706.7" r="3.6" fill="#1080f0"/>
<line x1="64.60" y1="1706.68" x2="67.60" y2="1706.68" stroke="#333" stroke-width="1"/>
<line x1="468.00" y1="1706.68" x2="471.00" y2="1706.68" stroke="#333" stroke-width="1"/>
<text x="62.50" y="1709.68" font-size="8.59" text-anchor="end" fill="#333" textLength="21.00" lengthAdjust="spacingAndGlyphs">V300</text>
<text x="472.90" y="1705.08" font-size="8.71" text-anchor="start" fill="#222" textLength="147.34" lengthAdjust="spacingAndGlyphs">300hPa tangential wind azimuthally</text>
<text x="472.90" y="1714.28" font-size="8.71" text-anchor="start" fill="#222" textLength="83.43" lengthAdjust="spacingAndGlyphs">averaged at 500 km</text>
<circle cx="413.4" cy="1741.3" r="3.6" fill="#1080f0"/>
<line x1="64.60" y1="1741.27" x2="67.60" y2="1741.27" stroke="#333" stroke-width="1"/>
<line x1="468.00" y1="1741.27" x2="471.00" y2="1741.27" stroke="#333" stroke-width="1"/>
<text x="62.50" y="1744.27" font-size="8.59" text-anchor="end" fill="#333" textLength="21.00" lengthAdjust="spacingAndGlyphs">V500</text>
<text x="472.90" y="1739.67" font-size="8.71" text-anchor="start" fill="#222" textLength="147.34" lengthAdjust="spacingAndGlyphs">500hPa tangential wind azimuthally</text>
<text x="472.90" y="1748.87" font-size="8.71" text-anchor="start" fill="#222" textLength="83.43" lengthAdjust="spacingAndGlyphs">averaged at 500 km</text>
<circle cx="407.0" cy="1775.9" r="3.6" fill="#e81060"/>
<line x1="64.60" y1="1775.86" x2="67.60" y2="1775.86" stroke="#333" stroke-width="1"/>
<line x1="468.00" y1="1775.86" x2="471.00" y2="1775.86" stroke="#333" stroke-width="1"/>
<text x="62.50" y="1778.86" font-size="8.59" text-anchor="end" fill="#333" textLength="21.00" lengthAdjust="spacingAndGlyphs">V850</text>
<text x="472.90" y="1774.26" font-size="8.71" text-anchor="start" fill="#222" textLength="147.34" lengthAdjust="spacingAndGlyphs">850hPa tangential wind azimuthally</text>
<text x="472.90" y="1783.45" font-size="8.71" text-anchor="start" fill="#222" textLength="83.43" lengthAdjust="spacingAndGlyphs">averaged at 500 km</text>
<circle cx="406.4" cy="1810.4" r="3.6" fill="#4a5ad8"/>
<line x1="64.60" y1="1810.45" x2="67.60" y2="1810.45" stroke="#333" stroke-width="1"/>
<line x1="468.00" y1="1810.45" x2="471.00" y2="1810.45" stroke="#333" stroke-width="1"/>
<text x="62.50" y="1813.45" font-size="8.59" text-anchor="end" fill="#333" textLength="21.01" lengthAdjust="spacingAndGlyphs">Z850</text>
<text x="472.90" y="1813.45" font-size="8.71" text-anchor="start" fill="#222" textLength="120.33" lengthAdjust="spacingAndGlyphs">850hPa vorticity (0-1000 km)</text>
<circle cx="411.6" cy="1845.0" r="3.6" fill="#1088f8"/>
<line x1="64.60" y1="1845.04" x2="67.60" y2="1845.04" stroke="#333" stroke-width="1"/>
<line x1="468.00" y1="1845.04" x2="471.00" y2="1845.04" stroke="#333" stroke-width="1"/>
<text x="62.50" y="1848.04" font-size="8.59" text-anchor="end" fill="#333" textLength="21.39" lengthAdjust="spacingAndGlyphs">U200</text>
<text x="472.90" y="1848.04" font-size="8.71" text-anchor="start" fill="#222" textLength="135.81" lengthAdjust="spacingAndGlyphs">200hPa zonal wind (200-800 km)</text>
<circle cx="415.1" cy="1879.6" r="3.6" fill="#1088f8"/>
<line x1="64.60" y1="1879.62" x2="67.60" y2="1879.62" stroke="#333" stroke-width="1"/>
<line x1="468.00" y1="1879.62" x2="471.00" y2="1879.62" stroke="#333" stroke-width="1"/>
<text x="62.50" y="1882.62" font-size="8.59" text-anchor="end" fill="#333" textLength="21.89" lengthAdjust="spacingAndGlyphs">U20C</text>
<text x="472.90" y="1882.62" font-size="8.71" text-anchor="start" fill="#222" textLength="125.36" lengthAdjust="spacingAndGlyphs">200hPa zonal wind (0-500 km)</text>
<circle cx="414.0" cy="1914.2" r="3.6" fill="#1088f8"/>
<line x1="64.60" y1="1914.22" x2="67.60" y2="1914.22" stroke="#333" stroke-width="1"/>
<line x1="468.00" y1="1914.22" x2="471.00" y2="1914.22" stroke="#333" stroke-width="1"/>
<text x="62.50" y="1917.22" font-size="8.59" text-anchor="end" fill="#333" textLength="21.50" lengthAdjust="spacingAndGlyphs">V20C</text>
<text x="472.90" y="1917.22" font-size="8.71" text-anchor="start" fill="#222" textLength="147.27" lengthAdjust="spacingAndGlyphs">200hPa meridional wind (0-500 km)</text>
<circle cx="434.9" cy="1948.8" r="3.6" fill="#1088f8"/>
<line x1="64.60" y1="1948.81" x2="67.60" y2="1948.81" stroke="#333" stroke-width="1"/>
<line x1="468.00" y1="1948.81" x2="471.00" y2="1948.81" stroke="#333" stroke-width="1"/>
<text x="62.50" y="1951.81" font-size="8.59" text-anchor="end" fill="#333" textLength="24.94" lengthAdjust="spacingAndGlyphs">RHMD</text>
<text x="472.90" y="1947.21" font-size="8.71" text-anchor="start" fill="#222" textLength="121.71" lengthAdjust="spacingAndGlyphs">700-500hPa relative humidity</text>
<text x="472.90" y="1956.40" font-size="8.71" text-anchor="start" fill="#222" textLength="56.14" lengthAdjust="spacingAndGlyphs">(200-800 km)</text>
<circle cx="417.4" cy="1983.4" r="3.6" fill="#1088f8"/>
<line x1="64.60" y1="1983.39" x2="67.60" y2="1983.39" stroke="#333" stroke-width="1"/>
<line x1="468.00" y1="1983.39" x2="471.00" y2="1983.39" stroke="#333" stroke-width="1"/>
<text x="62.50" y="1986.39" font-size="8.59" text-anchor="end" fill="#333" textLength="20.29" lengthAdjust="spacingAndGlyphs">EPSS</text>
<text x="472.90" y="1982.60" font-size="8.59" text-anchor="start" fill="#222" textLength="172.80" lengthAdjust="spacingAndGlyphs">Avg. Δ <tspan font-style="italic">θ</tspan><tspan font-style="italic" font-size="6.18" dy="1.8">e</tspan><tspan dy="-1.8"> </tspan> (only +) btwn parcel lifted from</text>
<text x="472.90" y="1993.60" font-size="8.59" text-anchor="start" fill="#222" textLength="167.60" lengthAdjust="spacingAndGlyphs">sfc. and saturated env. <tspan font-style="italic">θ</tspan><tspan font-style="italic" font-size="6.18" dy="1.8">e</tspan><tspan dy="-1.8"> </tspan> (200-800 km)</text>
<circle cx="399.4" cy="2018.0" r="3.6" fill="#1088f8"/>
<line x1="64.60" y1="2017.99" x2="67.60" y2="2017.99" stroke="#333" stroke-width="1"/>
<line x1="468.00" y1="2017.99" x2="471.00" y2="2017.99" stroke="#333" stroke-width="1"/>
<text x="62.50" y="2020.99" font-size="8.59" text-anchor="end" fill="#333" textLength="21.46" lengthAdjust="spacingAndGlyphs">ENSS</text>
<text x="472.90" y="2017.19" font-size="8.59" text-anchor="start" fill="#222" textLength="172.80" lengthAdjust="spacingAndGlyphs">Avg. Δ <tspan font-style="italic">θ</tspan><tspan font-style="italic" font-size="6.18" dy="1.8">e</tspan><tspan dy="-1.8"> </tspan> (only -) btwn parcel lifted from</text>
<text x="472.90" y="2028.19" font-size="8.59" text-anchor="start" fill="#222" textLength="167.60" lengthAdjust="spacingAndGlyphs">sfc. and saturated env. <tspan font-style="italic">θ</tspan><tspan font-style="italic" font-size="6.18" dy="1.8">e</tspan><tspan dy="-1.8"> </tspan> (200-800 km)</text>
<rect x="67.60" y="928.40" width="400.40" height="1106.88" fill="none" stroke="#555" stroke-width="1.2"/>
<line x1="99.70" y1="2035.28" x2="99.70" y2="2038.28" stroke="#333" stroke-width="1"/>
<text x="99.70" y="2046.40" font-size="8.59" text-anchor="middle" fill="#333" textLength="24.82" lengthAdjust="spacingAndGlyphs">−17.5</text>
<line x1="144.40" y1="2035.28" x2="144.40" y2="2038.28" stroke="#333" stroke-width="1"/>
<text x="144.40" y="2046.40" font-size="8.59" text-anchor="middle" fill="#333" textLength="24.82" lengthAdjust="spacingAndGlyphs">−15.0</text>
<line x1="189.10" y1="2035.28" x2="189.10" y2="2038.28" stroke="#333" stroke-width="1"/>
<text x="189.10" y="2046.40" font-size="8.59" text-anchor="middle" fill="#333" textLength="24.82" lengthAdjust="spacingAndGlyphs">−12.5</text>
<line x1="233.80" y1="2035.28" x2="233.80" y2="2038.28" stroke="#333" stroke-width="1"/>
<text x="233.80" y="2046.40" font-size="8.59" text-anchor="middle" fill="#333" textLength="24.82" lengthAdjust="spacingAndGlyphs">−10.0</text>
<line x1="278.50" y1="2035.28" x2="278.50" y2="2038.28" stroke="#333" stroke-width="1"/>
<text x="278.50" y="2046.40" font-size="8.59" text-anchor="middle" fill="#333" textLength="19.67" lengthAdjust="spacingAndGlyphs">−7.5</text>
<line x1="323.20" y1="2035.28" x2="323.20" y2="2038.28" stroke="#333" stroke-width="1"/>
<text x="323.20" y="2046.40" font-size="8.59" text-anchor="middle" fill="#333" textLength="19.67" lengthAdjust="spacingAndGlyphs">−5.0</text>
<line x1="367.90" y1="2035.28" x2="367.90" y2="2038.28" stroke="#333" stroke-width="1"/>
<text x="367.90" y="2046.40" font-size="8.59" text-anchor="middle" fill="#333" textLength="19.67" lengthAdjust="spacingAndGlyphs">−2.5</text>
<line x1="412.60" y1="2035.28" x2="412.60" y2="2038.28" stroke="#333" stroke-width="1"/>
<text x="412.60" y="2046.40" font-size="8.59" text-anchor="middle" fill="#333" textLength="12.88" lengthAdjust="spacingAndGlyphs">0.0</text>
<line x1="457.30" y1="2035.28" x2="457.30" y2="2038.28" stroke="#333" stroke-width="1"/>
<text x="457.30" y="2046.40" font-size="8.59" text-anchor="middle" fill="#333" textLength="12.88" lengthAdjust="spacingAndGlyphs">2.5</text>
<text x="267.50" y="2058.90" font-size="11.45" text-anchor="middle" fill="#222" textLength="89.95" lengthAdjust="spacingAndGlyphs">SHAP Value [kts]</text>
<linearGradient id="fv" x1="0" x2="1" y1="0" y2="0"><stop offset="0" stop-color="#008bfb"/><stop offset="0.18" stop-color="#0070e8"/><stop offset="0.45" stop-color="#7a40c8"/><stop offset="0.55" stop-color="#a020a8"/><stop offset="0.7" stop-color="#d00090"/><stop offset="0.85" stop-color="#f00068"/><stop offset="1" stop-color="#ff0052"/></linearGradient>
<rect x="29.10" y="2083.10" width="587.70" height="24.70" fill="url(#fv)" stroke="#333" stroke-width="0.8"/>
<text x="616.80" y="2078.70" font-size="9.54" text-anchor="end" fill="#222" textLength="61.59" lengthAdjust="spacingAndGlyphs">Feature Value</text>
<text x="29.10" y="2119.00" font-size="9.54" text-anchor="middle" fill="#222" textLength="17.72" lengthAdjust="spacingAndGlyphs">Low</text>
<text x="616.80" y="2119.00" font-size="9.54" text-anchor="middle" fill="#222" textLength="20.69" lengthAdjust="spacingAndGlyphs">High</text>
<text x="29.10" y="2135.50" font-size="9.57" text-anchor="start" fill="#222" textLength="504.70" lengthAdjust="spacingAndGlyphs">SHAP Value: Amount each feature [listed on Y-axis] contributes to the predicted intensity above or below 60 kts</text>
<line x1="507.50" y1="2137.50" x2="533.80" y2="2137.50" stroke="#333" stroke-width="0.8"/>
<text x="29.10" y="2150.60" font-size="9.57" text-anchor="start" fill="#222" textLength="481.40" lengthAdjust="spacingAndGlyphs">Feature Value: The value of the feature [listed on Y-axis] for the given TC compared to the training dataset</text>
<text x="718.80" y="915.40" font-size="12.49" text-anchor="start" fill="#111" textLength="396.87" lengthAdjust="spacingAndGlyphs">Comparison of IR SHAP Values for 2025_08E at 20250808 0710UTC</text>
<text x="818.00" y="933.40" font-size="11.61" text-anchor="middle" fill="#111" textLength="78.03" lengthAdjust="spacingAndGlyphs">0h old IR Data</text>
<text x="1055.00" y="933.40" font-size="11.61" text-anchor="middle" fill="#111" textLength="127.13" lengthAdjust="spacingAndGlyphs">SHAP Value=-10.45 kts</text>
<g transform="translate(718,938)"><use href="#ir0"/></g>
<g transform="translate(955,938)"><use href="#sh0"/></g>
<rect x="717.50" y="937.50" width="201.00" height="201.00" fill="none" stroke="#3a3a3a" stroke-width="1"/>
<rect x="954.50" y="937.50" width="201.00" height="201.00" fill="none" stroke="#3a3a3a" stroke-width="1"/>
<line x1="738.10" y1="1138.00" x2="738.10" y2="1141.00" stroke="#333" stroke-width="0.9"/>
<text x="738.10" y="1149.80" font-size="9.75" text-anchor="middle" fill="#111" textLength="25.27" lengthAdjust="spacingAndGlyphs">−142</text>
<line x1="767.83" y1="1138.00" x2="767.83" y2="1141.00" stroke="#333" stroke-width="0.9"/>
<text x="767.83" y="1149.80" font-size="9.75" text-anchor="middle" fill="#111" textLength="25.27" lengthAdjust="spacingAndGlyphs">−141</text>
<line x1="797.56" y1="1138.00" x2="797.56" y2="1141.00" stroke="#333" stroke-width="0.9"/>
<text x="797.56" y="1149.80" font-size="9.75" text-anchor="middle" fill="#111" textLength="25.27" lengthAdjust="spacingAndGlyphs">−140</text>
<line x1="827.29" y1="1138.00" x2="827.29" y2="1141.00" stroke="#333" stroke-width="0.9"/>
<text x="827.29" y="1149.80" font-size="9.75" text-anchor="middle" fill="#111" textLength="25.27" lengthAdjust="spacingAndGlyphs">−139</text>
<line x1="857.02" y1="1138.00" x2="857.02" y2="1141.00" stroke="#333" stroke-width="0.9"/>
<text x="857.02" y="1149.80" font-size="9.75" text-anchor="middle" fill="#111" textLength="25.27" lengthAdjust="spacingAndGlyphs">−138</text>
<line x1="886.75" y1="1138.00" x2="886.75" y2="1141.00" stroke="#333" stroke-width="0.9"/>
<text x="886.75" y="1149.80" font-size="9.75" text-anchor="middle" fill="#111" textLength="25.27" lengthAdjust="spacingAndGlyphs">−137</text>
<line x1="916.48" y1="1138.00" x2="916.48" y2="1141.00" stroke="#333" stroke-width="0.9"/>
<text x="916.48" y="1149.80" font-size="9.75" text-anchor="middle" fill="#111" textLength="25.27" lengthAdjust="spacingAndGlyphs">−136</text>
<line x1="975.10" y1="1138.00" x2="975.10" y2="1141.00" stroke="#333" stroke-width="0.9"/>
<line x1="1004.83" y1="1138.00" x2="1004.83" y2="1141.00" stroke="#333" stroke-width="0.9"/>
<line x1="1034.56" y1="1138.00" x2="1034.56" y2="1141.00" stroke="#333" stroke-width="0.9"/>
<line x1="1064.29" y1="1138.00" x2="1064.29" y2="1141.00" stroke="#333" stroke-width="0.9"/>
<line x1="1094.02" y1="1138.00" x2="1094.02" y2="1141.00" stroke="#333" stroke-width="0.9"/>
<line x1="1123.75" y1="1138.00" x2="1123.75" y2="1141.00" stroke="#333" stroke-width="0.9"/>
<line x1="1153.48" y1="1138.00" x2="1153.48" y2="1141.00" stroke="#333" stroke-width="0.9"/>
<line x1="715.00" y1="946.90" x2="718.00" y2="946.90" stroke="#333" stroke-width="0.9"/>
<line x1="952.00" y1="946.90" x2="955.00" y2="946.90" stroke="#333" stroke-width="0.9"/>
<text x="711.80" y="950.30" font-size="9.75" text-anchor="end" fill="#111" textLength="11.71" lengthAdjust="spacingAndGlyphs">22</text>
<line x1="715.00" y1="978.25" x2="718.00" y2="978.25" stroke="#333" stroke-width="0.9"/>
<line x1="952.00" y1="978.25" x2="955.00" y2="978.25" stroke="#333" stroke-width="0.9"/>
<text x="711.80" y="981.65" font-size="9.75" text-anchor="end" fill="#111" textLength="11.71" lengthAdjust="spacingAndGlyphs">21</text>
<line x1="715.00" y1="1009.60" x2="718.00" y2="1009.60" stroke="#333" stroke-width="0.9"/>
<line x1="952.00" y1="1009.60" x2="955.00" y2="1009.60" stroke="#333" stroke-width="0.9"/>
<text x="711.80" y="1013.00" font-size="9.75" text-anchor="end" fill="#111" textLength="11.71" lengthAdjust="spacingAndGlyphs">20</text>
<line x1="715.00" y1="1040.95" x2="718.00" y2="1040.95" stroke="#333" stroke-width="0.9"/>
<line x1="952.00" y1="1040.95" x2="955.00" y2="1040.95" stroke="#333" stroke-width="0.9"/>
<text x="711.80" y="1044.35" font-size="9.75" text-anchor="end" fill="#111" textLength="11.71" lengthAdjust="spacingAndGlyphs">19</text>
<line x1="715.00" y1="1072.30" x2="718.00" y2="1072.30" stroke="#333" stroke-width="0.9"/>
<line x1="952.00" y1="1072.30" x2="955.00" y2="1072.30" stroke="#333" stroke-width="0.9"/>
<text x="711.80" y="1075.70" font-size="9.75" text-anchor="end" fill="#111" textLength="11.71" lengthAdjust="spacingAndGlyphs">18</text>
<line x1="715.00" y1="1103.65" x2="718.00" y2="1103.65" stroke="#333" stroke-width="0.9"/>
<line x1="952.00" y1="1103.65" x2="955.00" y2="1103.65" stroke="#333" stroke-width="0.9"/>
<text x="711.80" y="1107.05" font-size="9.75" text-anchor="end" fill="#111" textLength="11.71" lengthAdjust="spacingAndGlyphs">17</text>
<line x1="715.00" y1="1135.00" x2="718.00" y2="1135.00" stroke="#333" stroke-width="0.9"/>
<line x1="952.00" y1="1135.00" x2="955.00" y2="1135.00" stroke="#333" stroke-width="0.9"/>
<text x="711.80" y="1138.40" font-size="9.75" text-anchor="end" fill="#111" textLength="11.71" lengthAdjust="spacingAndGlyphs">16</text>
<text x="818.00" y="1170.40" font-size="11.61" text-anchor="middle" fill="#111" textLength="78.03" lengthAdjust="spacingAndGlyphs">3h old IR Data</text>
<text x="1055.00" y="1170.40" font-size="11.61" text-anchor="middle" fill="#111" textLength="116.21" lengthAdjust="spacingAndGlyphs">SHAP Value=0.82 kts</text>
<g transform="translate(718,1175)"><use href="#ir1"/></g>
<g transform="translate(955,1175)"><use href="#sh1"/></g>
<rect x="717.50" y="1174.50" width="201.00" height="201.00" fill="none" stroke="#3a3a3a" stroke-width="1"/>
<rect x="954.50" y="1174.50" width="201.00" height="201.00" fill="none" stroke="#3a3a3a" stroke-width="1"/>
<line x1="724.20" y1="1375.00" x2="724.20" y2="1378.00" stroke="#333" stroke-width="0.9"/>
<text x="724.20" y="1386.80" font-size="9.75" text-anchor="middle" fill="#111" textLength="25.27" lengthAdjust="spacingAndGlyphs">−142</text>
<line x1="753.86" y1="1375.00" x2="753.86" y2="1378.00" stroke="#333" stroke-width="0.9"/>
<text x="753.86" y="1386.80" font-size="9.75" text-anchor="middle" fill="#111" textLength="25.27" lengthAdjust="spacingAndGlyphs">−141</text>
<line x1="783.52" y1="1375.00" x2="783.52" y2="1378.00" stroke="#333" stroke-width="0.9"/>
<text x="783.52" y="1386.80" font-size="9.75" text-anchor="middle" fill="#111" textLength="25.27" lengthAdjust="spacingAndGlyphs">−140</text>
<line x1="813.18" y1="1375.00" x2="813.18" y2="1378.00" stroke="#333" stroke-width="0.9"/>
<text x="813.18" y="1386.80" font-size="9.75" text-anchor="middle" fill="#111" textLength="25.27" lengthAdjust="spacingAndGlyphs">−139</text>
<line x1="842.84" y1="1375.00" x2="842.84" y2="1378.00" stroke="#333" stroke-width="0.9"/>
<text x="842.84" y="1386.80" font-size="9.75" text-anchor="middle" fill="#111" textLength="25.27" lengthAdjust="spacingAndGlyphs">−138</text>
<line x1="872.50" y1="1375.00" x2="872.50" y2="1378.00" stroke="#333" stroke-width="0.9"/>
<text x="872.50" y="1386.80" font-size="9.75" text-anchor="middle" fill="#111" textLength="25.27" lengthAdjust="spacingAndGlyphs">−137</text>
<line x1="902.16" y1="1375.00" x2="902.16" y2="1378.00" stroke="#333" stroke-width="0.9"/>
<text x="902.16" y="1386.80" font-size="9.75" text-anchor="middle" fill="#111" textLength="25.27" lengthAdjust="spacingAndGlyphs">−136</text>
<line x1="961.20" y1="1375.00" x2="961.20" y2="1378.00" stroke="#333" stroke-width="0.9"/>
<line x1="990.86" y1="1375.00" x2="990.86" y2="1378.00" stroke="#333" stroke-width="0.9"/>
<line x1="1020.52" y1="1375.00" x2="1020.52" y2="1378.00" stroke="#333" stroke-width="0.9"/>
<line x1="1050.18" y1="1375.00" x2="1050.18" y2="1378.00" stroke="#333" stroke-width="0.9"/>
<line x1="1079.84" y1="1375.00" x2="1079.84" y2="1378.00" stroke="#333" stroke-width="0.9"/>
<line x1="1109.50" y1="1375.00" x2="1109.50" y2="1378.00" stroke="#333" stroke-width="0.9"/>
<line x1="1139.16" y1="1375.00" x2="1139.16" y2="1378.00" stroke="#333" stroke-width="0.9"/>
<line x1="715.00" y1="1182.50" x2="718.00" y2="1182.50" stroke="#333" stroke-width="0.9"/>
<line x1="952.00" y1="1182.50" x2="955.00" y2="1182.50" stroke="#333" stroke-width="0.9"/>
<text x="711.80" y="1185.90" font-size="9.75" text-anchor="end" fill="#111" textLength="11.71" lengthAdjust="spacingAndGlyphs">22</text>
<line x1="715.00" y1="1213.90" x2="718.00" y2="1213.90" stroke="#333" stroke-width="0.9"/>
<line x1="952.00" y1="1213.90" x2="955.00" y2="1213.90" stroke="#333" stroke-width="0.9"/>
<text x="711.80" y="1217.30" font-size="9.75" text-anchor="end" fill="#111" textLength="11.71" lengthAdjust="spacingAndGlyphs">21</text>
<line x1="715.00" y1="1245.30" x2="718.00" y2="1245.30" stroke="#333" stroke-width="0.9"/>
<line x1="952.00" y1="1245.30" x2="955.00" y2="1245.30" stroke="#333" stroke-width="0.9"/>
<text x="711.80" y="1248.70" font-size="9.75" text-anchor="end" fill="#111" textLength="11.71" lengthAdjust="spacingAndGlyphs">20</text>
<line x1="715.00" y1="1276.70" x2="718.00" y2="1276.70" stroke="#333" stroke-width="0.9"/>
<line x1="952.00" y1="1276.70" x2="955.00" y2="1276.70" stroke="#333" stroke-width="0.9"/>
<text x="711.80" y="1280.10" font-size="9.75" text-anchor="end" fill="#111" textLength="11.71" lengthAdjust="spacingAndGlyphs">19</text>
<line x1="715.00" y1="1308.10" x2="718.00" y2="1308.10" stroke="#333" stroke-width="0.9"/>
<line x1="952.00" y1="1308.10" x2="955.00" y2="1308.10" stroke="#333" stroke-width="0.9"/>
<text x="711.80" y="1311.50" font-size="9.75" text-anchor="end" fill="#111" textLength="11.71" lengthAdjust="spacingAndGlyphs">18</text>
<line x1="715.00" y1="1339.50" x2="718.00" y2="1339.50" stroke="#333" stroke-width="0.9"/>
<line x1="952.00" y1="1339.50" x2="955.00" y2="1339.50" stroke="#333" stroke-width="0.9"/>
<text x="711.80" y="1342.90" font-size="9.75" text-anchor="end" fill="#111" textLength="11.71" lengthAdjust="spacingAndGlyphs">17</text>
<line x1="715.00" y1="1370.90" x2="718.00" y2="1370.90" stroke="#333" stroke-width="0.9"/>
<line x1="952.00" y1="1370.90" x2="955.00" y2="1370.90" stroke="#333" stroke-width="0.9"/>
<text x="711.80" y="1374.30" font-size="9.75" text-anchor="end" fill="#111" textLength="11.71" lengthAdjust="spacingAndGlyphs">16</text>
<text x="818.00" y="1408.40" font-size="11.61" text-anchor="middle" fill="#111" textLength="78.03" lengthAdjust="spacingAndGlyphs">6h old IR Data</text>
<text x="1055.00" y="1408.40" font-size="11.61" text-anchor="middle" fill="#111" textLength="120.16" lengthAdjust="spacingAndGlyphs">SHAP Value=-4.41 kts</text>
<g transform="translate(718,1413)"><use href="#ir2"/></g>
<g transform="translate(955,1413)"><use href="#sh2"/></g>
<rect x="717.50" y="1412.50" width="201.00" height="201.00" fill="none" stroke="#3a3a3a" stroke-width="1"/>
<rect x="954.50" y="1412.50" width="201.00" height="201.00" fill="none" stroke="#3a3a3a" stroke-width="1"/>
<line x1="730.50" y1="1613.00" x2="730.50" y2="1616.00" stroke="#333" stroke-width="0.9"/>
<text x="730.50" y="1624.80" font-size="9.75" text-anchor="middle" fill="#111" textLength="25.27" lengthAdjust="spacingAndGlyphs">−141</text>
<line x1="760.15" y1="1613.00" x2="760.15" y2="1616.00" stroke="#333" stroke-width="0.9"/>
<text x="760.15" y="1624.80" font-size="9.75" text-anchor="middle" fill="#111" textLength="25.27" lengthAdjust="spacingAndGlyphs">−140</text>
<line x1="789.80" y1="1613.00" x2="789.80" y2="1616.00" stroke="#333" stroke-width="0.9"/>
<text x="789.80" y="1624.80" font-size="9.75" text-anchor="middle" fill="#111" textLength="25.27" lengthAdjust="spacingAndGlyphs">−139</text>
<line x1="819.45" y1="1613.00" x2="819.45" y2="1616.00" stroke="#333" stroke-width="0.9"/>
<text x="819.45" y="1624.80" font-size="9.75" text-anchor="middle" fill="#111" textLength="25.27" lengthAdjust="spacingAndGlyphs">−138</text>
<line x1="849.10" y1="1613.00" x2="849.10" y2="1616.00" stroke="#333" stroke-width="0.9"/>
<text x="849.10" y="1624.80" font-size="9.75" text-anchor="middle" fill="#111" textLength="25.27" lengthAdjust="spacingAndGlyphs">−137</text>
<line x1="878.75" y1="1613.00" x2="878.75" y2="1616.00" stroke="#333" stroke-width="0.9"/>
<text x="878.75" y="1624.80" font-size="9.75" text-anchor="middle" fill="#111" textLength="25.27" lengthAdjust="spacingAndGlyphs">−136</text>
<line x1="908.40" y1="1613.00" x2="908.40" y2="1616.00" stroke="#333" stroke-width="0.9"/>
<text x="908.40" y="1624.80" font-size="9.75" text-anchor="middle" fill="#111" textLength="25.27" lengthAdjust="spacingAndGlyphs">−135</text>
<line x1="967.50" y1="1613.00" x2="967.50" y2="1616.00" stroke="#333" stroke-width="0.9"/>
<line x1="997.15" y1="1613.00" x2="997.15" y2="1616.00" stroke="#333" stroke-width="0.9"/>
<line x1="1026.80" y1="1613.00" x2="1026.80" y2="1616.00" stroke="#333" stroke-width="0.9"/>
<line x1="1056.45" y1="1613.00" x2="1056.45" y2="1616.00" stroke="#333" stroke-width="0.9"/>
<line x1="1086.10" y1="1613.00" x2="1086.10" y2="1616.00" stroke="#333" stroke-width="0.9"/>
<line x1="1115.75" y1="1613.00" x2="1115.75" y2="1616.00" stroke="#333" stroke-width="0.9"/>
<line x1="1145.40" y1="1613.00" x2="1145.40" y2="1616.00" stroke="#333" stroke-width="0.9"/>
<line x1="715.00" y1="1416.60" x2="718.00" y2="1416.60" stroke="#333" stroke-width="0.9"/>
<line x1="952.00" y1="1416.60" x2="955.00" y2="1416.60" stroke="#333" stroke-width="0.9"/>
<text x="711.80" y="1420.00" font-size="9.75" text-anchor="end" fill="#111" textLength="11.71" lengthAdjust="spacingAndGlyphs">22</text>
<line x1="715.00" y1="1448.07" x2="718.00" y2="1448.07" stroke="#333" stroke-width="0.9"/>
<line x1="952.00" y1="1448.07" x2="955.00" y2="1448.07" stroke="#333" stroke-width="0.9"/>
<text x="711.80" y="1451.47" font-size="9.75" text-anchor="end" fill="#111" textLength="11.71" lengthAdjust="spacingAndGlyphs">21</text>
<line x1="715.00" y1="1479.54" x2="718.00" y2="1479.54" stroke="#333" stroke-width="0.9"/>
<line x1="952.00" y1="1479.54" x2="955.00" y2="1479.54" stroke="#333" stroke-width="0.9"/>
<text x="711.80" y="1482.94" font-size="9.75" text-anchor="end" fill="#111" textLength="11.71" lengthAdjust="spacingAndGlyphs">20</text>
<line x1="715.00" y1="1511.01" x2="718.00" y2="1511.01" stroke="#333" stroke-width="0.9"/>
<line x1="952.00" y1="1511.01" x2="955.00" y2="1511.01" stroke="#333" stroke-width="0.9"/>
<text x="711.80" y="1514.41" font-size="9.75" text-anchor="end" fill="#111" textLength="11.71" lengthAdjust="spacingAndGlyphs">19</text>
<line x1="715.00" y1="1542.48" x2="718.00" y2="1542.48" stroke="#333" stroke-width="0.9"/>
<line x1="952.00" y1="1542.48" x2="955.00" y2="1542.48" stroke="#333" stroke-width="0.9"/>
<text x="711.80" y="1545.88" font-size="9.75" text-anchor="end" fill="#111" textLength="11.71" lengthAdjust="spacingAndGlyphs">18</text>
<line x1="715.00" y1="1573.95" x2="718.00" y2="1573.95" stroke="#333" stroke-width="0.9"/>
<line x1="952.00" y1="1573.95" x2="955.00" y2="1573.95" stroke="#333" stroke-width="0.9"/>
<text x="711.80" y="1577.35" font-size="9.75" text-anchor="end" fill="#111" textLength="11.71" lengthAdjust="spacingAndGlyphs">17</text>
<line x1="715.00" y1="1605.42" x2="718.00" y2="1605.42" stroke="#333" stroke-width="0.9"/>
<line x1="952.00" y1="1605.42" x2="955.00" y2="1605.42" stroke="#333" stroke-width="0.9"/>
<text x="711.80" y="1608.82" font-size="9.75" text-anchor="end" fill="#111" textLength="11.71" lengthAdjust="spacingAndGlyphs">16</text>
<text x="818.00" y="1645.40" font-size="11.61" text-anchor="middle" fill="#111" textLength="78.03" lengthAdjust="spacingAndGlyphs">9h old IR Data</text>
<text x="1055.00" y="1645.40" font-size="11.61" text-anchor="middle" fill="#111" textLength="120.16" lengthAdjust="spacingAndGlyphs">SHAP Value=-1.70 kts</text>
<g transform="translate(718,1650)"><use href="#ir3"/></g>
<g transform="translate(955,1650)"><use href="#sh3"/></g>
<rect x="717.50" y="1649.50" width="201.00" height="201.00" fill="none" stroke="#3a3a3a" stroke-width="1"/>
<rect x="954.50" y="1649.50" width="201.00" height="201.00" fill="none" stroke="#3a3a3a" stroke-width="1"/>
<line x1="735.50" y1="1850.00" x2="735.50" y2="1853.00" stroke="#333" stroke-width="0.9"/>
<text x="735.50" y="1861.80" font-size="9.75" text-anchor="middle" fill="#111" textLength="25.27" lengthAdjust="spacingAndGlyphs">−140</text>
<line x1="765.28" y1="1850.00" x2="765.28" y2="1853.00" stroke="#333" stroke-width="0.9"/>
<text x="765.28" y="1861.80" font-size="9.75" text-anchor="middle" fill="#111" textLength="25.27" lengthAdjust="spacingAndGlyphs">−139</text>
<line x1="795.06" y1="1850.00" x2="795.06" y2="1853.00" stroke="#333" stroke-width="0.9"/>
<text x="795.06" y="1861.80" font-size="9.75" text-anchor="middle" fill="#111" textLength="25.27" lengthAdjust="spacingAndGlyphs">−138</text>
<line x1="824.84" y1="1850.00" x2="824.84" y2="1853.00" stroke="#333" stroke-width="0.9"/>
<text x="824.84" y="1861.80" font-size="9.75" text-anchor="middle" fill="#111" textLength="25.27" lengthAdjust="spacingAndGlyphs">−137</text>
<line x1="854.62" y1="1850.00" x2="854.62" y2="1853.00" stroke="#333" stroke-width="0.9"/>
<text x="854.62" y="1861.80" font-size="9.75" text-anchor="middle" fill="#111" textLength="25.27" lengthAdjust="spacingAndGlyphs">−136</text>
<line x1="884.40" y1="1850.00" x2="884.40" y2="1853.00" stroke="#333" stroke-width="0.9"/>
<text x="884.40" y="1861.80" font-size="9.75" text-anchor="middle" fill="#111" textLength="25.27" lengthAdjust="spacingAndGlyphs">−135</text>
<line x1="914.18" y1="1850.00" x2="914.18" y2="1853.00" stroke="#333" stroke-width="0.9"/>
<text x="914.18" y="1861.80" font-size="9.75" text-anchor="middle" fill="#111" textLength="25.27" lengthAdjust="spacingAndGlyphs">−134</text>
<line x1="972.50" y1="1850.00" x2="972.50" y2="1853.00" stroke="#333" stroke-width="0.9"/>
<line x1="1002.28" y1="1850.00" x2="1002.28" y2="1853.00" stroke="#333" stroke-width="0.9"/>
<line x1="1032.06" y1="1850.00" x2="1032.06" y2="1853.00" stroke="#333" stroke-width="0.9"/>
<line x1="1061.84" y1="1850.00" x2="1061.84" y2="1853.00" stroke="#333" stroke-width="0.9"/>
<line x1="1091.62" y1="1850.00" x2="1091.62" y2="1853.00" stroke="#333" stroke-width="0.9"/>
<line x1="1121.40" y1="1850.00" x2="1121.40" y2="1853.00" stroke="#333" stroke-width="0.9"/>
<line x1="1151.18" y1="1850.00" x2="1151.18" y2="1853.00" stroke="#333" stroke-width="0.9"/>
<line x1="715.00" y1="1651.00" x2="718.00" y2="1651.00" stroke="#333" stroke-width="0.9"/>
<line x1="952.00" y1="1651.00" x2="955.00" y2="1651.00" stroke="#333" stroke-width="0.9"/>
<text x="711.80" y="1654.40" font-size="9.75" text-anchor="end" fill="#111" textLength="11.71" lengthAdjust="spacingAndGlyphs">22</text>
<line x1="715.00" y1="1682.55" x2="718.00" y2="1682.55" stroke="#333" stroke-width="0.9"/>
<line x1="952.00" y1="1682.55" x2="955.00" y2="1682.55" stroke="#333" stroke-width="0.9"/>
<text x="711.80" y="1685.95" font-size="9.75" text-anchor="end" fill="#111" textLength="11.71" lengthAdjust="spacingAndGlyphs">21</text>
<line x1="715.00" y1="1714.10" x2="718.00" y2="1714.10" stroke="#333" stroke-width="0.9"/>
<line x1="952.00" y1="1714.10" x2="955.00" y2="1714.10" stroke="#333" stroke-width="0.9"/>
<text x="711.80" y="1717.50" font-size="9.75" text-anchor="end" fill="#111" textLength="11.71" lengthAdjust="spacingAndGlyphs">20</text>
<line x1="715.00" y1="1745.65" x2="718.00" y2="1745.65" stroke="#333" stroke-width="0.9"/>
<line x1="952.00" y1="1745.65" x2="955.00" y2="1745.65" stroke="#333" stroke-width="0.9"/>
<text x="711.80" y="1749.05" font-size="9.75" text-anchor="end" fill="#111" textLength="11.71" lengthAdjust="spacingAndGlyphs">19</text>
<line x1="715.00" y1="1777.20" x2="718.00" y2="1777.20" stroke="#333" stroke-width="0.9"/>
<line x1="952.00" y1="1777.20" x2="955.00" y2="1777.20" stroke="#333" stroke-width="0.9"/>
<text x="711.80" y="1780.60" font-size="9.75" text-anchor="end" fill="#111" textLength="11.71" lengthAdjust="spacingAndGlyphs">18</text>
<line x1="715.00" y1="1808.75" x2="718.00" y2="1808.75" stroke="#333" stroke-width="0.9"/>
<line x1="952.00" y1="1808.75" x2="955.00" y2="1808.75" stroke="#333" stroke-width="0.9"/>
<text x="711.80" y="1812.15" font-size="9.75" text-anchor="end" fill="#111" textLength="11.71" lengthAdjust="spacingAndGlyphs">17</text>
<line x1="715.00" y1="1840.30" x2="718.00" y2="1840.30" stroke="#333" stroke-width="0.9"/>
<line x1="952.00" y1="1840.30" x2="955.00" y2="1840.30" stroke="#333" stroke-width="0.9"/>
<text x="711.80" y="1843.70" font-size="9.75" text-anchor="end" fill="#111" textLength="11.71" lengthAdjust="spacingAndGlyphs">16</text>
<text x="818.00" y="1883.40" font-size="11.61" text-anchor="middle" fill="#111" textLength="84.99" lengthAdjust="spacingAndGlyphs">12h old IR Data</text>
<text x="1055.00" y="1883.40" font-size="11.61" text-anchor="middle" fill="#111" textLength="127.13" lengthAdjust="spacingAndGlyphs">SHAP Value=-18.23 kts</text>
<g transform="translate(718,1888)"><use href="#ir4"/></g>
<g transform="translate(955,1888)"><use href="#sh4"/></g>
<rect x="717.50" y="1887.50" width="201.00" height="201.00" fill="none" stroke="#3a3a3a" stroke-width="1"/>
<rect x="954.50" y="1887.50" width="201.00" height="201.00" fill="none" stroke="#3a3a3a" stroke-width="1"/>
<line x1="741.30" y1="2088.00" x2="741.30" y2="2091.00" stroke="#333" stroke-width="0.9"/>
<text x="741.30" y="2099.80" font-size="9.75" text-anchor="middle" fill="#111" textLength="25.27" lengthAdjust="spacingAndGlyphs">−139</text>
<line x1="771.16" y1="2088.00" x2="771.16" y2="2091.00" stroke="#333" stroke-width="0.9"/>
<text x="771.16" y="2099.80" font-size="9.75" text-anchor="middle" fill="#111" textLength="25.27" lengthAdjust="spacingAndGlyphs">−138</text>
<line x1="801.02" y1="2088.00" x2="801.02" y2="2091.00" stroke="#333" stroke-width="0.9"/>
<text x="801.02" y="2099.80" font-size="9.75" text-anchor="middle" fill="#111" textLength="25.27" lengthAdjust="spacingAndGlyphs">−137</text>
<line x1="830.88" y1="2088.00" x2="830.88" y2="2091.00" stroke="#333" stroke-width="0.9"/>
<text x="830.88" y="2099.80" font-size="9.75" text-anchor="middle" fill="#111" textLength="25.27" lengthAdjust="spacingAndGlyphs">−136</text>
<line x1="860.74" y1="2088.00" x2="860.74" y2="2091.00" stroke="#333" stroke-width="0.9"/>
<text x="860.74" y="2099.80" font-size="9.75" text-anchor="middle" fill="#111" textLength="25.27" lengthAdjust="spacingAndGlyphs">−135</text>
<line x1="890.60" y1="2088.00" x2="890.60" y2="2091.00" stroke="#333" stroke-width="0.9"/>
<text x="890.60" y="2099.80" font-size="9.75" text-anchor="middle" fill="#111" textLength="25.27" lengthAdjust="spacingAndGlyphs">−134</text>
<line x1="978.30" y1="2088.00" x2="978.30" y2="2091.00" stroke="#333" stroke-width="0.9"/>
<line x1="1008.16" y1="2088.00" x2="1008.16" y2="2091.00" stroke="#333" stroke-width="0.9"/>
<line x1="1038.02" y1="2088.00" x2="1038.02" y2="2091.00" stroke="#333" stroke-width="0.9"/>
<line x1="1067.88" y1="2088.00" x2="1067.88" y2="2091.00" stroke="#333" stroke-width="0.9"/>
<line x1="1097.74" y1="2088.00" x2="1097.74" y2="2091.00" stroke="#333" stroke-width="0.9"/>
<line x1="1127.60" y1="2088.00" x2="1127.60" y2="2091.00" stroke="#333" stroke-width="0.9"/>
<line x1="715.00" y1="1917.30" x2="718.00" y2="1917.30" stroke="#333" stroke-width="0.9"/>
<line x1="952.00" y1="1917.30" x2="955.00" y2="1917.30" stroke="#333" stroke-width="0.9"/>
<text x="711.80" y="1920.70" font-size="9.75" text-anchor="end" fill="#111" textLength="11.71" lengthAdjust="spacingAndGlyphs">21</text>
<line x1="715.00" y1="1948.60" x2="718.00" y2="1948.60" stroke="#333" stroke-width="0.9"/>
<line x1="952.00" y1="1948.60" x2="955.00" y2="1948.60" stroke="#333" stroke-width="0.9"/>
<text x="711.80" y="1952.00" font-size="9.75" text-anchor="end" fill="#111" textLength="11.71" lengthAdjust="spacingAndGlyphs">20</text>
<line x1="715.00" y1="1979.90" x2="718.00" y2="1979.90" stroke="#333" stroke-width="0.9"/>
<line x1="952.00" y1="1979.90" x2="955.00" y2="1979.90" stroke="#333" stroke-width="0.9"/>
<text x="711.80" y="1983.30" font-size="9.75" text-anchor="end" fill="#111" textLength="11.71" lengthAdjust="spacingAndGlyphs">19</text>
<line x1="715.00" y1="2011.20" x2="718.00" y2="2011.20" stroke="#333" stroke-width="0.9"/>
<line x1="952.00" y1="2011.20" x2="955.00" y2="2011.20" stroke="#333" stroke-width="0.9"/>
<text x="711.80" y="2014.60" font-size="9.75" text-anchor="end" fill="#111" textLength="11.71" lengthAdjust="spacingAndGlyphs">18</text>
<line x1="715.00" y1="2042.50" x2="718.00" y2="2042.50" stroke="#333" stroke-width="0.9"/>
<line x1="952.00" y1="2042.50" x2="955.00" y2="2042.50" stroke="#333" stroke-width="0.9"/>
<text x="711.80" y="2045.90" font-size="9.75" text-anchor="end" fill="#111" textLength="11.71" lengthAdjust="spacingAndGlyphs">17</text>
<line x1="715.00" y1="2073.80" x2="718.00" y2="2073.80" stroke="#333" stroke-width="0.9"/>
<line x1="952.00" y1="2073.80" x2="955.00" y2="2073.80" stroke="#333" stroke-width="0.9"/>
<text x="711.80" y="2077.20" font-size="9.75" text-anchor="end" fill="#111" textLength="11.71" lengthAdjust="spacingAndGlyphs">16</text>
<linearGradient id="btc" x1="0" x2="1" y1="0" y2="0">
<stop offset="0" stop-color="#800090"/><stop offset="0.0769" stop-color="#e000e0"/>
<stop offset="0.0770" stop-color="#ffffff"/><stop offset="0.1538" stop-color="#000000"/>
<stop offset="0.20" stop-color="#600000"/><stop offset="0.2692" stop-color="#ff0000"/>
<stop offset="0.3077" stop-color="#ff8000"/><stop offset="0.3846" stop-color="#ffff00"/>
<stop offset="0.50" stop-color="#00ff00"/><stop offset="0.6154" stop-color="#0000ff"/>
<stop offset="0.7180" stop-color="#00ffff"/><stop offset="0.7181" stop-color="#ffffff"/>
<stop offset="1" stop-color="#000000"/></linearGradient>
<rect x="718.10" y="2125.60" width="200.10" height="12.40" fill="url(#btc)" stroke="#333" stroke-width="0.8"/>
<text x="817.70" y="2121.70" font-size="10.25" text-anchor="middle" fill="#111" textLength="132.80" lengthAdjust="spacingAndGlyphs">Brightness Temperature [K]</text>
<line x1="718.10" y1="2138.00" x2="718.10" y2="2140.50" stroke="#333" stroke-width="0.8"/>
<text x="718.10" y="2148.30" font-size="7.42" text-anchor="middle" fill="#222" textLength="13.36" lengthAdjust="spacingAndGlyphs">180</text>
<line x1="748.88" y1="2138.00" x2="748.88" y2="2140.50" stroke="#333" stroke-width="0.8"/>
<text x="748.88" y="2148.30" font-size="7.42" text-anchor="middle" fill="#222" textLength="13.36" lengthAdjust="spacingAndGlyphs">200</text>
<line x1="779.67" y1="2138.00" x2="779.67" y2="2140.50" stroke="#333" stroke-width="0.8"/>
<text x="779.67" y="2148.30" font-size="7.42" text-anchor="middle" fill="#222" textLength="13.36" lengthAdjust="spacingAndGlyphs">220</text>
<line x1="810.45" y1="2138.00" x2="810.45" y2="2140.50" stroke="#333" stroke-width="0.8"/>
<text x="810.45" y="2148.30" font-size="7.42" text-anchor="middle" fill="#222" textLength="13.36" lengthAdjust="spacingAndGlyphs">240</text>
<line x1="841.24" y1="2138.00" x2="841.24" y2="2140.50" stroke="#333" stroke-width="0.8"/>
<text x="841.24" y="2148.30" font-size="7.42" text-anchor="middle" fill="#222" textLength="13.36" lengthAdjust="spacingAndGlyphs">260</text>
<line x1="872.02" y1="2138.00" x2="872.02" y2="2140.50" stroke="#333" stroke-width="0.8"/>
<text x="872.02" y="2148.30" font-size="7.42" text-anchor="middle" fill="#222" textLength="13.36" lengthAdjust="spacingAndGlyphs">280</text>
<line x1="902.81" y1="2138.00" x2="902.81" y2="2140.50" stroke="#333" stroke-width="0.8"/>
<text x="902.81" y="2148.30" font-size="7.42" text-anchor="middle" fill="#222" textLength="13.36" lengthAdjust="spacingAndGlyphs">300</text>
<linearGradient id="seis" x1="0" x2="1" y1="0" y2="0">
<stop offset="0" stop-color="#00004c"/><stop offset="0.25" stop-color="#0000ff"/>
<stop offset="0.5" stop-color="#ffffff"/><stop offset="0.75" stop-color="#ff0000"/>
<stop offset="1" stop-color="#7f0000"/></linearGradient>
<rect x="955.60" y="2125.40" width="200.10" height="12.60" fill="url(#seis)" stroke="#333" stroke-width="0.8"/>
<text x="1055.60" y="2121.50" font-size="10.25" text-anchor="middle" fill="#111" textLength="60.52" lengthAdjust="spacingAndGlyphs">SHAP Values</text>
<line x1="992.30" y1="2138.00" x2="992.30" y2="2141.00" stroke="#333" stroke-width="0.8"/>
<text x="992.30" y="2150.80" font-size="10.81" text-anchor="middle" fill="#111" textLength="31.26" lengthAdjust="spacingAndGlyphs">−0.05</text>
<line x1="1055.60" y1="2138.00" x2="1055.60" y2="2141.00" stroke="#333" stroke-width="0.8"/>
<text x="1055.60" y="2150.80" font-size="10.81" text-anchor="middle" fill="#111" textLength="22.71" lengthAdjust="spacingAndGlyphs">0.00</text>
<line x1="1119.20" y1="2138.00" x2="1119.20" y2="2141.00" stroke="#333" stroke-width="0.8"/>
<text x="1119.20" y="2150.80" font-size="10.81" text-anchor="middle" fill="#111" textLength="22.71" lengthAdjust="spacingAndGlyphs">0.05</text>
</svg></body></html>
